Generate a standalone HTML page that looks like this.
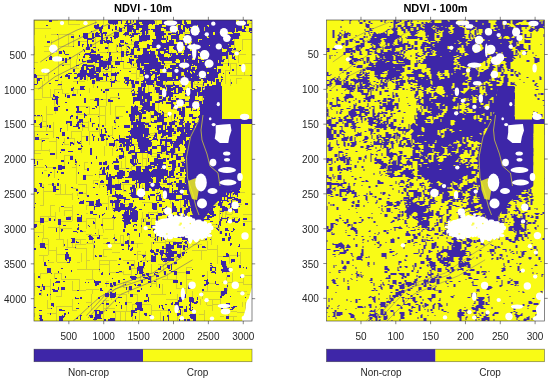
<!DOCTYPE html>
<html><head><meta charset="utf-8"><style>
html,body{margin:0;padding:0;background:#fff;width:550px;height:381px;overflow:hidden}
svg{display:block;font-family:"Liberation Sans",sans-serif}
text{will-change:transform}
</style></head><body>
<svg width="550" height="381" viewBox="0 0 550 381">
<defs><filter id="bl" x="0" y="0" width="1" height="1"><feGaussianBlur stdDeviation="0.45"/></filter><clipPath id="cl"><rect x="34" y="20" width="218" height="301"/></clipPath><clipPath id="cr"><rect x="326.5" y="20" width="218" height="301"/></clipPath></defs><g clip-path="url(#cl)"><g filter="url(#bl)"><rect x="34" y="20" width="218" height="301" fill="#f9fb15"/><path fill="#3e26a8" d="M108 20h14v1h-14zM136 20h18v1h-18zM127 20h1v1h-1zM250 20h2v1h-2zM244 20h3v2h-3zM184 20h2v2h-2zM133 20h1v2h-1zM49 20h3v2h-3zM239 20h4v2h-4zM136 21h19v1h-19zM173 20h9v3h-9zM130 20h1v3h-1zM108 21h10v2h-10zM126 21h2v2h-2zM136 22h3v1h-3zM162 20h5v4h-5zM191 20h45v4h-45zM121 21h1v3h-1zM239 22h8v2h-8zM142 22h13v2h-13zM184 22h3v2h-3zM109 23h9v1h-9zM172 23h10v1h-10zM125 23h6v1h-6zM134 23h5v1h-5zM115 24h1v1h-1zM159 24h7v1h-7zM169 24h1v1h-1zM127 24h2v1h-2zM152 24h1v1h-1zM143 24h6v1h-6zM113 24h1v1h-1zM185 24h64v1h-64zM132 24h8v1h-8zM180 24h3v1h-3zM173 24h4v1h-4zM97 24h2v1h-2zM102 25h1v1h-1zM198 25h9v1h-9zM244 25h5v1h-5zM124 25h9v1h-9zM46 25h2v1h-2zM166 25h10v2h-10zM94 25h5v2h-5zM155 25h7v2h-7zM209 25h33v2h-33zM183 25h14v2h-14zM127 26h7v1h-7zM198 26h10v1h-10zM244 26h1v1h-1zM125 26h1v1h-1zM101 26h2v1h-2zM136 25h12v3h-12zM186 27h4v1h-4zM127 27h6v1h-6zM94 27h9v1h-9zM155 27h17v1h-17zM192 27h12v1h-12zM119 27h1v1h-1zM205 27h37v1h-37zM178 25h3v4h-3zM108 25h2v4h-2zM124 27h1v2h-1zM244 27h2v2h-2zM155 28h6v1h-6zM164 28h8v1h-8zM127 28h7v1h-7zM187 28h1v1h-1zM236 28h6v1h-6zM189 28h15v1h-15zM95 28h8v1h-8zM142 28h6v1h-6zM136 28h3v1h-3zM115 26h2v4h-2zM183 27h2v3h-2zM142 29h8v1h-8zM178 29h4v1h-4zM151 29h10v1h-10zM127 29h12v1h-12zM249 28h3v3h-3zM205 28h30v3h-30zM166 29h6v2h-6zM236 29h9v2h-9zM99 29h3v2h-3zM195 29h9v2h-9zM189 29h5v2h-5zM112 29h1v2h-1zM153 30h8v1h-8zM141 30h7v1h-7zM175 30h1v1h-1zM119 28h3v4h-3zM127 30h5v2h-5zM179 30h6v2h-6zM133 30h3v2h-3zM153 31h11v1h-11zM195 31h4v1h-4zM236 31h2v1h-2zM91 31h1v1h-1zM242 31h4v1h-4zM249 31h1v1h-1zM190 31h4v1h-4zM175 31h3v1h-3zM140 31h5v1h-5zM200 31h35v1h-35zM100 31h2v2h-2zM125 32h4v1h-4zM232 32h2v1h-2zM215 32h6v1h-6zM172 32h3v1h-3zM176 32h2v1h-2zM96 32h2v1h-2zM250 32h2v1h-2zM134 32h2v1h-2zM103 32h4v1h-4zM155 32h9v1h-9zM146 31h2v3h-2zM179 32h4v2h-4zM190 32h23v2h-23zM223 32h5v2h-5zM124 33h5v1h-5zM168 33h10v1h-10zM233 33h7v1h-7zM101 33h6v1h-6zM132 33h8v1h-8zM95 33h5v1h-5zM142 32h3v3h-3zM155 33h11v2h-11zM215 33h7v2h-7zM95 34h4v1h-4zM146 34h1v1h-1zM130 34h1v1h-1zM132 34h6v1h-6zM168 34h3v1h-3zM185 34h28v1h-28zM176 34h4v1h-4zM123 34h6v1h-6zM57 34h1v1h-1zM114 32h5v4h-5zM105 34h1v2h-1zM223 34h17v2h-17zM101 34h2v2h-2zM125 35h1v1h-1zM139 35h1v1h-1zM129 35h5v1h-5zM141 35h9v1h-9zM185 35h37v1h-37zM95 35h5v1h-5zM155 35h9v1h-9zM92 33h2v4h-2zM79 35h1v2h-1zM113 36h6v1h-6zM131 36h3v1h-3zM185 36h22v1h-22zM208 36h31v1h-31zM95 36h8v1h-8zM83 33h5v5h-5zM163 36h1v2h-1zM71 36h3v2h-3zM156 36h6v2h-6zM231 37h8v1h-8zM114 37h4v1h-4zM110 37h2v1h-2zM92 37h3v1h-3zM209 37h20v1h-20zM183 37h24v1h-24zM130 37h2v1h-2zM171 35h8v4h-8zM106 37h2v2h-2zM187 38h52v1h-52zM84 38h10v1h-10zM156 38h10v1h-10zM114 38h2v1h-2zM139 36h11v4h-11zM167 36h1v4h-1zM101 37h2v3h-2zM176 39h3v1h-3zM106 39h1v1h-1zM171 39h1v1h-1zM87 39h5v1h-5zM152 39h14v1h-14zM202 39h31v1h-31zM111 38h1v3h-1zM191 39h7v2h-7zM189 39h1v2h-1zM131 39h1v2h-1zM106 40h4v1h-4zM100 40h5v1h-5zM139 40h8v1h-8zM199 40h33v1h-33zM166 40h1v2h-1zM153 40h8v2h-8zM176 40h9v2h-9zM169 40h5v2h-5zM92 40h2v2h-2zM192 41h6v1h-6zM199 41h35v1h-35zM135 41h7v1h-7zM104 41h8v1h-8zM120 40h4v3h-4zM47 41h3v2h-3zM152 42h10v1h-10zM192 42h42v1h-42zM104 42h9v1h-9zM166 42h8v1h-8zM125 42h1v1h-1zM87 40h1v4h-1zM100 41h3v3h-3zM134 42h5v2h-5zM107 43h2v1h-2zM152 43h22v1h-22zM125 43h3v1h-3zM191 43h43v1h-43zM187 43h1v1h-1zM119 43h1v1h-1zM183 42h2v3h-2zM82 44h2v1h-2zM134 44h4v1h-4zM147 44h2v1h-2zM191 44h37v1h-37zM229 44h5v1h-5zM119 44h2v1h-2zM152 44h26v1h-26zM187 44h2v1h-2zM78 41h2v5h-2zM196 45h13v1h-13zM119 45h5v1h-5zM183 45h7v1h-7zM210 45h21v1h-21zM147 45h35v1h-35zM90 44h2v3h-2zM87 44h2v3h-2zM117 45h1v2h-1zM192 45h3v2h-3zM82 45h1v2h-1zM134 45h5v2h-5zM196 46h35v1h-35zM119 46h3v1h-3zM127 46h2v1h-2zM73 46h1v1h-1zM174 46h8v1h-8zM147 46h3v2h-3zM152 46h17v2h-17zM173 47h9v1h-9zM128 47h2v1h-2zM133 47h6v1h-6zM220 47h9v1h-9zM93 47h3v1h-3zM192 47h26v1h-26zM105 47h3v2h-3zM173 48h10v1h-10zM143 48h7v1h-7zM133 48h1v1h-1zM138 48h2v1h-2zM166 48h3v1h-3zM223 48h10v1h-10zM129 48h1v1h-1zM54 48h1v1h-1zM234 48h2v1h-2zM192 48h30v1h-30zM159 48h5v1h-5zM185 46h5v4h-5zM86 47h4v3h-4zM91 49h2v1h-2zM174 49h9v1h-9zM127 49h1v1h-1zM233 49h3v1h-3zM156 49h13v1h-13zM83 49h1v1h-1zM193 49h29v1h-29zM54 49h2v1h-2zM143 49h4v2h-4zM98 49h1v2h-1zM227 49h5v2h-5zM137 49h3v2h-3zM184 50h6v1h-6zM168 50h1v1h-1zM240 50h1v1h-1zM156 50h10v1h-10zM91 50h3v1h-3zM195 50h27v1h-27zM176 50h7v1h-7zM150 50h1v1h-1zM63 50h1v1h-1zM54 50h3v2h-3zM84 50h1v2h-1zM239 51h1v1h-1zM117 51h1v1h-1zM91 51h5v1h-5zM143 51h12v1h-12zM226 51h5v1h-5zM63 51h2v1h-2zM199 51h23v1h-23zM131 49h3v4h-3zM158 51h2v2h-2zM164 51h5v2h-5zM184 51h14v2h-14zM126 51h3v2h-3zM177 51h1v2h-1zM90 52h6v1h-6zM203 52h25v1h-25zM200 52h2v1h-2zM107 52h1v1h-1zM229 52h3v1h-3zM59 51h3v3h-3zM143 52h6v2h-6zM150 52h5v2h-5zM64 52h1v2h-1zM158 53h3v1h-3zM183 53h45v1h-45zM85 53h6v1h-6zM126 53h1v1h-1zM164 53h1v1h-1zM178 53h4v1h-4zM130 53h4v1h-4zM168 53h8v1h-8zM109 52h2v3h-2zM229 53h5v2h-5zM84 54h12v1h-12zM79 54h1v1h-1zM126 54h8v1h-8zM158 54h6v1h-6zM172 54h4v1h-4zM191 54h37v1h-37zM97 54h3v1h-3zM142 54h13v1h-13zM65 54h4v1h-4zM184 54h4v1h-4zM178 54h3v1h-3zM170 54h1v2h-1zM157 55h7v1h-7zM189 55h39v1h-39zM89 55h11v1h-11zM84 55h1v1h-1zM109 55h1v1h-1zM172 55h16v1h-16zM126 55h2v1h-2zM121 51h3v6h-3zM134 55h3v2h-3zM138 55h18v2h-18zM232 55h1v2h-1zM234 56h1v1h-1zM158 56h6v1h-6zM171 56h27v1h-27zM50 56h2v1h-2zM199 56h23v1h-23zM130 56h2v1h-2zM90 56h13v1h-13zM83 56h2v2h-2zM109 56h3v2h-3zM194 57h4v1h-4zM89 57h14v1h-14zM134 57h22v1h-22zM159 57h9v1h-9zM169 57h24v1h-24zM226 56h2v3h-2zM117 57h1v2h-1zM232 57h3v2h-3zM69 57h2v2h-2zM159 58h33v1h-33zM195 58h3v1h-3zM129 58h1v1h-1zM138 58h20v1h-20zM204 57h18v3h-18zM49 57h3v3h-3zM91 58h10v2h-10zM57 58h1v2h-1zM106 59h1v1h-1zM188 59h4v1h-4zM137 59h21v1h-21zM223 59h2v1h-2zM159 59h17v1h-17zM234 59h2v1h-2zM179 59h5v1h-5zM195 59h6v1h-6zM185 59h2v1h-2zM108 58h4v3h-4zM62 58h2v3h-2zM79 59h1v2h-1zM82 59h1v2h-1zM129 59h5v2h-5zM199 60h19v1h-19zM99 60h4v1h-4zM46 60h1v1h-1zM160 60h16v1h-16zM87 60h10v2h-10zM180 60h4v2h-4zM185 60h13v2h-13zM219 60h5v2h-5zM136 60h22v2h-22zM204 61h14v1h-14zM199 61h3v1h-3zM82 61h4v1h-4zM172 61h3v1h-3zM99 61h12v1h-12zM115 61h9v1h-9zM129 61h3v1h-3zM65 58h2v5h-2zM162 61h2v2h-2zM199 62h19v1h-19zM127 62h5v1h-5zM87 62h6v1h-6zM172 62h4v1h-4zM95 62h16v1h-16zM180 62h18v1h-18zM219 62h2v1h-2zM136 62h25v1h-25zM176 63h45v1h-45zM141 63h3v1h-3zM162 63h3v1h-3zM149 63h12v1h-12zM130 63h2v1h-2zM115 62h5v3h-5zM99 63h12v2h-12zM176 64h16v1h-16zM164 64h1v1h-1zM193 64h30v1h-30zM83 64h4v1h-4zM141 64h20v1h-20zM131 64h1v1h-1zM228 63h1v3h-1zM133 64h1v2h-1zM82 65h12v1h-12zM141 65h23v1h-23zM76 65h3v1h-3zM187 65h7v1h-7zM239 65h2v1h-2zM170 65h15v1h-15zM195 65h28v1h-28zM62 65h2v1h-2zM137 63h3v4h-3zM111 65h2v2h-2zM99 65h8v2h-8zM82 66h2v1h-2zM187 66h4v1h-4zM170 66h13v1h-13zM86 66h9v1h-9zM184 66h1v1h-1zM208 66h9v2h-9zM197 66h9v2h-9zM103 67h3v1h-3zM178 67h5v1h-5zM93 67h2v1h-2zM138 67h2v1h-2zM111 67h4v1h-4zM116 67h1v1h-1zM170 67h6v1h-6zM86 67h2v1h-2zM108 65h1v4h-1zM144 66h20v3h-20zM192 67h3v2h-3zM185 67h6v2h-6zM165 67h1v2h-1zM34 68h1v1h-1zM172 68h11v1h-11zM197 68h17v1h-17zM216 68h1v1h-1zM91 68h4v1h-4zM86 68h3v1h-3zM103 68h2v1h-2zM168 68h2v1h-2zM81 67h3v3h-3zM137 68h5v2h-5zM105 69h3v1h-3zM178 69h17v1h-17zM86 69h9v1h-9zM143 69h9v1h-9zM196 69h21v1h-21zM243 66h2v5h-2zM96 67h5v4h-5zM232 69h2v2h-2zM155 69h5v2h-5zM140 70h4v1h-4zM188 70h29v1h-29zM145 70h5v1h-5zM120 70h1v1h-1zM89 70h6v1h-6zM164 69h12v3h-12zM218 69h3v3h-3zM73 69h2v3h-2zM178 70h9v2h-9zM157 71h3v1h-3zM129 71h2v1h-2zM188 71h2v1h-2zM195 71h22v1h-22zM89 71h12v1h-12zM140 71h15v1h-15zM191 71h2v1h-2zM80 70h7v3h-7zM115 72h1v1h-1zM99 72h1v1h-1zM152 72h8v1h-8zM209 72h12v1h-12zM145 72h5v1h-5zM192 72h2v1h-2zM89 72h7v1h-7zM195 72h12v1h-12zM43 72h2v1h-2zM117 72h2v1h-2zM184 72h6v1h-6zM140 72h4v2h-4zM229 72h1v2h-1zM74 73h3v1h-3zM78 73h21v1h-21zM111 73h8v1h-8zM223 73h1v1h-1zM192 73h15v1h-15zM184 73h7v1h-7zM68 73h4v1h-4zM209 73h10v1h-10zM106 73h2v1h-2zM103 73h1v1h-1zM145 73h6v1h-6zM152 73h15v1h-15zM54 73h1v1h-1zM77 74h17v1h-17zM96 74h3v1h-3zM66 74h2v1h-2zM184 74h34v1h-34zM143 74h10v1h-10zM155 74h4v1h-4zM34 74h2v1h-2zM172 72h9v4h-9zM160 74h7v2h-7zM103 74h5v2h-5zM111 74h6v2h-6zM87 75h12v1h-12zM198 75h20v1h-20zM143 75h9v1h-9zM250 75h2v1h-2zM185 75h12v1h-12zM155 75h2v2h-2zM65 75h5v2h-5zM77 75h9v2h-9zM88 76h11v1h-11zM158 76h9v1h-9zM172 76h4v1h-4zM185 76h33v1h-33zM106 76h3v1h-3zM178 76h6v1h-6zM221 76h1v1h-1zM61 76h1v1h-1zM34 75h3v3h-3zM155 77h21v1h-21zM206 77h12v1h-12zM178 77h13v1h-13zM221 77h2v1h-2zM74 77h4v1h-4zM60 77h2v1h-2zM192 77h13v1h-13zM90 77h13v1h-13zM80 77h3v2h-3zM68 77h2v2h-2zM124 77h5v2h-5zM74 78h3v1h-3zM37 78h5v1h-5zM178 78h21v1h-21zM201 78h14v1h-14zM158 78h18v1h-18zM90 78h4v1h-4zM115 76h1v4h-1zM144 76h7v4h-7zM84 77h2v3h-2zM154 78h3v2h-3zM96 78h7v2h-7zM125 79h4v1h-4zM158 79h15v1h-15zM203 79h12v1h-12zM130 79h1v1h-1zM174 79h27v1h-27zM80 79h2v1h-2zM110 79h1v1h-1zM90 79h1v1h-1zM221 79h2v1h-2zM106 77h1v4h-1zM37 79h3v2h-3zM180 80h21v1h-21zM208 80h7v1h-7zM160 80h19v1h-19zM125 80h9v1h-9zM203 80h4v1h-4zM55 80h3v1h-3zM114 80h3v1h-3zM96 80h4v1h-4zM143 80h14v1h-14zM216 79h3v3h-3zM221 80h1v2h-1zM166 81h1v1h-1zM127 81h2v1h-2zM213 81h2v1h-2zM110 81h5v1h-5zM204 81h3v1h-3zM191 81h3v1h-3zM141 81h4v1h-4zM124 81h1v2h-1zM146 81h8v2h-8zM198 82h1v1h-1zM111 82h4v1h-4zM126 82h3v1h-3zM143 82h2v1h-2zM203 82h4v1h-4zM92 80h3v4h-3zM37 81h1v3h-1zM131 81h3v3h-3zM135 81h4v3h-4zM77 81h1v3h-1zM211 81h1v3h-1zM173 82h1v2h-1zM231 82h1v2h-1zM125 83h4v1h-4zM49 83h2v1h-2zM141 83h12v1h-12zM156 81h7v4h-7zM216 82h5v3h-5zM34 84h3v1h-3zM173 84h2v1h-2zM58 84h4v1h-4zM147 84h7v1h-7zM203 83h1v3h-1zM127 84h1v2h-1zM166 85h13v1h-13zM212 85h9v1h-9zM157 85h8v1h-8zM111 83h1v4h-1zM141 84h5v3h-5zM182 84h3v3h-3zM153 85h1v2h-1zM166 86h7v1h-7zM220 86h2v1h-2zM223 86h1v1h-1zM226 86h1v1h-1zM175 86h4v1h-4zM196 86h2v1h-2zM80 86h5v1h-5zM212 86h7v1h-7zM160 86h5v1h-5zM191 82h2v6h-2zM207 84h2v4h-2zM132 84h3v4h-3zM97 86h1v2h-1zM188 87h1v1h-1zM202 87h4v1h-4zM144 87h1v1h-1zM73 87h1v1h-1zM173 87h9v1h-9zM162 87h4v1h-4zM167 87h4v1h-4zM211 87h11v1h-11zM197 87h4v2h-4zM80 87h4v2h-4zM192 88h3v1h-3zM71 88h3v1h-3zM211 88h12v1h-12zM204 88h5v1h-5zM155 87h5v3h-5zM202 88h1v2h-1zM178 88h5v2h-5zM167 88h9v2h-9zM133 89h1v1h-1zM189 89h3v1h-3zM194 89h7v1h-7zM80 89h5v1h-5zM204 89h19v1h-19zM138 87h4v4h-4zM165 88h1v3h-1zM143 88h2v3h-2zM71 89h2v2h-2zM101 89h1v2h-1zM105 89h4v2h-4zM167 90h6v1h-6zM132 90h2v1h-2zM189 90h12v1h-12zM178 90h6v1h-6zM185 90h1v2h-1zM156 90h6v2h-6zM202 90h21v2h-21zM165 91h6v1h-6zM137 91h8v1h-8zM189 91h11v1h-11zM131 91h1v1h-1zM174 90h2v3h-2zM178 91h4v2h-4zM103 91h2v2h-2zM134 91h1v2h-1zM185 92h3v1h-3zM58 92h1v1h-1zM156 92h17v1h-17zM138 92h7v1h-7zM148 92h4v1h-4zM159 93h20v1h-20zM138 93h12v1h-12zM132 93h3v1h-3zM186 93h2v1h-2zM198 92h25v3h-25zM53 94h1v1h-1zM159 94h3v1h-3zM132 94h18v1h-18zM189 92h8v4h-8zM118 93h1v3h-1zM72 94h4v2h-4zM163 94h10v2h-10zM185 94h3v2h-3zM80 94h1v2h-1zM132 95h3v1h-3zM198 95h9v1h-9zM208 95h19v1h-19zM137 95h13v1h-13zM53 95h2v1h-2zM65 94h1v3h-1zM53 96h5v1h-5zM203 96h1v1h-1zM208 96h17v1h-17zM169 96h4v1h-4zM198 96h1v1h-1zM175 96h1v1h-1zM163 96h5v1h-5zM205 96h1v1h-1zM137 96h5v1h-5zM67 95h3v3h-3zM203 97h3v1h-3zM55 97h4v1h-4zM222 97h1v1h-1zM208 97h12v1h-12zM169 97h2v1h-2zM159 96h3v3h-3zM190 96h5v3h-5zM143 96h9v3h-9zM163 97h3v2h-3zM133 97h9v2h-9zM176 98h3v1h-3zM172 98h1v1h-1zM52 98h1v1h-1zM204 98h15v1h-15zM55 98h3v1h-3zM118 98h2v1h-2zM95 98h4v2h-4zM168 98h3v2h-3zM176 99h9v1h-9zM162 99h4v1h-4zM189 99h6v1h-6zM204 99h12v1h-12zM108 99h2v1h-2zM52 99h6v1h-6zM101 99h2v1h-2zM147 99h5v2h-5zM133 99h12v2h-12zM177 100h8v1h-8zM159 100h7v1h-7zM189 100h10v1h-10zM203 100h12v1h-12zM94 100h5v1h-5zM168 100h8v1h-8zM108 100h5v2h-5zM147 101h3v1h-3zM155 101h8v1h-8zM171 101h5v1h-5zM203 101h15v1h-15zM133 101h2v1h-2zM140 101h5v1h-5zM177 101h17v1h-17zM84 98h2v5h-2zM155 102h5v1h-5zM65 102h2v1h-2zM203 102h18v1h-18zM140 102h3v1h-3zM144 102h6v1h-6zM56 100h2v4h-2zM199 101h3v3h-3zM166 102h7v2h-7zM162 102h1v2h-1zM133 102h1v2h-1zM189 102h5v2h-5zM177 102h8v2h-8zM203 103h13v1h-13zM217 103h5v1h-5zM140 103h10v2h-10zM181 104h1v1h-1zM176 104h1v1h-1zM189 104h8v1h-8zM171 104h3v1h-3zM57 104h1v1h-1zM97 101h2v5h-2zM152 103h3v3h-3zM142 105h8v1h-8zM171 105h5v1h-5zM189 105h5v1h-5zM135 105h1v1h-1zM199 104h23v3h-23zM134 106h4v1h-4zM58 106h2v1h-2zM171 106h4v1h-4zM95 106h2v1h-2zM143 106h12v1h-12zM131 106h2v1h-2zM76 106h3v2h-3zM186 106h8v2h-8zM86 107h2v1h-2zM96 107h1v1h-1zM171 107h2v2h-2zM142 107h13v2h-13zM92 108h3v1h-3zM200 107h22v3h-22zM196 108h1v2h-1zM141 109h14v1h-14zM54 107h4v4h-4zM131 107h7v4h-7zM182 107h3v4h-3zM191 108h1v3h-1zM77 108h2v3h-2zM177 108h4v3h-4zM66 109h2v2h-2zM139 110h5v1h-5zM160 110h1v1h-1zM146 110h10v1h-10zM193 110h4v1h-4zM240 110h2v1h-2zM199 110h23v1h-23zM162 111h1v1h-1zM239 111h3v1h-3zM141 111h5v1h-5zM148 111h2v1h-2zM131 111h8v1h-8zM154 111h3v1h-3zM200 111h24v2h-24zM76 111h6v2h-6zM126 111h2v2h-2zM162 112h2v1h-2zM131 112h10v1h-10zM142 112h4v1h-4zM154 112h4v1h-4zM244 112h1v2h-1zM163 113h1v1h-1zM84 113h1v1h-1zM131 113h15v1h-15zM200 113h23v1h-23zM179 111h6v4h-6zM154 113h7v2h-7zM162 114h2v1h-2zM84 114h2v1h-2zM129 114h13v1h-13zM200 114h22v1h-22zM244 114h2v2h-2zM71 115h2v1h-2zM199 115h22v1h-22zM136 115h1v1h-1zM34 115h2v1h-2zM37 115h3v1h-3zM151 115h7v1h-7zM224 115h5v1h-5zM84 115h3v1h-3zM41 115h1v1h-1zM168 114h1v3h-1zM174 114h2v3h-2zM189 114h4v3h-4zM129 115h6v2h-6zM181 115h4v2h-4zM159 115h5v2h-5zM244 116h3v1h-3zM98 116h1v1h-1zM70 116h3v1h-3zM198 116h23v1h-23zM157 116h1v1h-1zM224 116h8v1h-8zM151 116h3v2h-3zM84 116h1v2h-1zM224 117h3v1h-3zM242 117h6v1h-6zM157 117h10v1h-10zM229 117h2v1h-2zM201 117h20v1h-20zM192 117h5v1h-5zM198 117h2v1h-2zM139 115h3v4h-3zM76 116h2v3h-2zM70 117h1v2h-1zM177 117h1v2h-1zM143 117h3v2h-3zM116 117h3v2h-3zM174 117h1v2h-1zM183 117h1v2h-1zM242 118h7v1h-7zM192 118h4v1h-4zM201 118h21v1h-21zM157 118h7v2h-7zM199 118h1v2h-1zM223 119h4v1h-4zM243 119h6v1h-6zM179 119h5v1h-5zM241 119h1v1h-1zM201 119h12v1h-12zM130 117h5v4h-5zM233 117h1v4h-1zM79 119h4v2h-4zM139 119h2v2h-2zM136 119h2v2h-2zM180 120h4v1h-4zM174 120h1v1h-1zM243 120h2v1h-2zM90 118h1v4h-1zM214 119h8v3h-8zM225 120h2v2h-2zM114 120h1v2h-1zM154 120h10v2h-10zM198 120h12v2h-12zM184 121h1v1h-1zM131 121h2v1h-2zM172 121h5v1h-5zM136 121h5v1h-5zM240 121h3v1h-3zM180 121h3v1h-3zM78 121h5v1h-5zM151 121h1v1h-1zM34 120h2v3h-2zM192 121h3v2h-3zM245 121h1v2h-1zM187 121h2v2h-2zM66 121h6v2h-6zM114 122h2v1h-2zM131 122h14v1h-14zM225 122h18v1h-18zM151 122h6v1h-6zM82 122h1v1h-1zM179 122h5v1h-5zM216 122h6v1h-6zM197 122h18v1h-18zM41 122h1v1h-1zM77 122h4v1h-4zM240 123h7v1h-7zM40 123h2v1h-2zM66 123h1v1h-1zM92 123h3v1h-3zM77 123h2v1h-2zM131 123h18v1h-18zM249 120h3v5h-3zM162 122h5v3h-5zM169 122h6v3h-6zM179 123h4v2h-4zM194 123h45v2h-45zM185 123h6v2h-6zM39 124h3v1h-3zM82 124h1v1h-1zM131 124h13v1h-13zM241 124h6v1h-6zM145 124h4v1h-4zM70 123h2v3h-2zM76 124h3v2h-3zM193 125h46v1h-46zM170 125h2v1h-2zM242 125h10v1h-10zM92 124h1v3h-1zM98 124h1v3h-1zM185 125h5v2h-5zM133 125h4v2h-4zM82 125h3v2h-3zM138 125h7v2h-7zM182 125h2v2h-2zM47 125h1v2h-1zM148 125h3v2h-3zM175 125h2v2h-2zM102 125h2v2h-2zM241 126h11v1h-11zM73 126h6v1h-6zM226 126h13v1h-13zM118 126h1v1h-1zM49 125h2v3h-2zM40 125h2v3h-2zM124 125h6v3h-6zM157 125h6v3h-6zM167 126h5v2h-5zM193 126h2v2h-2zM196 126h25v2h-25zM155 127h1v1h-1zM177 127h13v1h-13zM133 127h12v1h-12zM226 127h25v1h-25zM165 125h1v4h-1zM78 127h2v2h-2zM199 128h25v1h-25zM196 128h1v1h-1zM177 128h18v1h-18zM226 128h19v1h-19zM246 128h3v1h-3zM60 128h2v1h-2zM104 128h2v1h-2zM167 128h7v1h-7zM114 128h2v1h-2zM161 128h2v2h-2zM96 128h2v2h-2zM157 128h2v2h-2zM131 128h18v2h-18zM185 129h5v1h-5zM192 129h29v1h-29zM225 129h11v1h-11zM239 129h6v1h-6zM165 129h9v1h-9zM177 129h7v2h-7zM105 129h1v2h-1zM168 130h6v1h-6zM201 130h48v1h-48zM130 130h19v1h-19zM185 130h12v1h-12zM60 129h1v3h-1zM158 130h8v2h-8zM200 131h8v1h-8zM180 131h4v1h-4zM128 131h21v1h-21zM177 131h2v1h-2zM210 131h39v1h-39zM185 131h9v1h-9zM195 131h2v1h-2zM168 131h8v1h-8zM105 131h2v2h-2zM200 132h43v1h-43zM174 132h2v1h-2zM158 132h14v1h-14zM244 132h5v1h-5zM181 132h16v1h-16zM101 129h1v5h-1zM130 132h19v2h-19zM158 133h3v1h-3zM242 133h1v1h-1zM181 133h5v1h-5zM173 133h3v1h-3zM187 133h10v1h-10zM200 133h41v1h-41zM155 133h2v2h-2zM162 133h10v2h-10zM245 133h1v2h-1zM37 134h1v1h-1zM242 134h2v1h-2zM180 134h23v1h-23zM144 134h6v1h-6zM205 134h36v1h-36zM46 134h2v1h-2zM62 132h3v4h-3zM92 134h1v2h-1zM131 134h12v2h-12zM100 134h6v2h-6zM108 135h1v1h-1zM195 135h1v1h-1zM162 135h4v1h-4zM129 135h1v1h-1zM197 135h3v1h-3zM180 135h13v1h-13zM144 135h4v2h-4zM168 135h4v2h-4zM154 135h3v2h-3zM93 136h2v1h-2zM177 136h23v1h-23zM126 136h17v1h-17zM100 136h4v1h-4zM250 136h2v1h-2zM108 136h2v1h-2zM161 136h3v1h-3zM204 135h41v3h-41zM119 135h1v3h-1zM153 137h2v1h-2zM161 137h2v1h-2zM126 137h20v1h-20zM156 137h1v1h-1zM149 137h2v1h-2zM190 137h7v1h-7zM56 137h3v1h-3zM112 137h1v1h-1zM166 137h1v2h-1zM67 137h2v2h-2zM177 137h9v2h-9zM101 137h3v2h-3zM229 138h6v1h-6zM119 138h6v1h-6zM204 138h23v1h-23zM153 138h4v1h-4zM129 138h3v1h-3zM249 138h3v1h-3zM58 138h1v1h-1zM113 138h1v1h-1zM134 138h15v1h-15zM236 138h9v1h-9zM35 137h4v3h-4zM189 138h4v2h-4zM106 138h2v2h-2zM196 138h1v2h-1zM116 139h2v1h-2zM176 139h10v1h-10zM236 139h12v1h-12zM101 139h4v1h-4zM208 139h19v1h-19zM137 139h12v1h-12zM152 139h6v1h-6zM119 139h13v1h-13zM229 139h3v1h-3zM86 136h2v5h-2zM93 137h1v4h-1zM98 138h1v3h-1zM160 139h12v2h-12zM184 140h2v1h-2zM203 140h1v1h-1zM245 140h2v1h-2zM176 140h7v1h-7zM207 140h26v1h-26zM101 140h3v1h-3zM114 140h16v1h-16zM235 140h6v1h-6zM196 140h4v1h-4zM157 140h1v1h-1zM187 140h6v1h-6zM137 140h15v1h-15zM42 140h3v1h-3zM131 140h1v2h-1zM137 141h14v1h-14zM207 141h33v1h-33zM165 141h18v1h-18zM119 141h11v1h-11zM42 141h1v1h-1zM185 141h19v1h-19zM80 141h1v1h-1zM77 141h1v1h-1zM114 141h1v2h-1zM119 142h6v1h-6zM77 142h3v1h-3zM174 142h9v1h-9zM70 142h3v1h-3zM170 142h3v1h-3zM185 142h55v1h-55zM63 142h1v1h-1zM160 141h2v3h-2zM126 142h6v2h-6zM70 143h4v1h-4zM170 143h13v1h-13zM185 143h7v1h-7zM78 143h3v1h-3zM122 143h3v1h-3zM195 143h46v1h-46zM173 144h7v1h-7zM160 144h1v1h-1zM73 144h1v1h-1zM62 144h1v1h-1zM131 144h3v1h-3zM184 144h8v1h-8zM123 144h7v1h-7zM182 144h1v1h-1zM225 144h15v1h-15zM195 144h19v1h-19zM216 144h7v1h-7zM165 142h2v4h-2zM138 142h14v4h-14zM109 143h6v3h-6zM171 144h1v2h-1zM120 144h2v2h-2zM70 144h1v2h-1zM157 145h7v1h-7zM123 145h11v1h-11zM196 145h44v1h-44zM81 145h1v1h-1zM184 145h9v1h-9zM173 145h6v2h-6zM119 146h3v1h-3zM81 146h2v1h-2zM161 146h9v1h-9zM195 146h29v1h-29zM130 146h1v1h-1zM113 146h1v1h-1zM185 146h9v1h-9zM138 146h13v1h-13zM123 146h2v1h-2zM225 146h18v2h-18zM185 147h39v1h-39zM139 147h9v1h-9zM173 147h7v1h-7zM152 146h5v3h-5zM225 148h15v1h-15zM171 148h4v1h-4zM78 148h4v1h-4zM186 148h38v1h-38zM138 148h10v1h-10zM134 146h1v4h-1zM119 148h4v2h-4zM117 149h1v1h-1zM186 149h54v1h-54zM78 149h3v1h-3zM126 146h3v5h-3zM161 147h6v4h-6zM178 148h2v3h-2zM140 149h8v2h-8zM61 149h4v2h-4zM150 149h2v2h-2zM170 149h5v2h-5zM116 150h2v1h-2zM130 150h5v1h-5zM121 150h2v1h-2zM185 150h55v1h-55zM243 150h1v2h-1zM121 151h3v1h-3zM68 151h5v1h-5zM147 151h5v1h-5zM161 151h4v1h-4zM140 151h5v1h-5zM129 151h6v1h-6zM185 151h17v2h-17zM205 151h35v2h-35zM166 151h9v2h-9zM60 152h1v1h-1zM128 152h24v1h-24zM157 152h5v1h-5zM232 153h8v1h-8zM128 153h3v1h-3zM161 153h1v1h-1zM166 153h2v1h-2zM171 153h3v1h-3zM148 153h4v1h-4zM205 153h26v1h-26zM90 148h2v7h-2zM123 152h1v3h-1zM183 153h19v2h-19zM135 153h2v2h-2zM50 153h5v2h-5zM166 154h3v1h-3zM205 154h35v1h-35zM171 154h7v1h-7zM150 154h2v1h-2zM238 155h2v1h-2zM183 155h54v1h-54zM176 155h2v1h-2zM157 154h3v3h-3zM239 156h1v1h-1zM176 156h47v1h-47zM224 156h11v1h-11zM171 155h2v3h-2zM119 155h5v3h-5zM239 157h4v1h-4zM224 157h10v1h-10zM184 157h39v1h-39zM157 157h4v1h-4zM132 155h5v4h-5zM96 156h1v3h-1zM184 158h2v1h-2zM119 158h3v1h-3zM191 158h43v1h-43zM116 158h1v1h-1zM163 158h3v1h-3zM154 158h4v1h-4zM236 158h7v1h-7zM70 156h3v4h-3zM176 157h5v3h-5zM167 158h2v2h-2zM237 159h6v1h-6zM116 159h2v2h-2zM75 159h1v2h-1zM203 159h31v2h-31zM185 159h16v2h-16zM240 160h1v1h-1zM172 160h4v1h-4zM148 158h1v4h-1zM154 159h12v3h-12zM61 160h3v2h-3zM184 161h17v1h-17zM105 161h2v1h-2zM215 161h18v1h-18zM137 159h1v4h-1zM130 159h4v4h-4zM135 159h1v4h-1zM113 161h6v2h-6zM75 161h2v2h-2zM185 162h16v1h-16zM215 162h21v1h-21zM181 162h3v1h-3zM34 159h1v5h-1zM169 161h7v3h-7zM203 161h11v3h-11zM150 162h13v2h-13zM91 162h1v2h-1zM68 162h1v2h-1zM138 163h3v1h-3zM215 163h17v1h-17zM131 163h6v1h-6zM234 163h2v1h-2zM112 163h1v1h-1zM37 161h1v4h-1zM99 162h3v3h-3zM103 162h4v3h-4zM150 164h7v1h-7zM75 164h1v1h-1zM158 164h8v1h-8zM208 164h6v1h-6zM132 164h5v1h-5zM182 163h19v3h-19zM203 164h2v2h-2zM215 164h16v2h-16zM108 165h1v1h-1zM79 165h1v1h-1zM148 165h3v1h-3zM154 165h12v1h-12zM209 165h5v1h-5zM45 165h1v1h-1zM34 165h2v1h-2zM58 165h4v1h-4zM133 165h2v1h-2zM178 163h2v4h-2zM233 164h3v3h-3zM107 166h2v1h-2zM184 166h24v1h-24zM168 166h3v1h-3zM218 166h14v1h-14zM145 166h10v1h-10zM212 166h1v1h-1zM172 164h4v4h-4zM240 166h4v2h-4zM46 166h1v2h-1zM157 166h9v2h-9zM153 167h2v1h-2zM212 167h3v1h-3zM101 167h1v1h-1zM114 165h5v4h-5zM58 166h7v3h-7zM218 167h18v2h-18zM106 167h3v2h-3zM53 167h3v2h-3zM145 167h7v2h-7zM180 167h28v2h-28zM100 168h2v1h-2zM162 168h4v1h-4zM212 168h2v1h-2zM126 168h3v1h-3zM157 168h4v1h-4zM103 167h2v3h-2zM172 168h3v2h-3zM241 168h3v2h-3zM106 169h1v1h-1zM108 169h1v1h-1zM115 169h4v1h-4zM185 169h14v1h-14zM142 169h7v1h-7zM100 169h1v1h-1zM153 169h13v1h-13zM229 169h7v1h-7zM58 169h4v1h-4zM218 169h10v1h-10zM204 169h11v1h-11zM136 166h5v5h-5zM87 168h2v3h-2zM208 170h20v1h-20zM132 170h3v1h-3zM143 170h6v1h-6zM171 170h4v1h-4zM198 170h1v1h-1zM202 170h5v1h-5zM231 170h2v1h-2zM119 170h4v1h-4zM152 170h16v1h-16zM180 169h4v3h-4zM185 170h12v2h-12zM119 171h6v1h-6zM143 171h7v1h-7zM127 171h2v1h-2zM198 171h30v1h-30zM130 171h11v1h-11zM151 171h17v1h-17zM102 170h3v3h-3zM57 171h1v2h-1zM186 172h20v1h-20zM227 172h1v1h-1zM50 172h2v1h-2zM178 172h2v1h-2zM61 172h3v2h-3zM78 172h1v2h-1zM42 172h1v2h-1zM208 172h18v2h-18zM202 173h4v1h-4zM234 173h3v1h-3zM186 173h14v1h-14zM102 173h4v1h-4zM107 172h1v3h-1zM117 172h8v3h-8zM176 173h2v2h-2zM95 174h1v1h-1zM99 174h7v1h-7zM206 174h22v1h-22zM185 174h16v1h-16zM231 174h6v1h-6zM169 171h5v5h-5zM129 172h39v4h-39zM180 173h2v3h-2zM109 174h2v2h-2zM48 174h2v2h-2zM115 175h10v1h-10zM231 175h10v1h-10zM185 175h17v1h-17zM206 175h21v2h-21zM106 175h2v2h-2zM109 176h14v1h-14zM48 176h1v1h-1zM231 176h3v1h-3zM173 176h2v1h-2zM186 176h15v1h-15zM167 176h4v1h-4zM128 176h36v1h-36zM237 176h4v2h-4zM125 177h26v1h-26zM202 177h10v1h-10zM215 177h13v1h-13zM117 177h7v1h-7zM152 177h1v1h-1zM106 177h9v1h-9zM167 177h8v1h-8zM185 177h16v1h-16zM230 177h2v1h-2zM156 177h8v2h-8zM117 178h5v1h-5zM176 178h3v1h-3zM202 178h8v1h-8zM165 178h2v1h-2zM113 178h2v1h-2zM132 178h20v1h-20zM83 175h3v5h-3zM106 178h6v2h-6zM215 178h18v2h-18zM185 178h15v2h-15zM163 179h1v1h-1zM202 179h7v1h-7zM58 179h1v1h-1zM132 179h21v1h-21zM165 179h1v1h-1zM185 180h24v1h-24zM132 180h3v1h-3zM101 180h2v1h-2zM156 179h5v3h-5zM125 180h4v2h-4zM138 180h15v2h-15zM136 180h1v2h-1zM215 180h19v2h-19zM185 181h23v1h-23zM163 180h4v3h-4zM179 180h3v3h-3zM174 181h2v2h-2zM100 181h4v2h-4zM171 182h2v1h-2zM226 182h11v1h-11zM185 182h20v1h-20zM151 182h2v1h-2zM206 182h1v1h-1zM215 182h6v1h-6zM136 182h13v1h-13zM122 182h7v1h-7zM156 182h3v1h-3zM108 180h4v4h-4zM139 183h2v1h-2zM39 183h3v1h-3zM135 183h2v1h-2zM95 183h3v1h-3zM176 183h9v1h-9zM120 183h1v1h-1zM228 183h5v1h-5zM234 183h2v1h-2zM191 183h19v1h-19zM186 183h1v1h-1zM167 183h5v2h-5zM97 184h1v1h-1zM106 184h6v1h-6zM115 184h6v1h-6zM200 184h10v1h-10zM52 183h2v3h-2zM145 183h15v3h-15zM57 183h2v3h-2zM238 183h3v3h-3zM191 184h7v2h-7zM176 184h11v2h-11zM228 184h8v2h-8zM106 185h15v1h-15zM40 184h2v3h-2zM172 185h1v2h-1zM132 185h3v2h-3zM203 185h5v2h-5zM194 186h4v1h-4zM176 186h15v1h-15zM103 186h1v1h-1zM145 186h16v1h-16zM218 183h9v5h-9zM139 184h1v4h-1zM136 184h1v4h-1zM209 185h1v3h-1zM228 186h13v2h-13zM107 186h14v2h-14zM130 187h5v1h-5zM178 187h5v1h-5zM71 187h2v1h-2zM93 187h2v1h-2zM204 187h4v1h-4zM42 187h2v1h-2zM184 187h7v1h-7zM194 187h6v1h-6zM145 187h17v1h-17zM163 187h2v1h-2zM53 186h3v3h-3zM209 188h2v1h-2zM218 188h8v1h-8zM115 188h6v1h-6zM34 188h2v1h-2zM151 188h8v1h-8zM130 188h6v1h-6zM194 188h2v1h-2zM142 188h2v1h-2zM107 188h5v2h-5zM178 188h14v2h-14zM228 188h12v2h-12zM203 188h5v2h-5zM160 188h9v2h-9zM115 189h7v1h-7zM221 189h5v1h-5zM53 189h6v1h-6zM209 189h4v1h-4zM215 189h5v1h-5zM130 189h2v1h-2zM172 188h1v3h-1zM145 188h4v3h-4zM142 189h1v2h-1zM152 189h3v2h-3zM76 189h2v2h-2zM215 190h3v1h-3zM203 190h4v1h-4zM174 190h9v1h-9zM107 190h1v1h-1zM228 190h11v1h-11zM124 190h2v1h-2zM208 190h5v1h-5zM34 189h3v3h-3zM133 189h3v3h-3zM220 190h6v2h-6zM131 190h1v2h-1zM187 190h5v2h-5zM53 190h3v2h-3zM137 191h5v1h-5zM172 191h11v1h-11zM215 191h4v1h-4zM228 191h12v1h-12zM208 191h6v1h-6zM163 190h6v3h-6zM200 191h3v2h-3zM211 192h4v1h-4zM227 192h5v1h-5zM131 192h5v1h-5zM208 192h1v1h-1zM234 192h6v1h-6zM107 192h1v1h-1zM172 192h1v1h-1zM174 192h2v1h-2zM219 192h1v1h-1zM37 192h2v1h-2zM159 192h1v1h-1zM177 192h6v1h-6zM223 192h3v1h-3zM110 190h2v4h-2zM115 191h1v3h-1zM79 192h4v2h-4zM187 192h2v2h-2zM37 193h1v1h-1zM203 193h6v1h-6zM129 193h7v1h-7zM211 193h5v1h-5zM233 193h5v1h-5zM156 193h3v1h-3zM137 192h4v3h-4zM227 193h2v2h-2zM163 193h20v2h-20zM219 193h7v2h-7zM160 194h1v1h-1zM233 194h1v1h-1zM199 194h2v1h-2zM119 194h2v1h-2zM115 194h3v1h-3zM107 194h1v1h-1zM96 194h2v1h-2zM235 194h3v1h-3zM203 194h14v1h-14zM131 194h5v1h-5zM194 193h1v3h-1zM150 194h5v2h-5zM204 195h13v1h-13zM143 195h2v1h-2zM130 195h9v1h-9zM148 195h1v1h-1zM218 195h10v1h-10zM157 195h4v1h-4zM230 193h1v4h-1zM182 195h7v2h-7zM87 195h2v2h-2zM112 195h11v2h-11zM237 195h1v2h-1zM141 196h2v1h-2zM131 196h8v1h-8zM204 196h24v1h-24zM148 196h2v2h-2zM159 196h2v2h-2zM203 197h19v1h-19zM227 197h8v1h-8zM198 197h1v1h-1zM116 197h10v1h-10zM132 197h11v1h-11zM165 195h11v4h-11zM182 197h9v2h-9zM215 198h7v1h-7zM78 198h1v1h-1zM227 198h5v1h-5zM139 198h4v1h-4zM203 198h5v1h-5zM209 198h4v1h-4zM117 198h9v1h-9zM234 198h4v1h-4zM156 196h1v4h-1zM224 197h1v3h-1zM195 197h2v3h-2zM149 198h1v2h-1zM159 198h3v2h-3zM98 199h2v1h-2zM208 199h1v1h-1zM227 199h1v1h-1zM124 199h6v1h-6zM169 199h16v1h-16zM232 199h9v1h-9zM186 199h5v1h-5zM210 199h12v1h-12zM139 199h6v1h-6zM117 199h2v1h-2zM217 200h11v1h-11zM236 200h5v1h-5zM156 200h6v1h-6zM114 200h7v1h-7zM175 200h4v1h-4zM83 200h1v1h-1zM110 200h3v1h-3zM133 200h1v2h-1zM199 200h16v2h-16zM194 201h2v1h-2zM227 201h2v1h-2zM219 201h2v1h-2zM162 201h3v1h-3zM222 201h1v1h-1zM86 201h8v1h-8zM80 201h4v1h-4zM124 200h1v3h-1zM231 200h1v3h-1zM96 200h4v3h-4zM238 201h3v2h-3zM110 201h10v2h-10zM190 202h6v1h-6zM172 202h1v1h-1zM157 202h2v1h-2zM199 202h10v1h-10zM219 202h4v1h-4zM210 202h5v1h-5zM184 200h4v4h-4zM79 202h5v2h-5zM35 203h1v1h-1zM120 203h3v1h-3zM229 203h4v1h-4zM96 203h5v1h-5zM190 203h7v1h-7zM245 203h3v2h-3zM184 204h2v1h-2zM95 204h7v1h-7zM228 204h10v1h-10zM89 202h5v4h-5zM199 203h13v3h-13zM218 203h4v3h-4zM129 203h4v3h-4zM172 203h2v3h-2zM112 203h1v3h-1zM144 204h1v2h-1zM187 204h1v2h-1zM193 204h4v2h-4zM96 205h6v1h-6zM230 205h8v1h-8zM183 205h3v1h-3zM115 203h4v4h-4zM120 204h5v3h-5zM159 204h3v3h-3zM191 204h1v3h-1zM166 206h1v1h-1zM184 206h2v1h-2zM94 206h6v1h-6zM61 206h3v1h-3zM220 206h5v1h-5zM235 206h5v1h-5zM128 206h5v1h-5zM193 206h14v1h-14zM209 206h7v1h-7zM135 206h1v1h-1zM188 206h2v1h-2zM230 206h4v1h-4zM172 206h4v2h-4zM34 207h1v1h-1zM115 207h17v1h-17zM212 207h3v1h-3zM165 207h2v1h-2zM134 207h3v1h-3zM188 207h19v1h-19zM220 207h7v1h-7zM208 207h2v1h-2zM230 207h1v1h-1zM152 203h5v6h-5zM162 208h5v1h-5zM222 208h6v1h-6zM232 208h1v1h-1zM194 208h13v1h-13zM229 208h1v1h-1zM113 208h23v1h-23zM208 208h5v1h-5zM106 207h1v3h-1zM94 207h1v3h-1zM186 208h4v2h-4zM191 208h1v2h-1zM114 209h21v1h-21zM232 209h6v1h-6zM153 209h4v1h-4zM207 209h1v1h-1zM139 209h3v1h-3zM194 209h9v1h-9zM162 209h1v2h-1zM210 209h3v2h-3zM222 209h7v2h-7zM127 210h2v1h-2zM232 210h1v1h-1zM113 210h8v1h-8zM130 210h7v1h-7zM191 210h17v1h-17zM234 210h4v1h-4zM125 210h1v1h-1zM180 208h2v4h-2zM172 208h5v4h-5zM184 210h6v2h-6zM125 211h4v1h-4zM194 211h14v1h-14zM132 211h6v1h-6zM130 211h1v1h-1zM114 211h1v1h-1zM209 211h5v1h-5zM220 211h4v1h-4zM118 211h2v1h-2zM235 211h3v2h-3zM172 212h1v1h-1zM163 212h1v1h-1zM195 212h6v1h-6zM203 212h11v1h-11zM184 212h4v1h-4zM177 212h5v1h-5zM90 211h3v3h-3zM124 212h5v2h-5zM104 213h1v1h-1zM209 213h5v1h-5zM194 213h7v1h-7zM220 213h1v1h-1zM163 213h2v1h-2zM203 213h4v1h-4zM158 213h4v1h-4zM184 213h3v1h-3zM130 212h8v3h-8zM177 213h2v2h-2zM93 214h4v1h-4zM158 214h8v1h-8zM102 214h2v1h-2zM194 214h10v1h-10zM77 214h2v1h-2zM210 214h6v1h-6zM122 214h7v1h-7zM150 214h4v1h-4zM185 214h2v2h-2zM182 214h2v2h-2zM102 215h1v1h-1zM169 215h1v1h-1zM177 215h3v1h-3zM195 215h3v1h-3zM206 215h4v1h-4zM190 215h4v1h-4zM156 215h6v1h-6zM172 215h2v1h-2zM212 215h4v1h-4zM122 215h16v1h-16zM146 214h3v3h-3zM113 215h1v2h-1zM81 215h1v2h-1zM199 215h4v2h-4zM190 216h8v1h-8zM207 216h7v1h-7zM177 216h11v1h-11zM167 216h7v1h-7zM99 215h1v3h-1zM123 216h15v2h-15zM207 217h5v1h-5zM227 217h2v1h-2zM221 217h1v1h-1zM112 217h4v1h-4zM190 217h13v1h-13zM170 217h4v1h-4zM167 217h2v2h-2zM148 217h2v2h-2zM177 217h5v2h-5zM186 217h1v2h-1zM234 218h1v1h-1zM239 218h1v1h-1zM221 218h7v1h-7zM122 218h16v1h-16zM190 218h9v1h-9zM207 218h2v1h-2zM114 218h1v1h-1zM172 218h3v1h-3zM200 218h3v1h-3zM66 217h5v3h-5zM243 218h4v2h-4zM197 219h1v1h-1zM124 219h7v1h-7zM132 219h6v1h-6zM186 219h2v1h-2zM201 219h9v1h-9zM191 219h5v1h-5zM162 219h4v1h-4zM167 219h3v1h-3zM232 219h3v1h-3zM156 216h2v5h-2zM49 218h2v3h-2zM227 219h1v2h-1zM220 219h2v2h-2zM238 219h2v2h-2zM54 219h1v2h-1zM182 219h3v2h-3zM199 220h2v1h-2zM190 220h8v1h-8zM122 220h8v1h-8zM186 220h1v1h-1zM159 220h7v1h-7zM230 220h5v1h-5zM77 217h5v5h-5zM143 219h1v3h-1zM132 220h5v2h-5zM202 220h2v2h-2zM190 221h6v1h-6zM197 221h4v1h-4zM182 221h4v1h-4zM123 221h7v1h-7zM93 221h1v1h-1zM232 221h7v1h-7zM210 221h3v1h-3zM40 218h4v5h-4zM226 221h1v2h-1zM162 221h4v2h-4zM184 222h20v1h-20zM235 222h3v1h-3zM93 222h2v2h-2zM124 222h7v2h-7zM158 222h1v2h-1zM193 223h9v1h-9zM184 223h8v1h-8zM58 219h3v6h-3zM219 221h2v4h-2zM146 222h4v3h-4zM199 224h3v1h-3zM124 224h4v1h-4zM134 224h3v1h-3zM184 224h14v1h-14zM216 224h1v1h-1zM156 224h1v1h-1zM243 223h2v3h-2zM78 224h1v2h-1zM166 224h3v2h-3zM158 224h4v2h-4zM101 224h2v2h-2zM88 225h1v1h-1zM194 225h4v1h-4zM136 225h1v1h-1zM151 225h5v1h-5zM220 225h1v1h-1zM63 225h3v1h-3zM184 225h4v1h-4zM173 225h1v1h-1zM34 224h3v3h-3zM133 225h1v2h-1zM141 225h1v2h-1zM166 226h8v1h-8zM89 226h1v1h-1zM182 226h9v1h-9zM218 225h1v3h-1zM124 225h2v3h-2zM151 226h2v2h-2zM194 226h3v2h-3zM78 227h1v1h-1zM188 227h3v1h-3zM34 227h2v1h-2zM166 227h1v2h-1zM161 227h4v2h-4zM216 228h2v1h-2zM233 228h1v1h-1zM188 228h6v1h-6zM182 227h2v3h-2zM199 228h1v2h-1zM77 228h2v2h-2zM225 228h3v2h-3zM148 229h3v1h-3zM162 229h5v1h-5zM189 229h5v1h-5zM233 229h2v1h-2zM217 229h2v1h-2zM169 227h5v4h-5zM153 229h2v2h-2zM134 229h3v2h-3zM61 229h2v2h-2zM164 230h2v1h-2zM233 230h1v1h-1zM225 230h4v1h-4zM80 230h2v1h-2zM218 230h1v1h-1zM56 228h1v4h-1zM123 229h2v3h-2zM80 231h3v1h-3zM73 231h4v1h-4zM231 231h2v1h-2zM61 231h1v1h-1zM184 230h2v3h-2zM191 230h3v3h-3zM159 231h3v2h-3zM167 231h2v2h-2zM77 232h1v1h-1zM180 230h2v4h-2zM220 231h2v3h-2zM175 233h2v1h-2zM95 233h1v1h-1zM127 233h2v1h-2zM194 233h4v1h-4zM175 234h7v1h-7zM127 234h3v1h-3zM225 233h2v3h-2zM160 233h7v3h-7zM229 233h1v3h-1zM148 234h3v2h-3zM89 235h2v1h-2zM175 235h5v1h-5zM127 235h1v1h-1zM186 235h2v1h-2zM139 233h1v4h-1zM155 234h1v3h-1zM191 234h7v3h-7zM99 235h1v2h-1zM157 236h3v1h-3zM162 236h5v1h-5zM88 236h4v1h-4zM38 236h1v1h-1zM150 236h1v1h-1zM230 236h1v1h-1zM177 236h8v2h-8zM89 237h4v1h-4zM114 237h1v1h-1zM194 237h2v1h-2zM228 237h3v2h-3zM97 237h3v2h-3zM155 238h1v1h-1zM113 238h2v1h-2zM71 238h4v1h-4zM89 238h5v1h-5zM205 236h2v4h-2zM163 237h2v3h-2zM182 238h8v2h-8zM154 239h2v1h-2zM210 239h1v1h-1zM89 239h4v1h-4zM192 239h2v1h-2zM161 237h1v4h-1zM157 237h1v4h-1zM222 238h3v3h-3zM228 239h2v2h-2zM115 239h2v2h-2zM127 240h2v1h-2zM155 240h1v1h-1zM187 240h4v1h-4zM72 239h3v3h-3zM188 241h1v1h-1zM182 241h1v1h-1zM76 241h1v1h-1zM185 241h2v1h-2zM94 241h1v2h-1zM76 242h3v1h-3zM71 242h4v1h-4zM87 242h1v1h-1zM107 242h3v1h-3zM184 242h3v1h-3zM125 241h4v3h-4zM131 241h3v3h-3zM169 242h1v2h-1zM153 242h1v2h-1zM173 242h9v2h-9zM106 243h4v1h-4zM185 243h2v1h-2zM230 243h2v2h-2zM173 244h3v1h-3zM128 244h1v1h-1zM177 244h2v1h-2zM166 244h5v1h-5zM239 244h1v2h-1zM121 244h3v2h-3zM187 244h1v2h-1zM64 244h1v2h-1zM183 245h2v1h-2zM230 245h1v1h-1zM40 243h5v4h-5zM128 245h2v2h-2zM238 246h2v1h-2zM202 246h3v1h-3zM183 246h5v1h-5zM166 245h8v3h-8zM198 245h1v3h-1zM94 245h1v3h-1zM177 245h5v3h-5zM162 246h2v2h-2zM40 247h6v1h-6zM202 247h4v1h-4zM75 247h1v1h-1zM187 247h1v1h-1zM132 247h1v1h-1zM45 248h1v1h-1zM131 248h2v1h-2zM162 248h12v1h-12zM183 247h2v3h-2zM128 247h1v3h-1zM34 248h2v2h-2zM65 249h3v1h-3zM122 249h2v1h-2zM130 249h3v1h-3zM151 249h1v1h-1zM166 249h5v1h-5zM166 250h6v1h-6zM130 250h2v1h-2zM156 249h3v3h-3zM160 250h4v2h-4zM150 250h4v2h-4zM166 251h11v1h-11zM166 252h1v1h-1zM168 252h9v1h-9zM159 252h5v1h-5zM151 252h4v1h-4zM186 252h1v1h-1zM66 252h2v2h-2zM182 252h3v2h-3zM226 253h2v1h-2zM160 253h17v1h-17zM154 253h4v2h-4zM160 254h3v1h-3zM134 254h2v1h-2zM165 254h9v1h-9zM182 254h2v2h-2zM226 254h3v2h-3zM95 255h1v1h-1zM161 255h2v1h-2zM151 255h2v1h-2zM155 255h1v1h-1zM142 255h4v1h-4zM237 252h1v5h-1zM65 254h4v3h-4zM177 254h4v3h-4zM99 255h3v2h-3zM166 255h8v2h-8zM95 256h2v1h-2zM143 256h2v1h-2zM223 256h6v1h-6zM161 256h1v2h-1zM178 257h2v1h-2zM167 257h4v1h-4zM143 257h1v1h-1zM65 257h6v2h-6zM161 258h13v2h-13zM119 258h2v2h-2zM65 259h2v1h-2zM69 259h2v2h-2zM162 260h1v1h-1zM66 260h1v1h-1zM164 260h10v1h-10zM221 260h1v1h-1zM48 260h1v1h-1zM151 256h5v6h-5zM231 259h4v3h-4zM163 261h4v1h-4zM69 261h1v1h-1zM147 261h1v1h-1zM140 261h2v1h-2zM67 262h3v1h-3zM231 262h1v1h-1zM127 262h2v2h-2zM174 262h3v2h-3zM210 263h2v1h-2zM221 261h5v4h-5zM44 262h2v3h-2zM118 264h2v1h-2zM143 262h2v4h-2zM138 262h1v4h-1zM131 264h3v2h-3zM44 265h3v1h-3zM222 265h4v1h-4zM210 265h2v1h-2zM222 266h5v1h-5zM212 266h1v1h-1zM138 266h6v1h-6zM167 265h3v3h-3zM239 265h2v3h-2zM160 266h1v2h-1zM243 267h1v1h-1zM137 267h7v1h-7zM223 267h4v1h-4zM210 267h6v1h-6zM246 267h1v2h-1zM223 268h6v1h-6zM168 268h2v1h-2zM61 268h2v1h-2zM171 264h1v6h-1zM129 266h2v4h-2zM158 268h3v2h-3zM99 269h1v1h-1zM192 269h1v1h-1zM137 268h6v3h-6zM210 268h2v3h-2zM215 268h1v3h-1zM221 269h9v2h-9zM169 270h2v1h-2zM71 270h1v2h-1zM212 271h3v1h-3zM119 271h3v1h-3zM139 271h4v1h-4zM222 271h8v1h-8zM171 271h6v1h-6zM47 268h4v5h-4zM58 271h1v2h-1zM102 272h1v1h-1zM139 272h5v1h-5zM155 272h3v1h-3zM222 272h1v1h-1zM116 272h3v1h-3zM211 272h5v1h-5zM186 271h4v3h-4zM137 271h1v3h-1zM139 273h4v1h-4zM154 273h1v1h-1zM51 273h1v1h-1zM215 273h1v1h-1zM164 271h2v4h-2zM174 272h3v3h-3zM109 273h1v2h-1zM146 273h3v2h-3zM101 273h2v2h-2zM154 274h2v1h-2zM135 274h2v1h-2zM142 274h3v2h-3zM147 275h2v1h-2zM202 275h3v1h-3zM227 275h3v2h-3zM156 275h3v2h-3zM148 276h3v1h-3zM202 276h2v1h-2zM130 276h6v1h-6zM240 276h1v2h-1zM38 276h2v2h-2zM65 276h1v2h-1zM130 277h7v1h-7zM149 277h2v1h-2zM143 277h5v1h-5zM112 278h1v1h-1zM131 278h5v1h-5zM55 278h2v1h-2zM145 278h6v1h-6zM207 279h1v1h-1zM148 279h3v1h-3zM123 279h2v1h-2zM132 279h4v1h-4zM204 280h4v1h-4zM94 280h1v1h-1zM150 280h1v1h-1zM154 281h2v1h-2zM206 281h2v1h-2zM56 281h4v1h-4zM63 281h2v1h-2zM173 280h5v3h-5zM141 280h2v3h-2zM118 280h2v3h-2zM148 281h3v2h-3zM94 281h7v2h-7zM55 282h5v1h-5zM88 282h1v1h-1zM85 282h1v1h-1zM215 281h1v3h-1zM206 282h3v2h-3zM105 283h4v1h-4zM180 282h2v3h-2zM113 282h3v3h-3zM95 283h4v2h-4zM110 283h2v2h-2zM138 284h3v1h-3zM204 284h4v1h-4zM134 284h2v1h-2zM216 284h3v1h-3zM125 284h1v1h-1zM53 283h1v3h-1zM42 284h1v2h-1zM137 285h4v1h-4zM95 285h2v1h-2zM204 285h2v1h-2zM135 285h1v1h-1zM114 285h2v1h-2zM110 285h3v2h-3zM227 285h1v2h-1zM37 286h3v1h-3zM42 286h3v1h-3zM150 286h1v1h-1zM159 284h1v4h-1zM38 287h2v1h-2zM188 285h3v4h-3zM129 286h3v4h-3zM61 287h4v3h-4zM126 287h1v3h-1zM58 287h1v3h-1zM43 287h2v3h-2zM100 288h2v2h-2zM141 288h1v2h-1zM110 289h2v1h-2zM52 289h3v1h-3zM224 288h3v3h-3zM202 289h2v2h-2zM40 290h2v1h-2zM77 290h2v1h-2zM100 290h3v1h-3zM53 290h5v2h-5zM137 290h3v2h-3zM115 292h1v1h-1zM110 292h2v1h-2zM221 291h6v3h-6zM170 292h1v2h-1zM39 293h2v2h-2zM221 294h4v1h-4zM50 294h1v1h-1zM47 294h1v2h-1zM221 295h3v1h-3zM110 293h6v4h-6zM105 293h4v4h-4zM146 294h2v3h-2zM182 294h4v3h-4zM130 294h3v3h-3zM230 296h1v1h-1zM220 296h2v2h-2zM179 297h7v1h-7zM118 297h4v1h-4zM75 297h1v1h-1zM110 297h5v1h-5zM245 297h1v1h-1zM189 297h4v1h-4zM98 297h2v2h-2zM80 297h2v2h-2zM75 298h4v1h-4zM197 297h1v3h-1zM148 297h1v3h-1zM179 298h3v2h-3zM144 300h5v1h-5zM189 298h5v4h-5zM115 300h1v2h-1zM178 300h4v2h-4zM196 301h2v1h-2zM144 301h3v1h-3zM148 301h1v1h-1zM192 302h6v1h-6zM172 302h1v1h-1zM119 302h1v1h-1zM136 302h6v1h-6zM175 302h4v2h-4zM190 302h1v2h-1zM78 303h1v1h-1zM102 303h2v1h-2zM194 303h3v1h-3zM135 303h7v1h-7zM125 302h2v3h-2zM171 303h2v2h-2zM106 303h3v2h-3zM165 304h2v1h-2zM174 304h5v1h-5zM136 304h6v1h-6zM51 303h3v3h-3zM189 304h2v2h-2zM161 305h2v1h-2zM175 305h4v1h-4zM116 305h1v1h-1zM88 306h1v1h-1zM233 306h4v1h-4zM53 306h1v1h-1zM226 303h4v5h-4zM159 305h1v3h-1zM137 305h5v3h-5zM178 306h5v2h-5zM162 306h1v2h-1zM190 306h1v2h-1zM231 307h4v1h-4zM34 307h2v1h-2zM192 307h1v1h-1zM121 305h1v4h-1zM186 306h1v3h-1zM221 307h2v2h-2zM162 308h2v1h-2zM179 308h1v1h-1zM232 308h2v1h-2zM76 308h3v1h-3zM51 308h1v1h-1zM189 308h2v2h-2zM135 308h8v2h-8zM192 309h1v1h-1zM163 309h1v1h-1zM59 309h3v1h-3zM230 309h3v1h-3zM179 309h2v1h-2zM168 309h2v2h-2zM106 310h1v1h-1zM94 310h6v1h-6zM39 310h3v1h-3zM59 310h6v1h-6zM131 310h6v1h-6zM140 310h3v1h-3zM177 310h2v1h-2zM190 310h3v1h-3zM184 309h3v3h-3zM131 311h4v1h-4zM180 310h1v3h-1zM170 311h1v2h-1zM113 311h2v2h-2zM131 312h6v1h-6zM99 311h4v3h-4zM95 311h2v3h-2zM68 312h1v2h-1zM64 313h2v2h-2zM144 313h3v2h-3zM177 313h4v2h-4zM50 313h1v2h-1zM190 314h6v1h-6zM131 313h2v3h-2zM145 315h2v1h-2zM39 315h3v1h-3zM62 315h1v1h-1zM89 315h4v1h-4zM80 315h2v1h-2zM177 315h2v1h-2zM149 315h2v1h-2zM64 315h1v1h-1zM189 315h7v1h-7zM95 314h6v3h-6zM167 315h2v2h-2zM59 316h6v1h-6zM131 316h1v1h-1zM190 316h6v2h-6zM40 316h2v2h-2zM90 316h3v2h-3zM77 317h1v1h-1zM94 317h7v1h-7zM59 317h5v1h-5zM226 316h3v3h-3zM135 316h1v3h-1zM191 318h5v1h-5zM39 318h3v1h-3zM180 318h1v1h-1zM94 318h8v1h-8zM110 318h5v1h-5zM76 318h2v1h-2zM80 316h1v4h-1zM93 319h4v1h-4zM163 316h1v5h-1zM168 317h1v4h-1zM59 318h4v3h-4zM179 319h1v2h-1zM184 319h2v2h-2zM108 319h7v2h-7zM187 319h3v2h-3zM193 319h3v2h-3zM104 319h2v2h-2zM40 319h3v2h-3z"/><path fill="#3e26a8" opacity="0.2" d="M243 20h1v1h-1zM167 20h6v1h-6zM154 20h3v1h-3zM128 20h2v1h-2zM122 20h5v1h-5zM247 20h1v1h-1zM34 20h15v1h-15zM186 20h5v1h-5zM76 20h20v1h-20zM182 20h2v1h-2zM52 20h6v1h-6zM68 20h1v4h-1zM139 23h3v1h-3zM248 23h4v1h-4zM131 20h1v5h-1zM95 21h1v4h-1zM171 21h1v4h-1zM156 21h1v4h-1zM116 24h2v1h-2zM68 24h12v1h-12zM114 24h1v1h-1zM108 24h5v1h-5zM103 20h1v7h-1zM34 21h1v7h-1zM148 26h1v3h-1zM34 28h17v1h-17zM204 27h1v4h-1zM122 30h3v1h-3zM118 30h1v1h-1zM246 31h3v1h-3zM164 31h8v1h-8zM250 31h2v1h-2zM241 31h1v1h-1zM138 30h1v3h-1zM184 32h6v1h-6zM131 32h1v2h-1zM145 33h1v1h-1zM140 33h2v1h-2zM34 29h1v6h-1zM148 30h1v5h-1zM100 33h1v2h-1zM51 34h6v1h-6zM58 34h16v1h-16zM104 35h1v1h-1zM240 35h1v1h-1zM73 35h1v1h-1zM126 35h3v1h-3zM106 35h8v1h-8zM184 33h1v4h-1zM125 36h1v1h-1zM45 35h1v3h-1zM95 37h1v2h-1zM166 35h1v5h-1zM179 38h1v2h-1zM92 39h4v1h-4zM242 39h10v1h-10zM200 39h1v1h-1zM148 40h1v1h-1zM80 41h7v1h-7zM131 41h4v1h-4zM142 41h4v1h-4zM191 41h1v2h-1zM131 42h1v2h-1zM179 42h1v3h-1zM121 44h13v1h-13zM228 44h1v1h-1zM68 35h1v11h-1zM58 35h1v11h-1zM73 38h1v8h-1zM51 40h1v6h-1zM95 40h1v7h-1zM58 46h15v1h-15zM44 46h6v1h-6zM234 39h1v9h-1zM136 48h2v1h-2zM140 48h3v1h-3zM131 48h1v1h-1zM242 40h1v10h-1zM126 45h1v6h-1zM191 45h1v6h-1zM121 47h1v4h-1zM95 48h1v3h-1zM50 49h1v2h-1zM232 50h7v1h-7zM116 44h1v8h-1zM44 51h7v1h-7zM108 44h1v9h-1zM171 51h1v2h-1zM129 52h2v1h-2zM111 52h10v1h-10zM124 52h2v1h-2zM99 52h8v1h-8zM238 51h1v3h-1zM34 46h1v9h-1zM238 54h8v1h-8zM155 54h3v1h-3zM124 54h2v1h-2zM50 52h1v4h-1zM171 54h1v2h-1zM137 55h1v1h-1zM131 55h1v1h-1zM58 47h1v10h-1zM52 57h7v1h-7zM77 54h1v5h-1zM131 57h1v2h-1zM222 56h1v4h-1zM136 58h1v2h-1zM187 59h1v1h-1zM67 59h4v1h-4zM64 59h1v1h-1zM121 57h1v4h-1zM103 60h5v1h-5zM97 60h2v1h-2zM111 61h4v1h-4zM228 52h1v11h-1zM238 55h1v8h-1zM34 62h4v1h-4zM222 62h1v1h-1zM58 58h1v6h-1zM70 60h1v4h-1zM161 61h1v3h-1zM221 63h7v1h-7zM95 63h1v1h-1zM140 63h1v1h-1zM229 63h8v1h-8zM244 63h8v1h-8zM132 63h5v1h-5zM165 63h11v1h-11zM76 59h1v6h-1zM111 62h1v3h-1zM87 64h9v1h-9zM58 64h13v1h-13zM164 65h3v1h-3zM131 65h1v2h-1zM123 62h1v6h-1zM70 65h1v3h-1zM76 66h1v2h-1zM195 67h2v1h-2zM109 67h2v1h-2zM140 67h4v1h-4zM131 67h7v1h-7zM106 67h2v1h-2zM106 68h1v1h-1zM123 68h8v1h-8zM70 68h9v1h-9zM230 64h1v6h-1zM95 65h1v6h-1zM111 68h1v3h-1zM106 70h1v1h-1zM225 70h6v1h-6zM102 71h10v1h-10zM136 70h1v3h-1zM79 71h1v2h-1zM165 72h6v1h-6zM111 72h1v1h-1zM131 73h6v1h-6zM236 64h1v11h-1zM48 70h1v5h-1zM244 71h1v4h-1zM181 72h1v3h-1zM139 70h1v6h-1zM197 75h1v1h-1zM171 75h1v1h-1zM230 75h20v1h-20zM181 75h4v1h-4zM37 75h12v1h-12zM139 76h5v1h-5zM136 74h1v4h-1zM136 78h3v1h-3zM236 78h6v1h-6zM58 65h1v16h-1zM44 76h1v5h-1zM111 76h1v5h-1zM87 76h1v5h-1zM48 76h1v5h-1zM79 77h1v4h-1zM36 78h1v3h-1zM136 79h1v2h-1zM78 81h7v1h-7zM73 81h4v1h-4zM95 81h15v1h-15zM115 81h5v1h-5zM225 71h1v13h-1zM236 79h1v5h-1zM34 81h1v3h-1zM197 81h1v3h-1zM194 81h1v3h-1zM182 81h1v3h-1zM190 81h1v3h-1zM154 81h1v3h-1zM165 81h1v3h-1zM61 81h1v3h-1zM154 84h2v1h-2zM163 84h10v1h-10zM179 84h3v1h-3zM138 84h1v1h-1zM194 84h9v1h-9zM230 79h1v7h-1zM57 85h5v1h-5zM202 85h1v2h-1zM230 86h5v1h-5zM219 86h1v1h-1zM42 81h1v7h-1zM93 84h1v4h-1zM131 84h1v4h-1zM34 85h1v3h-1zM61 86h1v3h-1zM106 88h26v1h-26zM34 88h9v1h-9zM73 89h7v1h-7zM54 89h9v1h-9zM131 89h1v2h-1zM148 85h1v7h-1zM164 88h1v4h-1zM230 91h5v1h-5zM154 85h1v8h-1zM89 88h1v5h-1zM62 90h1v3h-1zM197 92h1v1h-1zM235 92h6v1h-6zM73 90h1v4h-1zM77 90h1v4h-1zM131 92h1v2h-1zM135 93h3v1h-3zM62 93h7v1h-7zM150 93h2v1h-2zM54 90h1v5h-1zM230 92h1v4h-1zM42 89h1v8h-1zM50 89h1v8h-1zM185 96h5v1h-5zM230 96h22v1h-22zM110 97h10v1h-10zM42 97h13v1h-13zM106 91h1v8h-1zM243 98h9v1h-9zM54 98h1v1h-1zM110 98h1v2h-1zM90 99h5v1h-5zM99 99h2v1h-2zM103 99h4v1h-4zM34 99h8v1h-8zM158 93h1v8h-1zM146 99h1v2h-1zM185 100h4v1h-4zM202 96h1v6h-1zM194 101h5v1h-5zM145 101h2v1h-2zM218 101h2v1h-2zM143 102h1v1h-1zM106 100h1v6h-1zM54 100h1v6h-1zM230 97h1v10h-1zM243 99h1v8h-1zM182 104h1v3h-1zM99 106h7v1h-7zM115 106h10v1h-10zM55 106h1v1h-1zM79 106h11v1h-11zM230 107h22v1h-22zM138 107h4v1h-4zM181 109h1v1h-1zM171 109h6v1h-6zM146 111h1v1h-1zM158 103h1v10h-1zM46 106h1v8h-1zM99 107h1v7h-1zM89 107h1v7h-1zM55 111h1v3h-1zM161 113h2v1h-2zM164 113h7v1h-7zM77 113h1v1h-1zM34 100h1v15h-1zM110 102h1v13h-1zM105 107h1v8h-1zM77 114h7v1h-7zM46 114h7v1h-7zM86 114h14v1h-14zM115 107h1v9h-1zM99 115h7v1h-7zM77 115h1v1h-1zM138 115h1v2h-1zM34 116h9v1h-9zM115 116h8v1h-8zM197 117h1v1h-1zM200 117h1v1h-1zM135 117h4v1h-4zM182 117h1v2h-1zM46 115h1v6h-1zM42 117h1v4h-1zM138 118h1v3h-1zM194 119h1v2h-1zM237 108h1v14h-1zM150 112h1v10h-1zM171 114h1v8h-1zM115 117h1v5h-1zM77 119h1v3h-1zM88 121h1v1h-1zM42 121h5v1h-5zM157 122h3v1h-3zM83 122h6v1h-6zM175 122h4v1h-4zM184 122h1v1h-1zM243 122h2v1h-2zM81 122h1v1h-1zM246 122h3v1h-3zM145 122h6v1h-6zM82 123h1v1h-1zM79 124h3v1h-3zM105 116h1v10h-1zM46 122h1v4h-1zM115 123h1v3h-1zM88 123h1v4h-1zM34 126h6v1h-6zM42 126h5v1h-5zM146 125h1v3h-1zM131 125h1v3h-1zM82 127h7v1h-7zM184 129h1v1h-1zM174 129h3v1h-3zM99 116h1v15h-1zM53 122h1v9h-1zM67 123h1v8h-1zM46 127h1v4h-1zM88 128h1v3h-1zM82 128h1v3h-1zM34 131h20v1h-20zM89 131h11v1h-11zM71 131h11v1h-11zM154 132h4v1h-4zM197 130h1v4h-1zM149 133h6v1h-6zM112 126h1v9h-1zM203 134h2v1h-2zM154 134h1v1h-1zM99 132h1v4h-1zM89 132h1v4h-1zM81 132h1v4h-1zM148 135h6v1h-6zM172 135h3v1h-3zM106 135h2v1h-2zM109 135h4v1h-4zM81 136h5v1h-5zM88 136h2v1h-2zM124 136h2v1h-2zM71 132h1v6h-1zM53 132h1v6h-1zM106 136h1v2h-1zM163 137h3v1h-3zM167 137h2v1h-2zM161 138h1v1h-1zM69 138h6v1h-6zM41 138h8v1h-8zM34 132h1v8h-1zM39 139h3v1h-3zM56 138h1v3h-1zM233 139h1v2h-1zM49 141h8v1h-8zM64 138h1v6h-1zM245 143h7v1h-7zM89 137h1v8h-1zM81 137h1v8h-1zM74 139h1v6h-1zM134 144h4v1h-4zM64 144h5v1h-5zM167 144h2v1h-2zM162 144h3v1h-3zM106 140h1v6h-1zM245 144h1v3h-1zM116 143h1v5h-1zM124 147h1v1h-1zM81 147h1v1h-1zM41 140h1v10h-1zM49 149h1v1h-1zM240 149h5v1h-5zM34 150h16v1h-16zM49 151h1v1h-1zM175 148h1v5h-1zM81 149h1v4h-1zM34 151h1v2h-1zM162 152h1v1h-1zM34 153h7v1h-7zM174 153h9v1h-9zM162 153h4v1h-4zM168 153h2v1h-2zM152 153h9v1h-9zM104 146h1v10h-1zM112 148h1v8h-1zM64 155h9v1h-9zM151 155h1v1h-1zM237 155h1v1h-1zM240 155h5v1h-5zM151 156h6v1h-6zM124 156h2v1h-2zM117 156h2v1h-2zM142 153h1v5h-1zM147 153h1v5h-1zM131 153h1v5h-1zM56 142h1v17h-1zM169 154h1v5h-1zM142 158h5v1h-5zM35 159h8v1h-8zM243 156h1v6h-1zM180 161h4v1h-4zM243 162h9v1h-9zM84 162h4v1h-4zM64 156h1v10h-1zM142 159h1v7h-1zM146 159h1v7h-1zM243 163h1v3h-1zM76 163h1v4h-1zM180 166h4v1h-4zM176 166h2v1h-2zM131 166h5v1h-5zM141 166h4v1h-4zM125 157h1v11h-1zM121 161h1v7h-1zM34 167h10v1h-10zM244 167h8v1h-8zM47 167h6v1h-6zM72 167h5v1h-5zM131 167h1v1h-1zM84 163h1v6h-1zM169 168h3v1h-3zM129 168h3v1h-3zM119 168h7v1h-7zM99 169h1v1h-1zM105 169h1v1h-1zM84 169h3v1h-3zM101 169h2v1h-2zM199 169h1v2h-1zM131 169h1v2h-1zM44 170h3v1h-3zM118 170h1v2h-1zM243 170h1v3h-1zM99 171h1v3h-1zM206 172h1v2h-1zM237 173h6v1h-6zM231 173h3v1h-3zM237 174h1v1h-1zM86 175h7v1h-7zM242 174h1v3h-1zM54 169h1v9h-1zM99 175h1v3h-1zM176 177h8v1h-8zM241 177h2v1h-2zM93 180h6v1h-6zM169 178h1v5h-1zM184 178h1v5h-1zM221 182h1v1h-1zM76 168h1v16h-1zM242 178h1v6h-1zM118 179h1v5h-1zM93 181h1v3h-1zM210 184h8v1h-8zM99 184h7v1h-7zM160 184h7v1h-7zM172 184h4v1h-4zM112 184h2v1h-2zM241 184h11v1h-11zM121 184h14v1h-14zM54 184h2v1h-2zM48 184h4v1h-4zM78 184h9v1h-9zM198 184h2v1h-2zM55 185h1v1h-1zM43 184h1v3h-1zM142 184h1v4h-1zM99 185h1v3h-1zM72 188h6v1h-6zM123 185h1v6h-1zM202 185h1v6h-1zM43 188h1v3h-1zM113 188h1v3h-1zM43 191h10v1h-10zM123 191h4v1h-4zM86 185h1v8h-1zM169 185h1v8h-1zM157 189h1v4h-1zM209 192h2v1h-2zM240 192h5v1h-5zM232 192h1v1h-1zM203 192h5v1h-5zM60 184h1v10h-1zM65 184h1v10h-1zM142 191h1v3h-1zM72 193h1v1h-1zM226 193h1v1h-1zM229 193h1v1h-1zM77 193h2v1h-2zM231 193h2v1h-2zM216 193h3v1h-3zM83 193h4v1h-4zM55 194h18v1h-18zM157 194h1v1h-1zM86 194h1v2h-1zM77 194h1v2h-1zM232 194h1v3h-1zM139 196h2v1h-2zM108 196h4v1h-4zM161 196h4v1h-4zM157 196h2v1h-2zM208 198h1v1h-1zM232 198h1v1h-1zM180 198h1v1h-1zM72 195h1v5h-1zM202 196h1v4h-1zM192 195h1v6h-1zM228 200h3v1h-3zM232 200h4v1h-4zM241 200h1v1h-1zM188 201h5v1h-5zM108 197h1v6h-1zM232 201h1v2h-1zM142 202h11v1h-11zM170 200h1v4h-1zM95 203h1v1h-1zM212 203h1v1h-1zM101 203h8v1h-8zM43 192h1v13h-1zM125 204h4v1h-4zM212 204h6v1h-6zM119 204h1v1h-1zM238 204h4v1h-4zM222 203h1v3h-1zM86 205h3v1h-3zM50 205h5v1h-5zM40 205h4v1h-4zM94 205h1v1h-1zM34 193h1v14h-1zM180 200h1v7h-1zM72 205h1v2h-1zM234 206h1v1h-1zM232 207h1v1h-1zM64 207h9v1h-9zM180 207h6v1h-6zM108 204h1v6h-1zM86 206h1v4h-1zM112 206h1v4h-1zM185 208h1v2h-1zM72 208h1v2h-1zM219 210h3v1h-3zM64 210h9v1h-9zM59 207h1v5h-1zM157 211h1v1h-1zM148 212h10v1h-10zM225 211h2v3h-2zM232 211h1v3h-1zM86 213h2v1h-2zM148 213h1v1h-1zM157 213h1v2h-1zM243 214h9v1h-9zM225 214h7v1h-7zM50 206h1v10h-1zM170 210h1v6h-1zM72 211h1v5h-1zM64 211h1v5h-1zM55 212h1v4h-1zM68 216h5v1h-5zM40 216h16v1h-16zM142 212h1v6h-1zM222 212h1v6h-1zM225 215h1v3h-1zM40 217h1v1h-1zM232 217h6v1h-6zM175 218h2v1h-2zM185 218h1v1h-1zM165 218h2v1h-2zM86 218h10v1h-10zM158 218h2v1h-2zM232 218h1v1h-1zM151 218h5v1h-5zM102 218h12v1h-12zM141 218h5v1h-5zM169 218h3v1h-3zM187 218h3v1h-3zM159 219h1v1h-1zM225 219h1v1h-1zM222 219h1v1h-1zM34 208h1v13h-1zM219 211h1v10h-1zM72 217h1v4h-1zM55 217h1v4h-1zM48 217h1v4h-1zM86 219h1v2h-1zM145 219h1v2h-1zM151 219h1v2h-1zM141 219h1v2h-1zM178 219h1v3h-1zM144 221h8v1h-8zM44 221h4v1h-4zM243 221h9v1h-9zM34 221h6v1h-6zM141 221h2v1h-2zM61 221h11v1h-11zM82 221h5v1h-5zM232 222h1v1h-1zM174 222h10v1h-10zM102 219h1v5h-1zM159 221h1v3h-1zM192 223h1v1h-1zM151 222h1v3h-1zM141 222h1v3h-1zM40 223h1v2h-1zM217 224h2v1h-2zM210 224h6v1h-6zM203 223h1v3h-1zM59 225h1v2h-1zM192 225h1v3h-1zM210 227h8v1h-8zM48 227h12v1h-12zM95 219h1v10h-1zM113 219h1v10h-1zM86 222h1v7h-1zM102 226h1v3h-1zM59 228h13v1h-13zM179 223h1v7h-1zM174 223h1v7h-1zM105 229h9v1h-9zM159 226h1v5h-1zM43 225h1v7h-1zM83 231h3v1h-3zM141 227h1v6h-1zM103 229h1v4h-1zM34 232h10v1h-10zM219 225h1v9h-1zM210 228h1v6h-1zM192 233h1v1h-1zM98 229h1v6h-1zM198 234h14v1h-14zM86 234h6v1h-6zM92 235h7v1h-7zM181 235h1v1h-1zM120 235h4v1h-4zM100 235h3v1h-3zM170 231h1v6h-1zM114 234h1v3h-1zM92 236h1v1h-1zM229 236h1v1h-1zM43 233h1v5h-1zM151 237h6v1h-6zM185 237h7v1h-7zM158 237h1v1h-1zM172 237h5v1h-5zM59 229h1v10h-1zM42 238h6v1h-6zM103 238h5v1h-5zM56 239h8v1h-8zM75 239h11v1h-11zM165 237h1v4h-1zM200 240h7v1h-7zM165 241h11v1h-11zM129 235h1v8h-1zM123 236h1v7h-1zM120 236h1v7h-1zM114 239h1v4h-1zM42 239h1v4h-1zM92 240h1v3h-1zM154 242h12v1h-12zM151 242h2v1h-2zM34 233h1v11h-1zM48 239h1v5h-1zM80 240h1v4h-1zM103 243h3v1h-3zM86 243h8v1h-8zM110 243h15v1h-15zM129 243h2v1h-2zM187 243h1v1h-1zM134 243h9v1h-9zM211 235h1v10h-1zM75 244h11v1h-11zM180 244h1v1h-1zM45 244h4v1h-4zM39 244h1v1h-1zM192 244h10v1h-10zM185 244h1v2h-1zM67 239h1v8h-1zM63 240h1v7h-1zM72 243h1v4h-1zM75 245h1v2h-1zM165 243h1v5h-1zM137 244h1v4h-1zM185 247h1v1h-1zM66 247h9v1h-9zM207 241h1v8h-1zM151 243h1v6h-1zM217 245h1v4h-1zM75 248h12v1h-12zM240 248h12v1h-12zM48 245h1v5h-1zM56 247h1v3h-1zM103 249h9v1h-9zM207 249h11v1h-11zM48 250h9v1h-9zM192 250h15v1h-15zM137 251h4v1h-4zM165 249h1v4h-1zM112 252h8v1h-8zM180 248h1v6h-1zM145 251h1v3h-1zM56 251h1v3h-1zM137 252h1v2h-1zM48 251h1v4h-1zM240 252h1v3h-1zM56 254h9v1h-9zM137 254h9v1h-9zM217 250h1v6h-1zM103 250h1v6h-1zM39 255h9v1h-9zM229 255h8v1h-8zM238 255h3v1h-3zM217 256h6v1h-6zM103 256h4v1h-4zM165 255h1v3h-1zM93 244h1v16h-1zM86 249h1v11h-1zM201 251h1v9h-1zM137 255h1v5h-1zM145 256h1v4h-1zM141 260h10v1h-10zM99 260h18v1h-18zM123 260h12v1h-12zM86 260h4v1h-4zM81 253h1v9h-1zM56 255h1v7h-1zM43 256h1v6h-1zM176 257h1v5h-1zM57 262h10v1h-10zM77 262h3v1h-3zM48 262h6v1h-6zM240 256h1v8h-1zM229 256h1v8h-1zM217 257h1v7h-1zM99 261h1v3h-1zM109 261h1v3h-1zM165 262h1v2h-1zM99 264h11v1h-11zM172 264h4v1h-4zM211 264h1v1h-1zM158 264h13v1h-13zM226 264h1v2h-1zM211 266h1v1h-1zM134 261h1v7h-1zM227 267h5v1h-5zM186 267h6v1h-6zM86 261h1v8h-1zM99 265h1v4h-1zM131 268h6v1h-6zM143 268h2v1h-2zM77 269h22v1h-22zM186 268h1v3h-1zM109 265h1v7h-1zM99 270h1v2h-1zM123 271h1v1h-1zM151 264h1v9h-1zM163 265h1v8h-1zM177 272h9v1h-9zM119 272h5v1h-5zM109 272h7v1h-7zM131 269h1v5h-1zM226 272h1v2h-1zM144 273h2v1h-2zM40 273h8v1h-8zM123 273h1v1h-1zM149 273h2v1h-2zM54 273h8v1h-8zM123 274h9v1h-9zM243 275h9v1h-9zM131 275h1v1h-1zM144 276h1v1h-1zM92 270h1v9h-1zM207 271h1v8h-1zM167 273h1v6h-1zM40 274h1v5h-1zM186 274h1v5h-1zM61 274h1v5h-1zM54 274h1v5h-1zM176 275h1v4h-1zM61 279h19v1h-19zM186 279h6v1h-6zM162 279h15v1h-15zM86 279h8v1h-8zM140 274h1v7h-1zM144 278h1v3h-1zM131 279h1v2h-1zM232 273h1v9h-1zM243 276h1v6h-1zM226 277h1v5h-1zM106 281h3v1h-3zM151 276h1v7h-1zM156 277h1v6h-1zM106 282h1v1h-1zM222 282h22v1h-22zM123 282h8v1h-8zM243 283h1v1h-1zM151 283h6v1h-6zM209 283h6v1h-6zM227 283h1v2h-1zM243 284h9v1h-9zM34 273h1v13h-1zM50 279h1v7h-1zM123 283h1v4h-1zM106 284h1v3h-1zM156 284h1v3h-1zM151 284h1v3h-1zM40 286h2v1h-2zM34 286h3v1h-3zM45 286h6v1h-6zM186 280h1v8h-1zM176 283h1v5h-1zM127 287h2v1h-2zM123 287h3v1h-3zM176 288h11v1h-11zM79 280h1v10h-1zM72 281h1v9h-1zM41 287h1v3h-1zM86 289h13v1h-13zM207 285h1v6h-1zM227 287h1v4h-1zM79 290h7v1h-7zM72 290h5v1h-5zM237 291h10v1h-10zM202 291h19v1h-19zM162 284h1v10h-1zM50 287h1v7h-1zM128 288h1v6h-1zM186 289h1v5h-1zM92 290h1v4h-1zM247 294h5v1h-5zM151 294h15v1h-15zM116 294h11v1h-11zM103 294h2v1h-2zM109 294h1v1h-1zM133 294h5v1h-5zM34 287h1v9h-1zM61 290h1v6h-1zM41 291h1v5h-1zM220 292h1v4h-1zM192 291h1v6h-1zM56 296h6v1h-6zM202 292h1v7h-1zM177 294h1v5h-1zM220 298h1v1h-1zM50 295h1v5h-1zM111 298h1v2h-1zM206 299h15v1h-15zM166 299h12v1h-12zM103 300h6v1h-6zM91 294h1v8h-1zM126 295h1v7h-1zM137 295h1v7h-1zM177 300h1v2h-1zM106 301h1v2h-1zM103 301h1v2h-1zM127 302h5v1h-5zM86 302h6v1h-6zM220 300h1v4h-1zM212 300h1v4h-1zM200 299h1v6h-1zM206 300h1v5h-1zM212 304h12v1h-12zM142 304h9v1h-9zM132 304h4v1h-4zM72 299h1v7h-1zM207 305h6v1h-6zM242 302h1v5h-1zM56 306h17v1h-17zM47 300h1v8h-1zM103 304h1v4h-1zM106 305h1v3h-1zM47 308h4v1h-4zM103 308h12v1h-12zM91 303h1v7h-1zM151 305h1v5h-1zM132 305h1v5h-1zM177 306h1v4h-1zM72 307h1v3h-1zM126 305h1v6h-1zM212 306h1v5h-1zM151 310h17v1h-17zM72 310h5v1h-5zM245 302h1v10h-1zM228 311h9v1h-9zM115 311h16v1h-16zM56 307h1v6h-1zM177 311h1v2h-1zM237 312h15v1h-15zM204 310h1v4h-1zM51 313h6v1h-6zM47 313h3v1h-3zM168 311h1v4h-1zM39 313h1v2h-1zM199 314h6v1h-6zM228 312h1v4h-1zM34 313h1v4h-1zM229 316h8v1h-8zM220 316h4v1h-4zM39 316h1v2h-1zM103 309h1v12h-1zM139 310h1v11h-1zM182 310h1v11h-1zM151 311h1v10h-1zM115 312h1v9h-1zM160 312h1v9h-1zM120 312h1v9h-1zM125 312h1v9h-1zM56 314h1v7h-1zM204 315h1v6h-1zM132 316h1v5h-1zM177 316h1v5h-1zM233 317h1v4h-1zM39 319h1v2h-1z"/><g fill="#fff"><ellipse cx="62.0" cy="23.1" rx="2.2" ry="2.1"/><ellipse cx="85.5" cy="23.2" rx="2.2" ry="2.1"/><ellipse cx="170.5" cy="23.0" rx="6.9" ry="2.7"/><ellipse cx="173.7" cy="29.1" rx="4.0" ry="3.5"/><ellipse cx="213.3" cy="23.7" rx="2.2" ry="2.1"/><ellipse cx="240.9" cy="23.1" rx="5.1" ry="2.7"/><ellipse cx="195.1" cy="30.6" rx="4.5" ry="5.1"/><ellipse cx="187.4" cy="39.2" rx="4.3" ry="4.3"/><ellipse cx="180.2" cy="46.6" rx="3.6" ry="5.2"/><ellipse cx="194.0" cy="47.0" rx="6.9" ry="2.7"/><ellipse cx="204.6" cy="54.8" rx="4.8" ry="4.8"/><ellipse cx="209.1" cy="63.7" rx="4.5" ry="4.1"/><ellipse cx="194.2" cy="51.7" rx="2.2" ry="8.3"/><ellipse cx="223.9" cy="32.5" rx="4.1" ry="4.5"/><ellipse cx="226.8" cy="38.3" rx="3.7" ry="3.7"/><ellipse cx="206.8" cy="34.3" rx="2.2" ry="2.1"/><ellipse cx="53.3" cy="48.7" rx="4.3" ry="4.3"/><ellipse cx="57.2" cy="58.9" rx="5.1" ry="2.7"/><ellipse cx="158.5" cy="46.6" rx="2.2" ry="2.1"/><ellipse cx="218.8" cy="46.6" rx="3.1" ry="3.0"/><ellipse cx="236.8" cy="53.5" rx="2.2" ry="2.1"/><ellipse cx="184.2" cy="65.3" rx="5.1" ry="2.7"/><ellipse cx="243.4" cy="68.1" rx="2.2" ry="4.2"/><ellipse cx="45.4" cy="70.8" rx="4.3" ry="2.2"/><ellipse cx="164.4" cy="70.7" rx="2.2" ry="2.1"/><ellipse cx="176.5" cy="70.8" rx="2.2" ry="2.1"/><ellipse cx="202.4" cy="74.4" rx="3.7" ry="3.7"/><ellipse cx="146.8" cy="76.5" rx="2.2" ry="2.1"/><ellipse cx="184.5" cy="81.3" rx="4.3" ry="4.3"/><ellipse cx="188.2" cy="91.8" rx="2.2" ry="4.2"/><ellipse cx="164.2" cy="93.0" rx="2.2" ry="4.2"/><ellipse cx="206.4" cy="88.5" rx="2.2" ry="2.1"/><ellipse cx="180.1" cy="102.9" rx="3.7" ry="3.7"/><ellipse cx="176.1" cy="106.9" rx="2.2" ry="2.1"/><ellipse cx="195.8" cy="105.2" rx="3.7" ry="3.7"/><ellipse cx="219.1" cy="101.2" rx="2.2" ry="2.1"/><ellipse cx="212.0" cy="108.0" rx="2.2" ry="2.1"/><ellipse cx="169.6" cy="113.8" rx="2.2" ry="2.1"/><ellipse cx="243.5" cy="116.5" rx="2.2" ry="4.2"/><ellipse cx="215.0" cy="124.4" rx="4.5" ry="4.1"/><ellipse cx="225.9" cy="128.6" rx="4.5" ry="5.1"/><ellipse cx="220.9" cy="137.9" rx="5.2" ry="4.5"/><ellipse cx="221.1" cy="135.8" rx="2.8" ry="5.0"/><ellipse cx="225.3" cy="155.7" rx="2.2" ry="2.1"/><ellipse cx="210.0" cy="163.6" rx="3.7" ry="3.7"/><ellipse cx="225.7" cy="167.6" rx="7.9" ry="2.9"/><ellipse cx="237.1" cy="168.2" rx="2.9" ry="7.9"/><ellipse cx="241.0" cy="176.0" rx="4.1" ry="4.5"/><ellipse cx="225.8" cy="179.3" rx="7.9" ry="2.9"/><ellipse cx="229.5" cy="186.9" rx="3.7" ry="3.7"/><ellipse cx="227.5" cy="173.3" rx="4.3" ry="2.2"/><ellipse cx="164.1" cy="167.1" rx="2.2" ry="2.1"/><ellipse cx="205.2" cy="175.9" rx="4.5" ry="5.1"/><ellipse cx="202.8" cy="186.4" rx="4.3" ry="4.3"/><ellipse cx="200.1" cy="179.2" rx="3.1" ry="3.0"/><ellipse cx="152.5" cy="184.8" rx="2.2" ry="2.1"/><ellipse cx="141.0" cy="192.9" rx="4.3" ry="4.3"/><ellipse cx="164.9" cy="194.8" rx="2.2" ry="4.2"/><ellipse cx="181.8" cy="191.6" rx="2.2" ry="2.1"/><ellipse cx="218.6" cy="190.9" rx="2.2" ry="2.1"/><ellipse cx="201.5" cy="205.2" rx="4.3" ry="4.3"/><ellipse cx="235.1" cy="205.3" rx="3.7" ry="3.7"/><ellipse cx="230.1" cy="210.3" rx="2.2" ry="2.1"/><ellipse cx="167.9" cy="211.0" rx="3.7" ry="3.7"/><ellipse cx="165.7" cy="221.5" rx="7.9" ry="2.9"/><ellipse cx="161.1" cy="231.4" rx="4.8" ry="4.8"/><ellipse cx="175.5" cy="234.5" rx="7.4" ry="2.5"/><ellipse cx="194.8" cy="233.6" rx="9.0" ry="3.1"/><ellipse cx="202.5" cy="226.3" rx="4.3" ry="4.3"/><ellipse cx="189.2" cy="222.4" rx="7.4" ry="2.5"/><ellipse cx="196.3" cy="235.7" rx="3.4" ry="6.9"/><ellipse cx="190.2" cy="236.7" rx="2.5" ry="7.3"/><ellipse cx="181.6" cy="230.0" rx="4.0" ry="4.7"/><ellipse cx="168.9" cy="227.7" rx="4.6" ry="5.1"/><ellipse cx="167.5" cy="223.5" rx="2.8" ry="5.0"/><ellipse cx="230.0" cy="221.4" rx="2.2" ry="2.1"/><ellipse cx="145.6" cy="228.1" rx="2.2" ry="2.1"/><ellipse cx="245.0" cy="236.0" rx="3.7" ry="3.7"/><ellipse cx="109.8" cy="245.8" rx="2.2" ry="2.1"/><ellipse cx="230.7" cy="269.8" rx="2.2" ry="2.1"/><ellipse cx="242.4" cy="276.1" rx="2.2" ry="2.1"/><ellipse cx="192.1" cy="285.2" rx="3.7" ry="3.7"/><ellipse cx="182.9" cy="293.9" rx="2.2" ry="6.3"/><ellipse cx="225.3" cy="282.4" rx="2.2" ry="2.1"/><ellipse cx="235.3" cy="285.2" rx="3.7" ry="3.7"/><ellipse cx="201.3" cy="294.5" rx="2.2" ry="2.1"/><ellipse cx="242.4" cy="293.4" rx="2.2" ry="2.1"/><ellipse cx="206.6" cy="300.2" rx="2.2" ry="2.1"/><ellipse cx="248.7" cy="307.0" rx="2.9" ry="7.9"/><ellipse cx="246.7" cy="317.9" rx="5.1" ry="2.7"/><ellipse cx="176.6" cy="308.9" rx="2.2" ry="4.2"/><ellipse cx="224.0" cy="305.9" rx="6.4" ry="2.2"/><ellipse cx="225.5" cy="311.5" rx="4.8" ry="2.9"/><ellipse cx="212.0" cy="318.6" rx="2.2" ry="2.1"/><ellipse cx="194.0" cy="311.7" rx="2.2" ry="2.1"/><ellipse cx="152.0" cy="317.4" rx="2.2" ry="2.1"/><ellipse cx="181.9" cy="318.2" rx="2.2" ry="2.1"/></g><g fill="none" stroke="#3e26a8" stroke-width="0.8" opacity="0.55"><polyline points="40.3,62.0 61.3,47.3 86.5,34.7 103.3,26.3 118.0,20.0"/><polyline points="46.6,74.6 67.6,59.9 88.6,47.3 113.8,32.6 134.0,22.0"/><polyline points="38.2,89.3 55.0,76.7 76.0,66.2 95.0,57.0"/><polyline points="50.8,43.1 76.0,30.5 97.0,22.1"/><polyline points="86.5,315.5 113.0,286.3 152.8,273.0 179.4,254.5 200.0,241.2"/><polyline points="94.5,321.0 121.0,294.3 166.0,275.7 192.6,259.8"/><polyline points="73.3,321.0 99.8,297.0 126.3,283.7"/><polyline points="88.0,318.0 115.0,289.0 155.0,275.5 182.0,257.0"/></g><polygon points="205.0,86.0 222.0,86.0 222.0,119.0 252.0,119.0 252.0,124.0 241.0,124.0 241.0,186.0 226.0,193.0 213.0,206.0 206.0,216.0 201.0,222.0 196.0,221.0 192.0,213.0 189.0,200.0 187.0,185.0 186.0,165.0 187.0,150.0 191.0,137.0 197.0,124.0 203.0,110.0 204.0,98.0" fill="#3e26a8"/><rect x="222" y="86" width="30" height="33" fill="#f9fb15"/><rect x="241" y="124" width="11" height="62" fill="#f9fb15"/><polygon points="188.0,181.0 196.0,178.0 199.0,189.0 197.0,200.0 192.0,199.0 189.0,190.0" fill="#f9fb15" opacity="0.8"/><polyline points="203.0,115.0 201.0,130.0 202.0,140.0 207.0,154.0 210.0,166.0 218.0,173.0 220.0,186.0" fill="none" stroke="#f9fb15" stroke-width="1" opacity="0.6"/><polyline points="199.0,120.0 190.5,137.0 186.5,157.0 187.5,178.0 193.0,195.0 196.0,207.0 199.0,215.0" fill="none" stroke="#f9fb15" stroke-width="1" opacity="0.6"/><polygon points="155.0,228.0 158.0,222.0 166.0,219.0 172.0,216.5 182.0,216.0 190.0,219.0 198.0,221.5 206.0,222.5 210.5,228.0 209.0,234.0 203.0,239.0 195.0,238.0 188.0,235.5 180.0,236.5 172.0,235.0 166.0,238.0 158.0,236.0" fill="#fff"/><polygon points="215.7,125.2 223.0,124.5 230.4,124.1 231.5,130.4 229.4,136.7 228.3,143.0 219.9,143.0 214.7,138.8 215.7,132.5" fill="#fff"/><ellipse cx="154.5" cy="227.0" rx="2.5" ry="1.3" fill="#fff"/><ellipse cx="156.6" cy="224.6" rx="1.6" ry="1.8" fill="#fff"/><ellipse cx="156.6" cy="221.8" rx="1.6" ry="1.3" fill="#fff"/><ellipse cx="161.8" cy="221.5" rx="1.7" ry="1.5" fill="#fff"/><ellipse cx="166.4" cy="220.3" rx="2.4" ry="1.7" fill="#fff"/><ellipse cx="170.4" cy="216.4" rx="2.8" ry="1.5" fill="#fff"/><ellipse cx="170.9" cy="215.4" rx="2.0" ry="2.2" fill="#fff"/><ellipse cx="176.0" cy="216.5" rx="2.5" ry="1.6" fill="#fff"/><ellipse cx="182.1" cy="214.7" rx="1.6" ry="1.4" fill="#fff"/><ellipse cx="186.5" cy="217.3" rx="2.0" ry="1.9" fill="#fff"/><ellipse cx="189.9" cy="218.4" rx="2.7" ry="2.0" fill="#fff"/><ellipse cx="193.2" cy="220.5" rx="2.3" ry="2.3" fill="#fff"/><ellipse cx="198.7" cy="220.9" rx="3.0" ry="1.3" fill="#fff"/><ellipse cx="201.8" cy="222.8" rx="1.7" ry="1.8" fill="#fff"/><ellipse cx="204.6" cy="223.0" rx="2.6" ry="1.9" fill="#fff"/><ellipse cx="209.4" cy="224.7" rx="2.5" ry="1.9" fill="#fff"/><ellipse cx="210.7" cy="227.9" rx="2.8" ry="2.3" fill="#fff"/><ellipse cx="209.7" cy="231.5" rx="1.6" ry="2.0" fill="#fff"/><ellipse cx="209.4" cy="235.5" rx="2.7" ry="1.5" fill="#fff"/><ellipse cx="205.7" cy="237.0" rx="1.5" ry="1.8" fill="#fff"/><ellipse cx="202.0" cy="237.9" rx="1.6" ry="2.1" fill="#fff"/><ellipse cx="197.9" cy="237.7" rx="2.1" ry="2.2" fill="#fff"/><ellipse cx="193.7" cy="237.8" rx="2.3" ry="2.3" fill="#fff"/><ellipse cx="192.5" cy="237.8" rx="1.9" ry="1.7" fill="#fff"/><ellipse cx="187.6" cy="236.7" rx="2.9" ry="1.4" fill="#fff"/><ellipse cx="183.0" cy="235.2" rx="1.9" ry="1.8" fill="#fff"/><ellipse cx="180.3" cy="235.8" rx="1.5" ry="1.7" fill="#fff"/><ellipse cx="175.6" cy="235.9" rx="2.9" ry="2.0" fill="#fff"/><ellipse cx="172.0" cy="235.4" rx="2.5" ry="1.3" fill="#fff"/><ellipse cx="170.2" cy="237.3" rx="2.8" ry="2.2" fill="#fff"/><ellipse cx="165.7" cy="237.7" rx="1.7" ry="2.0" fill="#fff"/><ellipse cx="160.7" cy="235.7" rx="1.8" ry="1.4" fill="#fff"/><ellipse cx="157.5" cy="234.7" rx="1.5" ry="1.4" fill="#fff"/><ellipse cx="155.3" cy="231.6" rx="1.5" ry="2.2" fill="#fff"/><rect x="189.6" y="222.9" width="1.4" height="1.3" fill="#f9fb15" opacity="0.8"/><rect x="179.6" y="222.6" width="2.3" height="2.0" fill="#f9fb15" opacity="0.8"/><rect x="183.6" y="227.3" width="1.1" height="1.1" fill="#f9fb15" opacity="0.8"/><rect x="178.7" y="224.4" width="2.2" height="1.2" fill="#f9fb15" opacity="0.8"/><rect x="165.9" y="233.4" width="1.8" height="1.1" fill="#f9fb15" opacity="0.8"/><ellipse cx="201.0" cy="182.5" rx="5.8" ry="9" fill="#fff"/><ellipse cx="213.0" cy="162.6" rx="3.4" ry="3.8" fill="#fff"/><ellipse cx="227.0" cy="170" rx="9" ry="3" fill="#fff"/><ellipse cx="228.0" cy="182.5" rx="8.5" ry="3" fill="#fff"/><ellipse cx="240.0" cy="177" rx="2.8" ry="4" fill="#fff"/><ellipse cx="202.0" cy="203.5" rx="5" ry="5" fill="#fff"/><ellipse cx="212.5" cy="191" rx="5" ry="3" fill="#fff"/><ellipse cx="227.0" cy="159.8" rx="3" ry="1.8" fill="#fff"/><ellipse cx="213.6" cy="124.6" rx="2" ry="1.6" fill="#fff"/><ellipse cx="218.3" cy="104.2" rx="1.6" ry="2.1" fill="#fff"/><ellipse cx="210.2" cy="118.8" rx="1.3" ry="1.5" fill="#fff"/><ellipse cx="244.6" cy="116.8" rx="4.7" ry="3.1" fill="#fff"/><ellipse cx="226.7" cy="153.5" rx="3.7" ry="2.1" fill="#fff"/><polygon points="252.5,285.5 252.5,321.5 242.0,321.5" fill="#fff"/></g></g><g clip-path="url(#cr)"><g filter="url(#bl)"><rect x="326.5" y="20" width="218" height="301" fill="#f9fb15"/><path fill="#3e26a8" d="M463.5 20h2v1h-2zM349.5 20h2v1h-2zM496.5 20h14v1h-14zM341.5 20h2v1h-2zM512.5 20h11v1h-11zM431.5 20h3v1h-3zM407.5 20h2v1h-2zM384.5 20h2v1h-2zM543.5 20h1v1h-1zM467.5 20h8v1h-8zM449.5 20h8v1h-8zM441.5 20h6v1h-6zM399.5 20h2v2h-2zM477.5 20h11v2h-11zM526.5 20h13v2h-13zM363.5 20h2v2h-2zM358.5 20h1v2h-1zM393.5 20h3v2h-3zM410.5 20h2v2h-2zM380.5 20h2v2h-2zM397.5 20h1v2h-1zM404.5 21h5v1h-5zM430.5 21h4v1h-4zM417.5 21h1v1h-1zM449.5 21h7v1h-7zM468.5 21h7v1h-7zM464.5 21h1v1h-1zM441.5 21h7v1h-7zM504.5 21h6v1h-6zM496.5 21h6v1h-6zM540.5 21h1v1h-1zM512.5 21h10v1h-10zM384.5 21h1v2h-1zM368.5 21h2v2h-2zM390.5 22h2v1h-2zM512.5 22h6v1h-6zM505.5 22h5v1h-5zM531.5 22h1v1h-1zM393.5 22h6v1h-6zM467.5 22h21v1h-21zM431.5 22h3v1h-3zM425.5 22h2v1h-2zM410.5 22h1v1h-1zM429.5 22h1v1h-1zM441.5 22h15v1h-15zM542.5 21h2v3h-2zM349.5 21h1v3h-1zM359.5 22h3v2h-3zM533.5 22h8v2h-8zM495.5 22h7v2h-7zM421.5 22h2v2h-2zM370.5 23h2v1h-2zM466.5 23h16v1h-16zM365.5 23h1v1h-1zM393.5 23h4v1h-4zM410.5 23h3v1h-3zM509.5 23h1v1h-1zM512.5 23h4v1h-4zM425.5 23h31v1h-31zM505.5 23h1v2h-1zM483.5 23h7v2h-7zM463.5 24h2v1h-2zM467.5 24h15v1h-15zM519.5 24h1v1h-1zM411.5 24h2v1h-2zM423.5 24h35v1h-35zM496.5 24h6v1h-6zM535.5 24h9v1h-9zM513.5 24h2v1h-2zM404.5 22h3v4h-3zM459.5 23h3v3h-3zM468.5 25h22v1h-22zM424.5 25h9v1h-9zM531.5 25h13v1h-13zM410.5 25h3v1h-3zM422.5 25h1v1h-1zM463.5 25h4v1h-4zM493.5 25h10v1h-10zM504.5 25h5v1h-5zM514.5 25h14v1h-14zM452.5 25h6v1h-6zM434.5 25h16v1h-16zM416.5 24h4v3h-4zM365.5 24h4v3h-4zM397.5 25h4v2h-4zM434.5 26h1v1h-1zM403.5 26h7v1h-7zM493.5 26h3v1h-3zM534.5 26h9v1h-9zM504.5 26h4v1h-4zM389.5 26h1v1h-1zM509.5 26h1v1h-1zM463.5 26h7v1h-7zM422.5 26h10v1h-10zM442.5 26h8v1h-8zM515.5 26h13v1h-13zM474.5 26h16v1h-16zM471.5 26h2v1h-2zM452.5 26h7v1h-7zM531.5 26h2v1h-2zM411.5 26h1v1h-1zM436.5 26h5v1h-5zM393.5 24h2v4h-2zM497.5 26h6v2h-6zM340.5 26h1v2h-1zM454.5 27h8v1h-8zM495.5 27h1v1h-1zM446.5 27h2v1h-2zM436.5 27h1v1h-1zM405.5 27h11v1h-11zM366.5 27h3v1h-3zM424.5 27h7v1h-7zM396.5 27h1v1h-1zM438.5 27h7v1h-7zM476.5 27h14v1h-14zM534.5 27h10v1h-10zM432.5 27h3v1h-3zM530.5 27h1v1h-1zM418.5 27h3v1h-3zM515.5 27h6v1h-6zM471.5 27h4v2h-4zM504.5 27h9v2h-9zM525.5 27h1v2h-1zM400.5 27h3v2h-3zM466.5 27h4v2h-4zM489.5 28h1v1h-1zM530.5 28h3v1h-3zM418.5 28h5v1h-5zM435.5 28h13v1h-13zM405.5 28h5v1h-5zM494.5 28h9v1h-9zM424.5 28h8v1h-8zM372.5 28h1v1h-1zM476.5 28h12v1h-12zM534.5 28h5v1h-5zM392.5 28h5v1h-5zM543.5 28h1v1h-1zM453.5 28h11v1h-11zM369.5 28h2v2h-2zM516.5 28h5v2h-5zM413.5 28h3v2h-3zM494.5 29h4v1h-4zM529.5 29h6v1h-6zM434.5 29h1v1h-1zM482.5 29h5v1h-5zM452.5 29h12v1h-12zM436.5 29h13v1h-13zM387.5 29h2v1h-2zM476.5 29h2v1h-2zM499.5 29h14v1h-14zM536.5 29h2v1h-2zM391.5 29h6v1h-6zM466.5 29h7v1h-7zM418.5 29h15v1h-15zM407.5 29h3v2h-3zM488.5 29h5v2h-5zM364.5 29h1v2h-1zM401.5 29h4v2h-4zM369.5 30h3v1h-3zM528.5 30h5v1h-5zM469.5 30h2v1h-2zM422.5 30h1v1h-1zM535.5 30h3v1h-3zM386.5 30h1v1h-1zM439.5 30h3v1h-3zM341.5 30h1v1h-1zM482.5 30h3v1h-3zM413.5 30h6v1h-6zM392.5 30h4v1h-4zM496.5 30h18v1h-18zM443.5 30h7v1h-7zM424.5 30h11v2h-11zM517.5 30h5v2h-5zM436.5 30h2v2h-2zM482.5 31h32v1h-32zM385.5 31h2v1h-2zM529.5 31h3v1h-3zM365.5 31h4v1h-4zM443.5 31h5v1h-5zM536.5 31h1v1h-1zM409.5 31h8v1h-8zM477.5 30h1v3h-1zM453.5 30h11v3h-11zM403.5 31h2v2h-2zM393.5 31h4v2h-4zM344.5 31h1v2h-1zM469.5 31h1v2h-1zM442.5 32h6v1h-6zM347.5 32h1v1h-1zM439.5 32h1v1h-1zM417.5 32h1v1h-1zM339.5 32h1v1h-1zM373.5 32h2v1h-2zM517.5 32h3v1h-3zM409.5 32h7v1h-7zM425.5 32h11v1h-11zM370.5 32h2v1h-2zM383.5 32h1v1h-1zM449.5 32h2v1h-2zM482.5 32h33v1h-33zM386.5 32h1v2h-1zM368.5 32h1v2h-1zM469.5 33h2v1h-2zM452.5 33h12v1h-12zM392.5 33h5v1h-5zM339.5 33h2v1h-2zM344.5 33h6v1h-6zM410.5 33h7v1h-7zM378.5 33h1v1h-1zM442.5 33h7v1h-7zM436.5 33h2v1h-2zM380.5 33h5v1h-5zM373.5 33h3v1h-3zM474.5 30h2v5h-2zM481.5 33h35v2h-35zM425.5 33h9v2h-9zM364.5 33h1v2h-1zM517.5 33h5v2h-5zM471.5 34h1v1h-1zM338.5 34h1v1h-1zM442.5 34h24v1h-24zM410.5 34h5v1h-5zM349.5 34h1v1h-1zM478.5 34h1v1h-1zM343.5 34h5v1h-5zM389.5 34h8v1h-8zM341.5 34h1v2h-1zM369.5 34h1v2h-1zM372.5 34h15v2h-15zM411.5 35h3v1h-3zM389.5 35h10v1h-10zM517.5 35h3v1h-3zM337.5 35h2v1h-2zM425.5 35h2v1h-2zM355.5 35h1v1h-1zM475.5 35h41v1h-41zM348.5 35h2v1h-2zM442.5 35h22v1h-22zM530.5 33h1v4h-1zM524.5 34h2v3h-2zM543.5 34h1v3h-1zM471.5 35h2v2h-2zM428.5 35h6v2h-6zM407.5 36h10v1h-10zM508.5 36h4v1h-4zM426.5 36h1v1h-1zM474.5 36h26v1h-26zM442.5 36h23v1h-23zM371.5 36h30v1h-30zM514.5 36h6v1h-6zM501.5 36h3v1h-3zM332.5 30h2v8h-2zM468.5 34h2v4h-2zM343.5 35h4v3h-4zM436.5 35h3v3h-3zM366.5 36h1v2h-1zM363.5 36h2v2h-2zM338.5 36h3v2h-3zM376.5 37h23v1h-23zM440.5 37h22v1h-22zM472.5 37h1v1h-1zM425.5 37h9v1h-9zM407.5 37h15v1h-15zM514.5 37h7v1h-7zM400.5 37h1v1h-1zM464.5 37h1v1h-1zM371.5 37h3v1h-3zM479.5 37h20v1h-20zM405.5 37h1v1h-1zM524.5 37h7v1h-7zM509.5 37h2v1h-2zM501.5 37h2v2h-2zM398.5 38h1v1h-1zM509.5 38h12v1h-12zM406.5 38h11v1h-11zM370.5 38h11v1h-11zM440.5 38h25v1h-25zM473.5 38h1v1h-1zM386.5 38h11v1h-11zM337.5 38h4v1h-4zM479.5 38h19v1h-19zM504.5 38h1v1h-1zM469.5 38h1v1h-1zM359.5 38h4v2h-4zM419.5 38h3v2h-3zM427.5 38h7v2h-7zM349.5 39h4v1h-4zM383.5 39h12v1h-12zM484.5 39h35v1h-35zM524.5 39h1v1h-1zM472.5 39h4v1h-4zM370.5 39h10v1h-10zM469.5 39h2v1h-2zM520.5 39h2v1h-2zM479.5 39h3v1h-3zM439.5 39h29v1h-29zM397.5 39h1v1h-1zM401.5 38h1v3h-1zM337.5 39h3v2h-3zM424.5 40h3v1h-3zM369.5 40h12v1h-12zM489.5 40h22v1h-22zM354.5 40h1v1h-1zM458.5 40h9v1h-9zM428.5 40h7v1h-7zM471.5 40h5v1h-5zM480.5 40h2v1h-2zM512.5 40h7v1h-7zM484.5 40h4v1h-4zM440.5 40h17v1h-17zM384.5 40h10v2h-10zM397.5 40h2v2h-2zM349.5 40h3v2h-3zM362.5 40h2v2h-2zM367.5 41h14v1h-14zM512.5 41h6v1h-6zM400.5 41h2v1h-2zM428.5 41h2v1h-2zM467.5 41h9v1h-9zM459.5 41h7v1h-7zM438.5 41h20v1h-20zM479.5 41h29v1h-29zM435.5 41h2v1h-2zM524.5 40h6v3h-6zM407.5 41h1v2h-1zM335.5 41h2v2h-2zM355.5 41h4v2h-4zM438.5 42h21v1h-21zM461.5 42h4v1h-4zM363.5 42h1v1h-1zM385.5 42h8v1h-8zM422.5 42h4v1h-4zM512.5 42h4v1h-4zM467.5 42h42v1h-42zM367.5 42h13v1h-13zM430.5 42h7v1h-7zM517.5 42h1v2h-1zM397.5 42h5v2h-5zM460.5 43h6v1h-6zM371.5 43h7v1h-7zM501.5 43h8v1h-8zM389.5 43h4v1h-4zM476.5 43h3v1h-3zM336.5 43h1v1h-1zM430.5 43h24v1h-24zM422.5 43h6v1h-6zM480.5 43h20v1h-20zM403.5 43h5v1h-5zM455.5 43h3v1h-3zM469.5 43h6v1h-6zM379.5 43h1v1h-1zM345.5 40h3v5h-3zM414.5 41h3v4h-3zM385.5 43h2v2h-2zM511.5 43h5v2h-5zM341.5 43h3v2h-3zM360.5 43h4v2h-4zM370.5 44h2v1h-2zM373.5 44h6v1h-6zM393.5 44h1v1h-1zM481.5 44h29v1h-29zM421.5 44h11v1h-11zM389.5 44h3v1h-3zM398.5 44h12v1h-12zM434.5 44h32v1h-32zM540.5 44h1v1h-1zM467.5 44h12v1h-12zM519.5 44h4v2h-4zM482.5 45h8v1h-8zM421.5 45h4v1h-4zM375.5 45h4v1h-4zM345.5 45h2v1h-2zM371.5 45h1v1h-1zM389.5 45h4v1h-4zM386.5 45h1v1h-1zM467.5 45h6v1h-6zM476.5 45h3v1h-3zM491.5 45h25v1h-25zM426.5 45h6v1h-6zM341.5 45h1v1h-1zM356.5 45h8v1h-8zM463.5 45h3v1h-3zM433.5 45h28v1h-28zM394.5 45h11v1h-11zM407.5 45h3v2h-3zM420.5 46h13v1h-13zM482.5 46h9v1h-9zM516.5 46h7v1h-7zM375.5 46h5v1h-5zM449.5 46h12v1h-12zM434.5 46h13v1h-13zM355.5 46h9v1h-9zM385.5 46h20v1h-20zM493.5 46h22v1h-22zM372.5 46h1v1h-1zM411.5 45h2v3h-2zM463.5 46h9v2h-9zM493.5 47h18v1h-18zM515.5 47h8v1h-8zM483.5 47h8v1h-8zM384.5 47h15v1h-15zM375.5 47h6v1h-6zM360.5 47h2v1h-2zM450.5 47h9v1h-9zM460.5 47h1v1h-1zM430.5 47h17v1h-17zM371.5 47h2v1h-2zM473.5 47h2v2h-2zM355.5 47h4v2h-4zM420.5 47h4v2h-4zM464.5 48h8v1h-8zM515.5 48h9v1h-9zM407.5 48h6v1h-6zM384.5 48h6v1h-6zM369.5 48h8v1h-8zM450.5 48h7v1h-7zM332.5 48h3v1h-3zM493.5 48h17v1h-17zM426.5 48h21v1h-21zM360.5 48h1v1h-1zM483.5 48h9v1h-9zM528.5 45h2v5h-2zM402.5 47h3v3h-3zM382.5 47h1v3h-1zM414.5 47h3v3h-3zM345.5 48h7v2h-7zM326.5 48h3v2h-3zM407.5 49h4v1h-4zM431.5 49h26v1h-26zM426.5 49h4v1h-4zM380.5 49h1v1h-1zM482.5 49h10v1h-10zM355.5 49h5v1h-5zM372.5 49h4v1h-4zM517.5 49h9v1h-9zM332.5 49h4v1h-4zM493.5 49h19v1h-19zM476.5 47h3v4h-3zM391.5 48h4v3h-4zM464.5 49h11v2h-11zM365.5 49h4v2h-4zM422.5 49h2v2h-2zM518.5 50h2v1h-2zM387.5 50h3v1h-3zM375.5 50h1v1h-1zM434.5 50h22v1h-22zM327.5 50h2v1h-2zM405.5 50h2v1h-2zM350.5 50h5v1h-5zM345.5 50h4v1h-4zM426.5 50h6v1h-6zM481.5 50h30v1h-30zM400.5 50h3v1h-3zM356.5 50h4v1h-4zM457.5 50h2v2h-2zM380.5 50h3v2h-3zM398.5 51h1v1h-1zM479.5 51h34v1h-34zM367.5 51h5v1h-5zM400.5 51h2v1h-2zM519.5 51h1v1h-1zM436.5 51h13v1h-13zM374.5 51h2v1h-2zM345.5 51h10v1h-10zM422.5 51h9v1h-9zM396.5 51h1v1h-1zM387.5 51h7v1h-7zM450.5 51h6v1h-6zM465.5 51h10v1h-10zM326.5 51h3v1h-3zM524.5 51h3v1h-3zM515.5 50h2v3h-2zM432.5 51h1v2h-1zM403.5 51h2v2h-2zM374.5 52h3v1h-3zM343.5 52h7v1h-7zM417.5 52h1v1h-1zM524.5 52h2v1h-2zM380.5 52h19v1h-19zM429.5 52h2v1h-2zM336.5 52h1v1h-1zM464.5 52h10v1h-10zM435.5 52h24v1h-24zM490.5 52h5v1h-5zM423.5 52h3v1h-3zM476.5 52h11v1h-11zM353.5 52h2v1h-2zM351.5 52h1v1h-1zM359.5 51h2v3h-2zM367.5 52h2v2h-2zM532.5 52h1v2h-1zM400.5 52h1v2h-1zM497.5 52h4v2h-4zM435.5 53h26v1h-26zM403.5 53h1v1h-1zM490.5 53h6v1h-6zM374.5 53h8v1h-8zM422.5 53h3v1h-3zM467.5 53h20v1h-20zM383.5 53h16v1h-16zM502.5 52h11v3h-11zM517.5 53h1v2h-1zM427.5 53h5v2h-5zM522.5 53h4v2h-4zM350.5 53h2v2h-2zM415.5 53h2v2h-2zM515.5 53h1v2h-1zM462.5 53h2v2h-2zM343.5 53h2v2h-2zM490.5 54h11v1h-11zM359.5 54h3v1h-3zM396.5 54h7v1h-7zM377.5 54h18v1h-18zM367.5 54h4v1h-4zM468.5 54h18v1h-18zM423.5 54h2v1h-2zM436.5 54h25v1h-25zM535.5 55h1v1h-1zM466.5 55h51v1h-51zM352.5 55h1v1h-1zM421.5 55h2v1h-2zM427.5 55h2v1h-2zM394.5 55h3v1h-3zM458.5 55h6v1h-6zM399.5 55h1v1h-1zM415.5 55h4v1h-4zM334.5 55h1v1h-1zM331.5 55h1v1h-1zM435.5 55h21v1h-21zM378.5 55h14v1h-14zM402.5 55h2v2h-2zM375.5 55h1v2h-1zM410.5 55h1v2h-1zM417.5 56h4v1h-4zM456.5 56h3v1h-3zM395.5 56h6v1h-6zM491.5 56h22v1h-22zM461.5 56h28v1h-28zM441.5 56h12v1h-12zM425.5 56h15v1h-15zM519.5 55h1v3h-1zM349.5 56h4v2h-4zM384.5 56h9v2h-9zM379.5 56h4v2h-4zM425.5 57h31v1h-31zM492.5 57h11v1h-11zM375.5 57h2v1h-2zM405.5 57h1v1h-1zM533.5 57h2v1h-2zM506.5 57h8v1h-8zM459.5 57h30v1h-30zM329.5 55h1v4h-1zM395.5 57h8v2h-8zM415.5 57h2v2h-2zM381.5 58h2v1h-2zM459.5 58h28v1h-28zM375.5 58h5v1h-5zM351.5 58h6v1h-6zM385.5 58h8v1h-8zM404.5 58h2v1h-2zM421.5 58h1v1h-1zM425.5 58h29v1h-29zM492.5 58h20v1h-20zM513.5 58h2v1h-2zM360.5 58h3v1h-3zM375.5 59h3v1h-3zM456.5 59h31v1h-31zM423.5 59h31v1h-31zM490.5 59h1v1h-1zM493.5 59h20v1h-20zM351.5 59h9v1h-9zM379.5 59h14v1h-14zM395.5 59h13v1h-13zM366.5 57h3v4h-3zM362.5 59h1v2h-1zM373.5 60h9v1h-9zM423.5 60h30v1h-30zM399.5 60h11v1h-11zM383.5 60h15v1h-15zM494.5 60h19v1h-19zM359.5 60h2v1h-2zM353.5 60h5v1h-5zM457.5 60h29v1h-29zM418.5 60h2v1h-2zM534.5 58h5v4h-5zM526.5 60h3v2h-3zM348.5 60h4v2h-4zM490.5 61h1v1h-1zM403.5 61h7v1h-7zM494.5 61h3v1h-3zM396.5 61h2v1h-2zM505.5 61h7v1h-7zM353.5 61h3v1h-3zM418.5 61h1v1h-1zM389.5 61h3v1h-3zM457.5 61h26v1h-26zM369.5 61h1v1h-1zM377.5 61h9v1h-9zM416.5 60h1v3h-1zM485.5 61h1v2h-1zM422.5 61h32v2h-32zM366.5 61h2v2h-2zM386.5 62h6v1h-6zM396.5 62h14v1h-14zM455.5 62h1v1h-1zM459.5 62h23v1h-23zM495.5 62h2v1h-2zM534.5 62h3v1h-3zM369.5 62h2v1h-2zM418.5 62h2v1h-2zM490.5 62h2v1h-2zM376.5 62h9v1h-9zM506.5 62h4v1h-4zM363.5 61h2v3h-2zM349.5 62h4v2h-4zM398.5 63h1v1h-1zM400.5 63h1v1h-1zM404.5 63h6v1h-6zM490.5 63h4v1h-4zM375.5 63h18v1h-18zM402.5 63h1v1h-1zM414.5 63h4v1h-4zM420.5 63h33v1h-33zM458.5 63h17v1h-17zM477.5 63h2v1h-2zM369.5 63h4v1h-4zM505.5 63h5v2h-5zM351.5 64h4v1h-4zM375.5 64h35v1h-35zM456.5 64h1v1h-1zM368.5 64h5v1h-5zM489.5 64h6v1h-6zM500.5 64h3v1h-3zM426.5 64h27v1h-27zM485.5 63h2v3h-2zM460.5 64h14v2h-14zM357.5 65h5v1h-5zM499.5 65h4v1h-4zM368.5 65h37v1h-37zM489.5 65h3v1h-3zM414.5 64h3v3h-3zM497.5 65h1v2h-1zM426.5 65h30v2h-30zM464.5 66h11v1h-11zM489.5 66h5v1h-5zM403.5 66h1v1h-1zM371.5 66h3v1h-3zM375.5 66h27v1h-27zM353.5 66h2v1h-2zM499.5 66h3v1h-3zM457.5 65h2v3h-2zM506.5 65h4v3h-4zM356.5 66h6v2h-6zM497.5 67h6v1h-6zM366.5 67h27v1h-27zM426.5 67h28v1h-28zM460.5 67h2v1h-2zM466.5 67h1v1h-1zM470.5 67h6v1h-6zM394.5 67h8v1h-8zM488.5 67h7v1h-7zM470.5 68h5v1h-5zM425.5 68h1v1h-1zM502.5 68h1v1h-1zM365.5 68h39v1h-39zM507.5 68h3v1h-3zM488.5 68h5v1h-5zM430.5 68h23v1h-23zM477.5 67h1v3h-1zM407.5 67h3v3h-3zM460.5 68h6v2h-6zM455.5 69h4v1h-4zM417.5 69h4v1h-4zM366.5 69h38v1h-38zM412.5 69h2v1h-2zM486.5 69h7v1h-7zM430.5 69h24v1h-24zM481.5 69h2v1h-2zM502.5 69h2v1h-2zM467.5 69h9v1h-9zM507.5 69h1v1h-1zM339.5 68h3v3h-3zM362.5 69h3v2h-3zM455.5 70h11v1h-11zM399.5 70h5v1h-5zM343.5 70h3v1h-3zM370.5 70h17v1h-17zM468.5 70h9v1h-9zM388.5 70h8v1h-8zM484.5 70h8v1h-8zM413.5 70h8v1h-8zM507.5 70h2v1h-2zM448.5 70h6v1h-6zM429.5 70h15v1h-15zM397.5 70h1v1h-1zM497.5 68h4v4h-4zM510.5 69h3v3h-3zM360.5 70h1v2h-1zM503.5 70h1v2h-1zM387.5 71h17v1h-17zM412.5 71h9v1h-9zM448.5 71h18v1h-18zM467.5 71h11v1h-11zM514.5 71h2v1h-2zM374.5 71h10v1h-10zM430.5 71h8v1h-8zM350.5 71h1v1h-1zM483.5 71h9v1h-9zM362.5 71h1v1h-1zM439.5 71h5v2h-5zM387.5 72h15v1h-15zM448.5 72h6v1h-6zM455.5 72h11v1h-11zM518.5 72h1v1h-1zM359.5 72h2v1h-2zM424.5 72h2v1h-2zM374.5 72h8v1h-8zM411.5 72h11v1h-11zM368.5 72h1v1h-1zM365.5 72h1v1h-1zM342.5 72h1v1h-1zM346.5 72h3v2h-3zM430.5 72h7v2h-7zM501.5 72h2v2h-2zM514.5 72h1v2h-1zM479.5 72h14v2h-14zM362.5 72h2v2h-2zM518.5 73h2v1h-2zM385.5 73h1v1h-1zM413.5 73h13v1h-13zM441.5 73h1v1h-1zM465.5 73h1v1h-1zM359.5 73h1v1h-1zM387.5 73h13v1h-13zM365.5 73h4v1h-4zM374.5 73h10v1h-10zM326.5 72h2v3h-2zM469.5 72h9v3h-9zM452.5 73h10v2h-10zM449.5 73h2v2h-2zM431.5 74h5v1h-5zM364.5 74h3v1h-3zM374.5 74h6v1h-6zM440.5 74h1v1h-1zM464.5 74h2v1h-2zM500.5 74h7v1h-7zM356.5 74h6v1h-6zM519.5 74h1v1h-1zM422.5 74h4v1h-4zM330.5 74h1v1h-1zM387.5 74h14v1h-14zM346.5 74h1v1h-1zM406.5 74h12v2h-12zM442.5 74h2v2h-2zM479.5 74h11v2h-11zM515.5 74h3v2h-3zM510.5 74h3v2h-3zM375.5 75h1v1h-1zM364.5 75h5v1h-5zM326.5 75h4v1h-4zM356.5 75h5v1h-5zM500.5 75h3v1h-3zM431.5 75h6v1h-6zM347.5 75h2v1h-2zM377.5 75h3v1h-3zM386.5 75h15v1h-15zM495.5 75h1v2h-1zM469.5 75h8v2h-8zM449.5 75h16v2h-16zM504.5 75h3v2h-3zM424.5 75h4v2h-4zM374.5 76h6v1h-6zM440.5 76h7v1h-7zM356.5 76h3v1h-3zM492.5 76h2v1h-2zM516.5 76h2v1h-2zM365.5 76h2v1h-2zM386.5 76h13v1h-13zM478.5 76h13v1h-13zM407.5 76h11v1h-11zM466.5 76h1v1h-1zM539.5 76h1v1h-1zM362.5 76h2v1h-2zM338.5 76h1v2h-1zM431.5 76h7v2h-7zM346.5 76h2v2h-2zM402.5 76h1v2h-1zM503.5 77h4v1h-4zM414.5 77h15v1h-15zM384.5 77h10v1h-10zM499.5 77h1v1h-1zM334.5 77h1v1h-1zM449.5 77h19v1h-19zM376.5 77h7v1h-7zM395.5 77h4v1h-4zM444.5 77h3v1h-3zM357.5 77h12v1h-12zM526.5 77h2v1h-2zM493.5 77h4v1h-4zM408.5 77h1v2h-1zM471.5 77h20v2h-20zM393.5 78h1v1h-1zM431.5 78h8v1h-8zM353.5 78h1v1h-1zM362.5 78h7v1h-7zM332.5 78h2v1h-2zM358.5 78h1v1h-1zM422.5 78h7v1h-7zM395.5 78h7v1h-7zM444.5 78h24v1h-24zM414.5 78h7v1h-7zM377.5 78h15v1h-15zM539.5 77h2v3h-2zM336.5 78h2v2h-2zM345.5 78h2v2h-2zM339.5 78h1v2h-1zM494.5 78h6v2h-6zM350.5 79h6v1h-6zM407.5 79h1v1h-1zM330.5 79h5v1h-5zM414.5 79h12v1h-12zM395.5 79h2v1h-2zM357.5 79h10v1h-10zM381.5 79h1v1h-1zM519.5 79h1v1h-1zM471.5 79h18v1h-18zM440.5 79h27v1h-27zM385.5 79h3v1h-3zM378.5 79h1v1h-1zM427.5 79h12v1h-12zM401.5 79h1v1h-1zM411.5 79h1v1h-1zM389.5 79h5v1h-5zM490.5 79h1v2h-1zM330.5 80h2v1h-2zM495.5 80h1v1h-1zM467.5 80h22v1h-22zM498.5 80h3v1h-3zM431.5 80h34v1h-34zM407.5 80h8v1h-8zM399.5 80h6v1h-6zM350.5 80h19v1h-19zM326.5 80h3v1h-3zM343.5 80h2v1h-2zM334.5 80h5v1h-5zM389.5 80h2v1h-2zM503.5 78h5v4h-5zM417.5 80h13v2h-13zM384.5 80h2v2h-2zM387.5 80h1v2h-1zM532.5 80h2v2h-2zM380.5 80h2v2h-2zM373.5 81h2v1h-2zM353.5 81h16v1h-16zM432.5 81h35v1h-35zM395.5 81h10v1h-10zM487.5 81h9v1h-9zM407.5 81h9v1h-9zM391.5 81h2v1h-2zM470.5 81h15v1h-15zM334.5 81h7v1h-7zM345.5 81h3v2h-3zM343.5 81h1v2h-1zM329.5 81h2v2h-2zM503.5 82h4v1h-4zM376.5 82h2v1h-2zM513.5 82h1v1h-1zM523.5 82h1v1h-1zM510.5 82h2v1h-2zM380.5 82h4v1h-4zM386.5 82h1v1h-1zM490.5 82h9v1h-9zM392.5 82h2v1h-2zM412.5 82h18v1h-18zM362.5 82h6v1h-6zM354.5 82h4v1h-4zM432.5 82h31v1h-31zM369.5 82h1v1h-1zM399.5 82h6v1h-6zM468.5 82h15v1h-15zM464.5 82h3v1h-3zM408.5 82h2v2h-2zM359.5 82h2v2h-2zM395.5 82h3v2h-3zM489.5 83h10v1h-10zM354.5 83h2v1h-2zM380.5 83h1v1h-1zM417.5 83h13v1h-13zM329.5 83h3v1h-3zM468.5 83h13v1h-13zM510.5 83h4v1h-4zM535.5 83h2v1h-2zM485.5 83h2v1h-2zM362.5 83h8v1h-8zM335.5 82h6v3h-6zM454.5 83h8v2h-8zM432.5 83h20v2h-20zM382.5 83h5v2h-5zM399.5 83h4v2h-4zM482.5 83h1v2h-1zM502.5 83h5v2h-5zM350.5 83h1v2h-1zM343.5 83h5v2h-5zM326.5 84h5v1h-5zM375.5 84h1v1h-1zM365.5 84h6v1h-6zM510.5 84h5v1h-5zM410.5 84h2v1h-2zM485.5 84h3v1h-3zM396.5 84h2v1h-2zM354.5 84h1v1h-1zM468.5 84h12v1h-12zM379.5 84h1v1h-1zM417.5 84h14v1h-14zM359.5 84h3v2h-3zM534.5 84h2v2h-2zM492.5 84h4v2h-4zM416.5 85h4v1h-4zM395.5 85h8v1h-8zM371.5 85h1v1h-1zM421.5 85h31v1h-31zM330.5 85h1v1h-1zM341.5 85h14v1h-14zM364.5 85h5v1h-5zM468.5 85h10v1h-10zM379.5 85h8v1h-8zM414.5 85h1v1h-1zM480.5 85h8v1h-8zM326.5 85h3v1h-3zM501.5 85h6v1h-6zM357.5 85h1v2h-1zM515.5 85h1v2h-1zM373.5 85h1v2h-1zM351.5 86h4v1h-4zM341.5 86h9v1h-9zM329.5 86h1v1h-1zM385.5 86h2v1h-2zM442.5 86h9v1h-9zM477.5 86h1v1h-1zM485.5 86h28v1h-28zM395.5 86h4v1h-4zM421.5 86h9v1h-9zM418.5 86h1v1h-1zM379.5 86h5v1h-5zM431.5 86h6v1h-6zM359.5 86h10v1h-10zM479.5 86h1v1h-1zM469.5 86h6v1h-6zM536.5 86h2v1h-2zM376.5 85h2v3h-2zM454.5 85h13v3h-13zM482.5 86h1v2h-1zM416.5 87h4v1h-4zM341.5 87h12v1h-12zM364.5 87h3v1h-3zM423.5 87h5v1h-5zM435.5 87h1v1h-1zM485.5 87h31v1h-31zM410.5 87h2v1h-2zM357.5 87h6v1h-6zM430.5 87h3v1h-3zM354.5 87h1v1h-1zM369.5 87h4v1h-4zM395.5 87h6v1h-6zM326.5 86h1v3h-1zM469.5 87h1v2h-1zM443.5 87h8v2h-8zM381.5 87h3v2h-3zM475.5 87h4v2h-4zM431.5 88h5v1h-5zM482.5 88h2v1h-2zM507.5 88h9v1h-9zM346.5 88h9v1h-9zM417.5 88h1v1h-1zM376.5 88h1v1h-1zM492.5 88h14v1h-14zM410.5 88h5v1h-5zM452.5 88h11v1h-11zM395.5 88h3v1h-3zM387.5 88h1v1h-1zM357.5 88h17v1h-17zM402.5 88h2v2h-2zM485.5 88h5v2h-5zM423.5 88h3v2h-3zM492.5 89h21v1h-21zM347.5 89h7v1h-7zM417.5 89h4v1h-4zM535.5 89h3v1h-3zM367.5 89h4v1h-4zM482.5 89h1v1h-1zM433.5 89h2v1h-2zM468.5 89h4v1h-4zM412.5 89h3v1h-3zM345.5 89h1v1h-1zM443.5 89h20v1h-20zM393.5 89h5v1h-5zM357.5 89h2v1h-2zM406.5 89h1v1h-1zM360.5 89h1v1h-1zM475.5 89h1v1h-1zM477.5 89h2v1h-2zM514.5 89h1v2h-1zM372.5 89h1v2h-1zM336.5 89h1v2h-1zM375.5 89h2v2h-2zM467.5 90h4v1h-4zM417.5 90h1v1h-1zM353.5 90h1v1h-1zM485.5 90h28v1h-28zM344.5 90h1v1h-1zM472.5 90h7v1h-7zM410.5 90h2v1h-2zM421.5 90h3v1h-3zM413.5 90h1v1h-1zM444.5 90h9v1h-9zM454.5 90h9v1h-9zM329.5 90h2v1h-2zM349.5 90h3v1h-3zM430.5 90h5v1h-5zM367.5 90h2v2h-2zM384.5 90h4v2h-4zM357.5 90h6v2h-6zM349.5 91h4v1h-4zM423.5 91h3v1h-3zM485.5 91h21v1h-21zM507.5 91h6v1h-6zM526.5 91h2v1h-2zM444.5 91h16v1h-16zM466.5 91h13v1h-13zM528.5 92h2v1h-2zM367.5 92h1v1h-1zM486.5 92h28v1h-28zM428.5 92h1v1h-1zM422.5 92h4v1h-4zM445.5 92h16v1h-16zM360.5 92h3v1h-3zM465.5 92h14v1h-14zM434.5 92h2v1h-2zM415.5 91h3v3h-3zM349.5 92h1v2h-1zM499.5 93h16v1h-16zM444.5 93h19v1h-19zM341.5 93h1v1h-1zM464.5 93h16v1h-16zM486.5 93h12v1h-12zM433.5 93h4v1h-4zM423.5 93h3v1h-3zM428.5 93h3v1h-3zM370.5 90h1v5h-1zM379.5 91h2v4h-2zM392.5 92h1v3h-1zM361.5 93h7v2h-7zM395.5 93h2v2h-2zM483.5 93h2v2h-2zM540.5 93h3v2h-3zM538.5 93h1v2h-1zM433.5 94h6v1h-6zM442.5 94h9v1h-9zM345.5 94h6v1h-6zM487.5 94h9v1h-9zM452.5 94h28v1h-28zM414.5 94h4v1h-4zM498.5 94h17v1h-17zM534.5 94h2v2h-2zM472.5 95h3v1h-3zM447.5 95h24v1h-24zM345.5 95h7v1h-7zM370.5 95h4v1h-4zM486.5 95h10v1h-10zM387.5 95h2v1h-2zM433.5 95h8v1h-8zM499.5 95h16v1h-16zM414.5 95h3v1h-3zM477.5 95h8v1h-8zM423.5 94h8v3h-8zM395.5 95h3v2h-3zM444.5 95h2v2h-2zM365.5 95h2v2h-2zM344.5 96h9v1h-9zM535.5 96h1v1h-1zM368.5 96h6v1h-6zM414.5 96h2v1h-2zM433.5 96h1v1h-1zM437.5 96h5v1h-5zM447.5 96h25v1h-25zM473.5 96h4v1h-4zM478.5 96h37v1h-37zM326.5 93h1v5h-1zM392.5 95h2v3h-2zM418.5 96h1v2h-1zM476.5 97h15v1h-15zM421.5 97h12v1h-12zM457.5 97h15v1h-15zM406.5 97h1v1h-1zM501.5 97h14v1h-14zM414.5 97h1v1h-1zM365.5 97h9v1h-9zM343.5 97h10v1h-10zM436.5 97h17v2h-17zM336.5 97h2v2h-2zM460.5 98h3v1h-3zM372.5 98h2v1h-2zM363.5 98h8v1h-8zM344.5 98h4v1h-4zM503.5 98h12v1h-12zM468.5 98h4v1h-4zM455.5 98h4v1h-4zM501.5 98h1v1h-1zM332.5 98h1v1h-1zM387.5 98h4v1h-4zM421.5 98h8v1h-8zM476.5 98h14v1h-14zM415.5 98h4v1h-4zM537.5 98h2v2h-2zM383.5 98h3v2h-3zM355.5 98h1v2h-1zM471.5 99h1v1h-1zM387.5 99h7v1h-7zM365.5 99h5v1h-5zM336.5 99h3v1h-3zM468.5 99h2v1h-2zM455.5 99h6v1h-6zM418.5 99h3v1h-3zM477.5 99h12v1h-12zM499.5 99h15v1h-15zM493.5 97h5v4h-5zM466.5 98h1v3h-1zM430.5 99h22v2h-22zM344.5 99h2v2h-2zM423.5 99h6v2h-6zM542.5 100h2v1h-2zM476.5 100h16v1h-16zM353.5 100h1v1h-1zM390.5 100h4v1h-4zM499.5 100h3v1h-3zM336.5 100h4v1h-4zM417.5 100h3v1h-3zM377.5 100h3v1h-3zM469.5 100h3v1h-3zM455.5 100h9v1h-9zM398.5 98h1v4h-1zM363.5 100h2v2h-2zM367.5 100h3v2h-3zM382.5 100h4v2h-4zM503.5 100h11v2h-11zM423.5 101h30v1h-30zM377.5 101h2v1h-2zM389.5 101h4v1h-4zM341.5 101h2v1h-2zM454.5 101h10v1h-10zM374.5 101h2v1h-2zM345.5 101h1v1h-1zM465.5 101h7v1h-7zM387.5 101h1v1h-1zM358.5 100h2v3h-2zM416.5 101h4v2h-4zM489.5 101h3v2h-3zM476.5 101h12v2h-12zM348.5 101h2v2h-2zM493.5 101h7v2h-7zM423.5 102h8v1h-8zM432.5 102h40v1h-40zM326.5 100h1v4h-1zM336.5 101h1v3h-1zM379.5 102h2v2h-2zM407.5 103h1v1h-1zM464.5 103h2v1h-2zM483.5 103h5v1h-5zM418.5 103h4v1h-4zM489.5 103h11v1h-11zM458.5 103h2v1h-2zM423.5 103h12v1h-12zM440.5 103h17v1h-17zM502.5 102h12v3h-12zM329.5 102h3v3h-3zM387.5 102h5v3h-5zM416.5 103h1v2h-1zM469.5 103h11v2h-11zM394.5 103h4v2h-4zM382.5 103h4v2h-4zM355.5 103h1v2h-1zM336.5 104h4v1h-4zM489.5 104h7v1h-7zM498.5 104h2v1h-2zM458.5 104h3v1h-3zM483.5 104h2v1h-2zM439.5 104h4v1h-4zM418.5 104h18v1h-18zM353.5 104h1v1h-1zM367.5 103h1v3h-1zM444.5 104h13v2h-13zM408.5 105h2v1h-2zM382.5 105h16v1h-16zM439.5 105h3v1h-3zM421.5 105h15v1h-15zM465.5 105h1v1h-1zM468.5 105h16v1h-16zM501.5 105h12v1h-12zM331.5 105h9v1h-9zM353.5 105h3v1h-3zM543.5 105h1v1h-1zM379.5 105h1v1h-1zM489.5 105h8v1h-8zM455.5 106h1v1h-1zM366.5 106h2v1h-2zM379.5 106h15v1h-15zM371.5 106h3v1h-3zM331.5 106h5v1h-5zM466.5 106h17v1h-17zM358.5 106h3v1h-3zM337.5 106h3v1h-3zM349.5 106h1v1h-1zM427.5 106h11v2h-11zM489.5 106h25v2h-25zM447.5 106h6v2h-6zM480.5 107h4v1h-4zM468.5 107h11v1h-11zM357.5 107h7v1h-7zM465.5 107h2v1h-2zM385.5 107h9v1h-9zM486.5 107h2v1h-2zM458.5 105h1v4h-1zM396.5 106h2v3h-2zM439.5 106h6v3h-6zM423.5 106h3v3h-3zM353.5 106h2v3h-2zM420.5 106h1v3h-1zM379.5 107h3v2h-3zM330.5 107h1v2h-1zM326.5 107h1v2h-1zM373.5 107h1v2h-1zM369.5 107h1v2h-1zM431.5 108h7v1h-7zM447.5 108h5v1h-5zM485.5 108h21v1h-21zM358.5 108h6v1h-6zM346.5 108h4v1h-4zM427.5 108h3v1h-3zM507.5 108h7v1h-7zM469.5 108h15v1h-15zM385.5 108h8v2h-8zM427.5 109h13v1h-13zM472.5 109h31v1h-31zM441.5 109h1v1h-1zM340.5 109h3v1h-3zM464.5 109h3v1h-3zM505.5 109h9v1h-9zM331.5 109h1v1h-1zM457.5 109h4v1h-4zM447.5 109h9v1h-9zM351.5 109h17v1h-17zM416.5 108h1v3h-1zM364.5 110h4v1h-4zM385.5 110h2v1h-2zM418.5 110h1v1h-1zM447.5 110h14v1h-14zM427.5 110h15v1h-15zM472.5 110h42v1h-42zM398.5 110h2v1h-2zM466.5 110h1v1h-1zM390.5 110h3v1h-3zM350.5 110h13v1h-13zM340.5 110h1v1h-1zM421.5 109h1v3h-1zM326.5 109h2v3h-2zM472.5 111h2v1h-2zM359.5 111h6v1h-6zM340.5 111h2v1h-2zM348.5 111h7v1h-7zM381.5 111h1v1h-1zM390.5 111h1v1h-1zM397.5 111h3v1h-3zM463.5 111h1v1h-1zM416.5 111h3v1h-3zM533.5 111h1v1h-1zM475.5 111h39v1h-39zM457.5 111h2v1h-2zM466.5 111h2v1h-2zM368.5 111h1v1h-1zM446.5 111h10v1h-10zM431.5 111h12v1h-12zM372.5 109h2v4h-2zM403.5 112h2v1h-2zM378.5 112h1v1h-1zM327.5 112h1v1h-1zM424.5 112h3v1h-3zM430.5 112h12v1h-12zM475.5 112h15v1h-15zM535.5 112h2v1h-2zM381.5 112h6v1h-6zM446.5 112h13v1h-13zM463.5 112h3v1h-3zM359.5 112h10v1h-10zM416.5 112h5v1h-5zM336.5 111h1v3h-1zM494.5 112h20v2h-20zM348.5 112h8v2h-8zM491.5 112h2v2h-2zM339.5 112h2v2h-2zM424.5 113h6v1h-6zM463.5 113h20v1h-20zM359.5 113h2v1h-2zM384.5 113h3v1h-3zM431.5 113h7v1h-7zM364.5 113h5v1h-5zM444.5 113h18v1h-18zM393.5 113h2v1h-2zM377.5 113h6v1h-6zM390.5 113h2v2h-2zM417.5 113h4v2h-4zM372.5 113h3v2h-3zM439.5 113h2v2h-2zM531.5 114h1v1h-1zM465.5 114h16v1h-16zM377.5 114h2v1h-2zM383.5 114h1v1h-1zM444.5 114h20v1h-20zM364.5 114h3v1h-3zM424.5 114h14v1h-14zM348.5 114h13v1h-13zM491.5 114h23v1h-23zM326.5 113h2v3h-2zM484.5 113h6v3h-6zM538.5 114h4v2h-4zM391.5 115h1v1h-1zM416.5 115h20v1h-20zM491.5 115h22v1h-22zM479.5 115h4v1h-4zM443.5 115h31v1h-31zM437.5 115h1v1h-1zM372.5 115h2v1h-2zM358.5 115h3v1h-3zM349.5 115h8v1h-8zM346.5 115h2v1h-2zM365.5 115h2v1h-2zM376.5 115h3v1h-3zM383.5 115h2v2h-2zM326.5 116h1v1h-1zM372.5 116h7v1h-7zM432.5 116h4v1h-4zM536.5 116h6v1h-6zM358.5 116h7v1h-7zM350.5 116h5v1h-5zM389.5 116h3v1h-3zM328.5 116h1v1h-1zM344.5 116h4v1h-4zM529.5 116h2v1h-2zM533.5 116h2v1h-2zM416.5 116h12v1h-12zM443.5 116h30v1h-30zM488.5 116h26v1h-26zM479.5 116h7v2h-7zM350.5 117h3v1h-3zM367.5 117h5v1h-5zM520.5 117h18v1h-18zM334.5 117h1v1h-1zM331.5 117h1v1h-1zM377.5 117h1v1h-1zM438.5 117h35v1h-35zM338.5 117h2v1h-2zM488.5 117h28v1h-28zM380.5 117h2v1h-2zM373.5 117h3v1h-3zM476.5 115h1v4h-1zM414.5 115h1v4h-1zM386.5 117h4v2h-4zM343.5 117h3v2h-3zM417.5 117h9v2h-9zM402.5 117h1v2h-1zM377.5 118h2v1h-2zM339.5 118h1v1h-1zM438.5 118h24v1h-24zM488.5 118h45v1h-45zM331.5 118h4v1h-4zM351.5 118h2v1h-2zM367.5 118h9v1h-9zM464.5 118h9v1h-9zM535.5 118h4v1h-4zM360.5 117h2v3h-2zM432.5 117h1v3h-1zM380.5 118h1v2h-1zM482.5 118h4v2h-4zM364.5 118h2v2h-2zM328.5 119h3v1h-3zM535.5 119h3v1h-3zM368.5 119h11v1h-11zM434.5 119h6v1h-6zM464.5 119h10v1h-10zM488.5 119h1v1h-1zM414.5 119h16v1h-16zM344.5 119h9v1h-9zM475.5 119h4v1h-4zM491.5 119h36v1h-36zM441.5 119h21v1h-21zM356.5 118h1v3h-1zM386.5 119h2v2h-2zM530.5 119h2v2h-2zM515.5 120h12v1h-12zM415.5 120h9v1h-9zM368.5 120h5v1h-5zM427.5 120h1v1h-1zM343.5 120h9v1h-9zM376.5 120h6v1h-6zM454.5 120h24v1h-24zM364.5 120h1v1h-1zM429.5 120h1v1h-1zM534.5 120h4v1h-4zM338.5 119h4v3h-4zM393.5 119h3v3h-3zM481.5 120h32v2h-32zM433.5 120h7v2h-7zM441.5 120h9v2h-9zM517.5 121h10v1h-10zM375.5 121h1v1h-1zM514.5 121h1v1h-1zM383.5 121h5v1h-5zM530.5 121h8v1h-8zM367.5 121h6v1h-6zM427.5 121h3v1h-3zM455.5 121h24v1h-24zM361.5 120h1v3h-1zM401.5 120h2v3h-2zM346.5 121h8v2h-8zM377.5 121h3v2h-3zM415.5 121h10v2h-10zM356.5 122h2v1h-2zM368.5 122h7v1h-7zM511.5 122h27v1h-27zM485.5 122h23v1h-23zM433.5 122h17v1h-17zM382.5 122h3v1h-3zM326.5 120h5v4h-5zM454.5 122h30v2h-30zM335.5 122h3v2h-3zM390.5 122h3v2h-3zM386.5 122h2v2h-2zM342.5 122h1v2h-1zM383.5 123h2v1h-2zM412.5 123h2v1h-2zM432.5 123h18v1h-18zM485.5 123h46v1h-46zM415.5 123h16v1h-16zM532.5 123h6v1h-6zM368.5 123h11v1h-11zM380.5 123h2v1h-2zM351.5 123h5v1h-5zM351.5 124h4v1h-4zM543.5 124h1v1h-1zM376.5 124h11v1h-11zM454.5 124h84v1h-84zM399.5 124h1v1h-1zM411.5 124h4v1h-4zM417.5 124h33v1h-33zM368.5 124h4v1h-4zM328.5 124h8v2h-8zM388.5 124h5v2h-5zM370.5 125h2v1h-2zM410.5 125h6v1h-6zM352.5 125h3v1h-3zM417.5 125h34v1h-34zM376.5 125h10v1h-10zM452.5 125h85v1h-85zM344.5 123h4v4h-4zM539.5 125h1v2h-1zM350.5 126h6v1h-6zM330.5 126h6v1h-6zM374.5 126h12v1h-12zM339.5 126h3v1h-3zM388.5 126h8v1h-8zM410.5 126h127v1h-127zM357.5 127h3v1h-3zM352.5 127h4v1h-4zM375.5 127h12v1h-12zM538.5 127h1v1h-1zM326.5 127h2v1h-2zM350.5 127h1v1h-1zM390.5 127h6v1h-6zM397.5 127h4v1h-4zM423.5 127h114v1h-114zM408.5 124h1v5h-1zM403.5 127h2v2h-2zM330.5 127h2v2h-2zM410.5 127h11v2h-11zM351.5 128h4v1h-4zM390.5 128h5v1h-5zM448.5 128h37v1h-37zM370.5 128h1v1h-1zM424.5 128h21v1h-21zM487.5 128h2v1h-2zM380.5 128h1v1h-1zM397.5 128h3v1h-3zM446.5 128h1v1h-1zM490.5 128h48v1h-48zM368.5 128h1v1h-1zM374.5 128h1v1h-1zM326.5 128h3v1h-3zM341.5 127h1v3h-1zM383.5 128h3v2h-3zM397.5 129h13v1h-13zM326.5 129h7v1h-7zM412.5 129h9v1h-9zM487.5 129h1v1h-1zM452.5 129h32v1h-32zM424.5 129h18v1h-18zM539.5 128h5v3h-5zM393.5 129h1v2h-1zM489.5 129h49v2h-49zM368.5 129h5v2h-5zM446.5 129h3v2h-3zM339.5 130h4v1h-4zM452.5 130h7v1h-7zM461.5 130h23v1h-23zM413.5 130h8v1h-8zM398.5 130h11v1h-11zM354.5 129h1v3h-1zM376.5 129h3v3h-3zM424.5 130h13v2h-13zM535.5 131h5v1h-5zM413.5 131h9v1h-9zM454.5 131h29v1h-29zM489.5 131h45v1h-45zM370.5 131h3v1h-3zM339.5 131h5v1h-5zM364.5 131h2v1h-2zM405.5 131h3v1h-3zM439.5 130h1v3h-1zM541.5 131h3v2h-3zM444.5 131h7v2h-7zM396.5 132h1v1h-1zM412.5 132h25v1h-25zM343.5 132h2v1h-2zM360.5 132h1v1h-1zM357.5 132h1v1h-1zM405.5 132h1v1h-1zM489.5 132h48v1h-48zM452.5 132h31v1h-31zM333.5 130h3v4h-3zM326.5 130h5v4h-5zM402.5 131h1v3h-1zM370.5 132h2v2h-2zM339.5 132h2v2h-2zM385.5 132h3v2h-3zM357.5 133h4v1h-4zM536.5 133h1v1h-1zM373.5 133h2v1h-2zM490.5 133h43v1h-43zM539.5 133h5v1h-5zM488.5 133h1v1h-1zM411.5 133h26v1h-26zM393.5 133h5v1h-5zM444.5 133h35v1h-35zM404.5 133h1v2h-1zM440.5 133h3v2h-3zM534.5 133h1v2h-1zM481.5 133h2v2h-2zM394.5 134h1v1h-1zM378.5 134h1v1h-1zM370.5 134h1v1h-1zM355.5 134h6v1h-6zM410.5 134h27v1h-27zM484.5 134h5v1h-5zM444.5 134h36v1h-36zM536.5 134h8v1h-8zM341.5 134h3v1h-3zM396.5 134h4v2h-4zM491.5 134h40v2h-40zM440.5 135h1v1h-1zM533.5 135h1v1h-1zM354.5 135h7v1h-7zM423.5 135h16v1h-16zM539.5 135h2v1h-2zM444.5 135h45v1h-45zM393.5 135h2v1h-2zM536.5 135h2v1h-2zM420.5 135h1v1h-1zM385.5 134h6v3h-6zM336.5 134h3v3h-3zM376.5 135h2v2h-2zM343.5 135h1v2h-1zM411.5 135h6v2h-6zM379.5 135h2v2h-2zM347.5 136h1v1h-1zM364.5 136h3v1h-3zM392.5 136h3v1h-3zM472.5 136h59v1h-59zM350.5 136h2v1h-2zM418.5 136h23v1h-23zM537.5 136h1v1h-1zM398.5 136h2v1h-2zM444.5 136h26v1h-26zM356.5 136h1v1h-1zM326.5 134h7v4h-7zM443.5 137h19v1h-19zM468.5 137h63v1h-63zM343.5 137h5v1h-5zM411.5 137h30v1h-30zM380.5 137h15v1h-15zM376.5 137h3v1h-3zM402.5 137h3v1h-3zM371.5 135h1v4h-1zM364.5 137h4v2h-4zM398.5 137h1v2h-1zM464.5 137h2v2h-2zM376.5 138h2v1h-2zM411.5 138h51v1h-51zM328.5 138h8v1h-8zM468.5 138h2v1h-2zM388.5 138h2v1h-2zM471.5 138h60v1h-60zM341.5 138h7v1h-7zM402.5 138h7v1h-7zM393.5 138h2v1h-2zM382.5 138h3v1h-3zM396.5 136h1v4h-1zM533.5 137h6v3h-6zM328.5 139h5v1h-5zM468.5 139h20v1h-20zM489.5 139h42v1h-42zM363.5 139h4v1h-4zM402.5 139h5v1h-5zM377.5 139h4v1h-4zM373.5 139h1v1h-1zM413.5 139h49v1h-49zM349.5 137h3v4h-3zM354.5 137h1v4h-1zM341.5 139h6v2h-6zM383.5 139h6v2h-6zM377.5 140h2v1h-2zM414.5 140h21v1h-21zM395.5 140h2v1h-2zM470.5 140h15v1h-15zM488.5 140h42v1h-42zM534.5 140h5v1h-5zM457.5 140h5v1h-5zM400.5 140h3v1h-3zM362.5 140h2v1h-2zM463.5 139h3v3h-3zM436.5 140h20v2h-20zM381.5 140h1v2h-1zM473.5 141h2v1h-2zM364.5 141h3v1h-3zM343.5 141h1v1h-1zM354.5 141h2v1h-2zM477.5 141h53v1h-53zM373.5 141h2v1h-2zM384.5 141h3v1h-3zM426.5 141h9v1h-9zM414.5 141h10v1h-10zM359.5 141h1v1h-1zM376.5 141h3v1h-3zM388.5 141h1v1h-1zM411.5 139h1v4h-1zM406.5 140h4v3h-4zM390.5 141h3v2h-3zM459.5 141h3v2h-3zM396.5 141h1v2h-1zM350.5 142h6v1h-6zM381.5 142h8v1h-8zM373.5 142h6v1h-6zM436.5 142h17v1h-17zM370.5 142h1v1h-1zM479.5 142h52v1h-52zM418.5 142h16v1h-16zM363.5 142h3v1h-3zM414.5 142h3v1h-3zM336.5 140h1v4h-1zM399.5 141h2v3h-2zM329.5 142h1v2h-1zM465.5 142h3v2h-3zM373.5 143h9v1h-9zM454.5 143h1v1h-1zM390.5 143h4v1h-4zM459.5 143h4v1h-4zM456.5 143h2v1h-2zM383.5 143h5v1h-5zM412.5 143h2v1h-2zM481.5 143h51v1h-51zM421.5 143h32v1h-32zM407.5 143h4v2h-4zM351.5 143h5v2h-5zM403.5 143h2v2h-2zM370.5 144h1v1h-1zM373.5 144h15v1h-15zM412.5 144h16v1h-16zM477.5 144h1v1h-1zM398.5 144h3v1h-3zM450.5 144h7v1h-7zM434.5 144h15v1h-15zM328.5 144h2v1h-2zM479.5 144h53v1h-53zM336.5 144h3v1h-3zM343.5 142h2v4h-2zM347.5 143h2v3h-2zM429.5 144h3v2h-3zM461.5 144h6v2h-6zM451.5 145h6v1h-6zM449.5 145h1v1h-1zM350.5 145h5v1h-5zM398.5 145h6v1h-6zM366.5 145h3v1h-3zM477.5 145h55v1h-55zM405.5 145h7v1h-7zM434.5 145h14v1h-14zM337.5 145h1v1h-1zM371.5 145h2v1h-2zM534.5 143h5v4h-5zM471.5 144h2v3h-2zM383.5 145h3v2h-3zM423.5 145h5v2h-5zM414.5 145h4v2h-4zM327.5 145h3v2h-3zM405.5 146h6v1h-6zM434.5 146h7v1h-7zM442.5 146h15v1h-15zM366.5 146h7v1h-7zM344.5 146h1v1h-1zM484.5 146h48v1h-48zM350.5 146h4v1h-4zM398.5 146h5v1h-5zM460.5 146h7v1h-7zM479.5 146h4v1h-4zM391.5 144h2v4h-2zM380.5 145h1v3h-1zM360.5 146h3v2h-3zM338.5 147h1v1h-1zM453.5 147h4v1h-4zM412.5 147h7v1h-7zM476.5 147h1v1h-1zM478.5 147h5v1h-5zM458.5 147h7v1h-7zM366.5 147h3v1h-3zM328.5 147h5v1h-5zM383.5 147h5v1h-5zM423.5 147h7v1h-7zM447.5 147h5v1h-5zM466.5 147h5v1h-5zM410.5 147h1v1h-1zM434.5 147h8v1h-8zM484.5 147h47v1h-47zM402.5 147h1v1h-1zM375.5 147h1v2h-1zM458.5 148h13v1h-13zM412.5 148h8v1h-8zM446.5 148h11v1h-11zM386.5 148h2v1h-2zM392.5 148h1v1h-1zM382.5 148h1v1h-1zM365.5 148h3v1h-3zM423.5 148h21v1h-21zM389.5 148h2v1h-2zM478.5 148h3v2h-3zM475.5 148h2v2h-2zM328.5 148h4v2h-4zM463.5 149h8v1h-8zM421.5 149h11v1h-11zM367.5 149h4v1h-4zM345.5 149h3v1h-3zM379.5 149h1v1h-1zM386.5 149h4v1h-4zM458.5 149h4v1h-4zM413.5 149h7v1h-7zM484.5 148h50v3h-50zM433.5 149h11v2h-11zM447.5 149h9v2h-9zM377.5 150h3v1h-3zM477.5 150h3v1h-3zM366.5 150h1v1h-1zM328.5 150h3v1h-3zM471.5 150h4v2h-4zM458.5 150h6v2h-6zM418.5 150h1v2h-1zM423.5 150h9v2h-9zM398.5 151h4v1h-4zM338.5 151h4v1h-4zM376.5 151h1v1h-1zM447.5 151h4v1h-4zM420.5 151h1v1h-1zM435.5 151h9v1h-9zM478.5 151h2v1h-2zM481.5 151h53v1h-53zM355.5 151h2v1h-2zM433.5 151h1v1h-1zM386.5 150h3v3h-3zM467.5 150h2v3h-2zM412.5 150h3v3h-3zM390.5 152h2v1h-2zM338.5 152h5v1h-5zM420.5 152h13v1h-13zM447.5 152h8v1h-8zM439.5 152h5v1h-5zM458.5 152h5v1h-5zM478.5 152h55v2h-55zM399.5 152h3v2h-3zM370.5 153h1v1h-1zM447.5 153h1v1h-1zM450.5 153h5v1h-5zM456.5 153h7v1h-7zM434.5 153h3v1h-3zM420.5 153h8v1h-8zM468.5 153h1v1h-1zM386.5 153h10v1h-10zM345.5 153h2v1h-2zM438.5 153h5v1h-5zM471.5 152h3v3h-3zM421.5 154h6v1h-6zM438.5 154h4v1h-4zM375.5 154h2v1h-2zM450.5 154h10v1h-10zM370.5 154h3v1h-3zM386.5 154h11v1h-11zM434.5 154h2v1h-2zM381.5 153h1v3h-1zM412.5 153h7v3h-7zM489.5 154h45v2h-45zM342.5 154h1v2h-1zM422.5 155h5v1h-5zM438.5 155h3v1h-3zM345.5 155h2v1h-2zM376.5 155h1v1h-1zM386.5 155h7v1h-7zM442.5 155h5v1h-5zM451.5 155h8v1h-8zM448.5 155h2v1h-2zM399.5 155h3v1h-3zM433.5 155h4v1h-4zM396.5 155h1v1h-1zM365.5 155h1v1h-1zM470.5 155h4v1h-4zM420.5 155h1v1h-1zM338.5 153h1v4h-1zM477.5 154h9v3h-9zM334.5 154h3v3h-3zM403.5 155h3v2h-3zM428.5 155h3v2h-3zM489.5 156h43v1h-43zM470.5 156h1v1h-1zM342.5 156h3v1h-3zM425.5 156h2v1h-2zM433.5 156h5v1h-5zM410.5 156h9v1h-9zM388.5 156h5v1h-5zM420.5 156h4v1h-4zM446.5 156h13v1h-13zM364.5 156h2v2h-2zM496.5 157h30v1h-30zM338.5 157h7v1h-7zM410.5 157h15v1h-15zM375.5 157h1v1h-1zM383.5 157h3v1h-3zM446.5 157h14v1h-14zM389.5 157h3v1h-3zM528.5 157h3v1h-3zM346.5 157h1v1h-1zM476.5 157h11v1h-11zM540.5 156h3v3h-3zM489.5 157h1v2h-1zM433.5 157h3v2h-3zM427.5 157h4v2h-4zM348.5 157h2v2h-2zM390.5 158h2v1h-2zM405.5 158h9v1h-9zM330.5 158h2v1h-2zM475.5 158h13v1h-13zM437.5 158h2v1h-2zM443.5 158h15v1h-15zM459.5 158h1v1h-1zM339.5 158h8v1h-8zM496.5 158h1v1h-1zM374.5 158h2v1h-2zM464.5 158h7v1h-7zM498.5 158h29v1h-29zM534.5 158h1v1h-1zM365.5 158h1v1h-1zM326.5 158h3v1h-3zM530.5 158h1v1h-1zM419.5 158h6v1h-6zM397.5 156h4v4h-4zM358.5 157h3v3h-3zM476.5 159h13v1h-13zM458.5 159h4v1h-4zM408.5 159h1v1h-1zM433.5 159h5v1h-5zM467.5 159h3v1h-3zM429.5 159h2v1h-2zM389.5 159h3v1h-3zM339.5 159h6v1h-6zM443.5 159h14v1h-14zM422.5 159h6v1h-6zM346.5 159h4v1h-4zM490.5 159h38v1h-38zM336.5 158h2v3h-2zM412.5 159h8v2h-8zM326.5 159h6v2h-6zM374.5 159h7v2h-7zM443.5 160h13v1h-13zM393.5 160h1v1h-1zM477.5 160h23v1h-23zM340.5 160h5v1h-5zM395.5 160h1v1h-1zM503.5 160h24v1h-24zM388.5 160h2v1h-2zM350.5 160h1v1h-1zM407.5 160h2v1h-2zM433.5 160h4v1h-4zM370.5 155h1v7h-1zM363.5 159h1v3h-1zM423.5 160h5v2h-5zM463.5 160h1v2h-1zM397.5 160h3v2h-3zM467.5 160h2v2h-2zM458.5 160h2v2h-2zM495.5 161h7v1h-7zM389.5 161h1v1h-1zM433.5 161h5v1h-5zM376.5 161h7v1h-7zM417.5 161h3v1h-3zM477.5 161h15v1h-15zM442.5 161h13v1h-13zM503.5 161h23v1h-23zM406.5 161h4v1h-4zM392.5 161h4v1h-4zM357.5 161h1v2h-1zM326.5 161h2v2h-2zM334.5 161h1v2h-1zM343.5 161h2v2h-2zM465.5 162h3v1h-3zM469.5 162h2v1h-2zM374.5 162h9v1h-9zM473.5 162h28v1h-28zM417.5 162h12v1h-12zM504.5 162h21v1h-21zM460.5 162h1v1h-1zM397.5 162h4v1h-4zM430.5 162h29v1h-29zM346.5 160h3v4h-3zM331.5 161h1v3h-1zM406.5 162h6v2h-6zM391.5 162h5v2h-5zM388.5 162h2v2h-2zM473.5 163h6v1h-6zM427.5 163h35v1h-35zM463.5 163h5v1h-5zM483.5 163h18v1h-18zM504.5 163h22v1h-22zM469.5 163h3v1h-3zM417.5 163h6v1h-6zM530.5 163h1v1h-1zM374.5 163h3v1h-3zM397.5 163h5v1h-5zM378.5 163h8v1h-8zM528.5 161h1v4h-1zM532.5 162h1v3h-1zM477.5 164h1v1h-1zM485.5 164h15v1h-15zM380.5 164h7v1h-7zM345.5 164h4v1h-4zM392.5 164h4v1h-4zM421.5 164h17v1h-17zM460.5 164h5v1h-5zM397.5 164h2v1h-2zM350.5 164h1v1h-1zM468.5 164h2v1h-2zM505.5 164h21v1h-21zM402.5 164h10v1h-10zM439.5 164h20v1h-20zM328.5 164h3v1h-3zM417.5 164h1v1h-1zM404.5 165h2v1h-2zM408.5 165h1v1h-1zM402.5 165h1v1h-1zM388.5 165h11v1h-11zM381.5 165h6v1h-6zM455.5 165h15v1h-15zM421.5 165h32v1h-32zM338.5 165h2v1h-2zM478.5 165h1v1h-1zM417.5 165h3v2h-3zM477.5 166h3v1h-3zM468.5 166h1v1h-1zM471.5 166h2v1h-2zM421.5 166h45v1h-45zM411.5 165h1v3h-1zM484.5 165h43v3h-43zM354.5 165h2v3h-2zM387.5 166h16v2h-16zM380.5 166h6v2h-6zM361.5 166h2v2h-2zM428.5 167h38v1h-38zM417.5 167h10v1h-10zM480.5 167h3v1h-3zM468.5 167h5v1h-5zM337.5 166h3v3h-3zM477.5 167h1v2h-1zM346.5 167h5v2h-5zM417.5 168h56v1h-56zM391.5 168h10v1h-10zM342.5 168h3v1h-3zM379.5 168h5v1h-5zM387.5 168h3v1h-3zM385.5 168h1v1h-1zM480.5 168h47v1h-47zM405.5 168h3v2h-3zM532.5 169h1v1h-1zM337.5 169h5v1h-5zM412.5 169h2v1h-2zM441.5 169h36v1h-36zM417.5 169h22v1h-22zM480.5 169h48v1h-48zM343.5 169h5v1h-5zM349.5 169h2v1h-2zM387.5 169h14v1h-14zM410.5 169h1v1h-1zM329.5 167h3v4h-3zM363.5 169h1v2h-1zM418.5 170h83v1h-83zM337.5 170h2v1h-2zM403.5 170h11v1h-11zM340.5 170h2v1h-2zM502.5 170h26v1h-26zM386.5 170h11v1h-11zM346.5 170h2v1h-2zM537.5 170h1v2h-1zM383.5 171h2v1h-2zM497.5 171h3v1h-3zM503.5 171h25v1h-25zM350.5 171h1v1h-1zM475.5 171h20v1h-20zM402.5 171h10v1h-10zM387.5 171h1v2h-1zM389.5 171h1v2h-1zM391.5 171h3v2h-3zM480.5 172h5v1h-5zM399.5 172h13v1h-13zM486.5 172h9v1h-9zM511.5 172h17v1h-17zM497.5 172h11v1h-11zM339.5 172h2v1h-2zM417.5 171h54v3h-54zM379.5 171h1v3h-1zM475.5 172h2v2h-2zM339.5 173h1v1h-1zM400.5 173h11v1h-11zM385.5 173h8v1h-8zM412.5 173h1v1h-1zM508.5 173h7v1h-7zM517.5 173h10v1h-10zM481.5 173h4v1h-4zM486.5 173h21v1h-21zM373.5 173h1v2h-1zM387.5 174h7v1h-7zM480.5 174h4v1h-4zM381.5 174h1v1h-1zM404.5 174h9v1h-9zM489.5 174h17v1h-17zM400.5 174h3v1h-3zM417.5 174h59v1h-59zM508.5 174h19v1h-19zM486.5 174h2v1h-2zM526.5 175h1v1h-1zM380.5 175h1v1h-1zM405.5 175h9v1h-9zM508.5 175h17v1h-17zM480.5 175h26v1h-26zM385.5 175h1v1h-1zM397.5 175h5v1h-5zM530.5 175h1v1h-1zM389.5 175h5v1h-5zM467.5 175h9v1h-9zM421.5 175h45v1h-45zM332.5 174h1v3h-1zM326.5 175h2v2h-2zM416.5 176h4v1h-4zM509.5 176h17v1h-17zM334.5 176h1v1h-1zM485.5 176h4v1h-4zM405.5 176h10v1h-10zM351.5 176h2v1h-2zM490.5 176h16v1h-16zM388.5 176h14v1h-14zM421.5 176h42v1h-42zM507.5 176h1v1h-1zM467.5 176h7v2h-7zM390.5 177h2v1h-2zM508.5 177h18v1h-18zM408.5 177h5v1h-5zM423.5 177h39v1h-39zM531.5 177h1v1h-1zM359.5 177h2v1h-2zM476.5 177h1v1h-1zM326.5 177h5v1h-5zM498.5 177h7v1h-7zM533.5 177h1v1h-1zM493.5 177h2v1h-2zM417.5 177h4v2h-4zM484.5 177h6v2h-6zM333.5 177h1v2h-1zM467.5 178h5v1h-5zM543.5 178h1v1h-1zM424.5 178h38v1h-38zM410.5 178h3v1h-3zM507.5 178h25v1h-25zM495.5 178h10v1h-10zM328.5 178h3v1h-3zM337.5 175h4v5h-4zM476.5 178h5v2h-5zM354.5 178h2v2h-2zM424.5 179h3v1h-3zM460.5 179h3v1h-3zM467.5 179h1v1h-1zM495.5 179h7v1h-7zM492.5 179h2v1h-2zM407.5 179h3v1h-3zM485.5 179h6v1h-6zM508.5 179h15v1h-15zM524.5 179h1v1h-1zM528.5 179h3v1h-3zM428.5 179h31v1h-31zM416.5 179h1v2h-1zM330.5 179h1v2h-1zM505.5 179h1v2h-1zM465.5 179h1v2h-1zM486.5 180h5v1h-5zM407.5 180h2v1h-2zM428.5 180h34v1h-34zM507.5 180h17v1h-17zM377.5 180h2v1h-2zM400.5 180h3v1h-3zM492.5 180h4v1h-4zM476.5 180h4v1h-4zM497.5 180h5v1h-5zM365.5 180h2v1h-2zM343.5 179h1v3h-1zM527.5 180h6v2h-6zM365.5 181h3v1h-3zM439.5 181h13v1h-13zM486.5 181h10v1h-10zM473.5 181h1v1h-1zM361.5 181h3v1h-3zM476.5 181h9v1h-9zM427.5 181h10v1h-10zM453.5 181h9v1h-9zM406.5 181h2v1h-2zM336.5 181h1v1h-1zM400.5 181h4v1h-4zM497.5 181h4v1h-4zM377.5 181h3v1h-3zM507.5 181h19v1h-19zM467.5 181h1v2h-1zM535.5 181h2v2h-2zM399.5 182h5v1h-5zM343.5 182h3v1h-3zM455.5 182h7v1h-7zM440.5 182h12v1h-12zM476.5 182h8v1h-8zM422.5 182h1v1h-1zM519.5 182h14v1h-14zM326.5 182h5v1h-5zM427.5 182h1v1h-1zM472.5 182h3v1h-3zM486.5 182h18v1h-18zM409.5 182h2v1h-2zM430.5 182h6v1h-6zM395.5 181h1v3h-1zM377.5 182h6v2h-6zM507.5 182h11v2h-11zM489.5 183h10v1h-10zM403.5 183h1v1h-1zM430.5 183h1v1h-1zM457.5 183h3v1h-3zM419.5 183h5v1h-5zM523.5 183h10v1h-10zM442.5 183h8v1h-8zM326.5 183h13v1h-13zM520.5 183h1v1h-1zM340.5 183h6v1h-6zM432.5 183h6v1h-6zM467.5 183h17v1h-17zM353.5 183h2v1h-2zM486.5 183h2v1h-2zM500.5 183h5v1h-5zM398.5 183h1v2h-1zM452.5 183h1v2h-1zM326.5 184h16v1h-16zM419.5 184h2v1h-2zM457.5 184h2v1h-2zM489.5 184h7v1h-7zM497.5 184h5v1h-5zM441.5 184h9v1h-9zM474.5 184h10v1h-10zM505.5 184h28v1h-28zM467.5 184h6v1h-6zM536.5 184h1v1h-1zM406.5 184h2v1h-2zM348.5 183h1v3h-1zM409.5 183h4v3h-4zM429.5 184h9v2h-9zM353.5 184h1v2h-1zM361.5 185h1v1h-1zM482.5 185h2v1h-2zM419.5 185h5v1h-5zM405.5 185h2v1h-2zM488.5 185h8v1h-8zM337.5 185h5v1h-5zM389.5 185h3v1h-3zM440.5 185h11v1h-11zM505.5 185h27v2h-27zM458.5 185h1v2h-1zM477.5 185h1v2h-1zM463.5 185h10v2h-10zM452.5 185h5v2h-5zM375.5 185h2v2h-2zM498.5 185h4v2h-4zM474.5 186h2v1h-2zM399.5 186h4v1h-4zM428.5 186h23v1h-23zM341.5 186h1v1h-1zM492.5 186h4v1h-4zM405.5 186h4v1h-4zM482.5 186h9v1h-9zM337.5 186h1v1h-1zM329.5 185h2v3h-2zM421.5 186h1v2h-1zM368.5 186h2v2h-2zM347.5 186h3v2h-3zM410.5 186h1v2h-1zM342.5 187h2v1h-2zM461.5 187h11v1h-11zM431.5 187h16v1h-16zM478.5 187h3v1h-3zM505.5 187h26v1h-26zM497.5 187h5v1h-5zM334.5 187h1v1h-1zM452.5 187h6v1h-6zM482.5 187h14v1h-14zM406.5 187h3v1h-3zM424.5 186h1v3h-1zM448.5 187h1v2h-1zM429.5 188h18v1h-18zM346.5 188h4v1h-4zM327.5 188h4v1h-4zM453.5 188h5v1h-5zM472.5 188h4v1h-4zM478.5 188h6v1h-6zM495.5 188h30v1h-30zM332.5 188h3v1h-3zM526.5 188h4v1h-4zM461.5 188h8v1h-8zM488.5 188h1v2h-1zM392.5 188h1v2h-1zM417.5 188h1v2h-1zM326.5 189h4v1h-4zM495.5 189h28v1h-28zM427.5 189h25v1h-25zM424.5 189h2v1h-2zM332.5 189h1v1h-1zM525.5 189h3v1h-3zM461.5 189h6v1h-6zM454.5 189h6v1h-6zM478.5 189h5v1h-5zM339.5 189h11v1h-11zM491.5 188h3v3h-3zM403.5 188h3v3h-3zM334.5 189h1v2h-1zM470.5 189h6v2h-6zM459.5 190h8v1h-8zM347.5 190h4v1h-4zM326.5 190h5v1h-5zM339.5 190h7v1h-7zM427.5 190h7v1h-7zM438.5 190h14v1h-14zM526.5 190h2v1h-2zM495.5 190h27v1h-27zM352.5 190h2v1h-2zM457.5 190h1v1h-1zM529.5 189h2v3h-2zM477.5 190h7v2h-7zM408.5 190h9v2h-9zM422.5 190h2v2h-2zM404.5 191h2v1h-2zM525.5 191h3v1h-3zM438.5 191h9v1h-9zM495.5 191h13v1h-13zM510.5 191h14v1h-14zM427.5 191h10v1h-10zM339.5 191h15v1h-15zM460.5 191h1v1h-1zM467.5 191h8v1h-8zM398.5 190h1v3h-1zM489.5 191h1v2h-1zM491.5 191h2v2h-2zM462.5 191h3v2h-3zM369.5 191h1v2h-1zM326.5 191h6v2h-6zM346.5 192h3v1h-3zM458.5 192h3v1h-3zM443.5 192h5v1h-5zM528.5 192h3v1h-3zM467.5 192h17v1h-17zM495.5 192h26v1h-26zM380.5 192h1v2h-1zM423.5 192h1v2h-1zM401.5 192h2v2h-2zM351.5 192h5v2h-5zM429.5 192h13v2h-13zM382.5 192h3v2h-3zM454.5 193h2v1h-2zM326.5 193h5v1h-5zM443.5 193h6v1h-6zM486.5 193h7v1h-7zM528.5 193h4v1h-4zM346.5 193h2v1h-2zM525.5 193h2v1h-2zM464.5 193h1v1h-1zM457.5 193h5v1h-5zM496.5 193h25v1h-25zM469.5 193h15v1h-15zM406.5 192h2v3h-2zM369.5 193h3v2h-3zM366.5 193h1v2h-1zM330.5 194h2v1h-2zM382.5 194h2v1h-2zM423.5 194h4v1h-4zM493.5 194h35v1h-35zM476.5 194h11v1h-11zM429.5 194h10v1h-10zM469.5 194h6v1h-6zM388.5 194h1v1h-1zM413.5 192h8v4h-8zM339.5 192h2v4h-2zM454.5 194h8v2h-8zM354.5 194h2v2h-2zM531.5 194h1v2h-1zM345.5 194h1v2h-1zM442.5 194h7v2h-7zM335.5 194h3v2h-3zM517.5 195h1v1h-1zM406.5 195h3v1h-3zM358.5 195h1v1h-1zM470.5 195h5v1h-5zM432.5 195h7v1h-7zM493.5 195h23v1h-23zM521.5 195h8v1h-8zM388.5 195h2v1h-2zM476.5 195h8v1h-8zM328.5 195h1v1h-1zM363.5 195h3v1h-3zM424.5 195h6v2h-6zM454.5 196h11v1h-11zM442.5 196h6v1h-6zM476.5 196h7v1h-7zM468.5 196h5v1h-5zM487.5 196h2v1h-2zM521.5 196h6v1h-6zM449.5 196h4v1h-4zM353.5 196h4v1h-4zM408.5 196h1v1h-1zM492.5 196h26v1h-26zM413.5 196h4v1h-4zM372.5 196h1v1h-1zM432.5 196h4v1h-4zM339.5 196h3v1h-3zM529.5 196h4v1h-4zM330.5 196h3v1h-3zM418.5 196h3v1h-3zM374.5 196h2v2h-2zM410.5 197h7v1h-7zM427.5 197h3v1h-3zM477.5 197h1v1h-1zM526.5 197h1v1h-1zM529.5 197h3v1h-3zM479.5 197h4v1h-4zM487.5 197h31v1h-31zM457.5 197h7v1h-7zM466.5 197h7v1h-7zM353.5 197h1v1h-1zM454.5 197h2v2h-2zM432.5 197h2v2h-2zM442.5 197h11v2h-11zM403.5 197h6v2h-6zM423.5 197h1v2h-1zM427.5 198h2v1h-2zM459.5 198h2v1h-2zM387.5 198h2v1h-2zM469.5 198h4v1h-4zM497.5 198h23v1h-23zM524.5 198h4v1h-4zM477.5 198h6v1h-6zM462.5 198h2v1h-2zM342.5 198h5v1h-5zM410.5 198h4v1h-4zM466.5 198h1v1h-1zM475.5 198h1v1h-1zM365.5 196h2v4h-2zM418.5 197h1v3h-1zM378.5 198h3v2h-3zM441.5 199h8v1h-8zM452.5 199h11v1h-11zM479.5 199h4v1h-4zM403.5 199h1v1h-1zM407.5 199h6v1h-6zM405.5 199h1v1h-1zM523.5 199h5v1h-5zM512.5 199h7v1h-7zM520.5 199h1v1h-1zM423.5 199h2v1h-2zM468.5 199h4v1h-4zM429.5 199h5v1h-5zM342.5 199h4v2h-4zM497.5 199h14v2h-14zM530.5 199h3v2h-3zM450.5 200h5v1h-5zM366.5 200h1v1h-1zM429.5 200h6v1h-6zM400.5 200h2v1h-2zM527.5 200h1v1h-1zM403.5 200h9v1h-9zM423.5 200h1v1h-1zM477.5 200h6v1h-6zM518.5 200h3v1h-3zM461.5 200h1v1h-1zM525.5 200h1v1h-1zM512.5 200h1v1h-1zM441.5 200h6v1h-6zM376.5 200h1v2h-1zM467.5 200h6v2h-6zM456.5 200h2v2h-2zM396.5 201h3v1h-3zM452.5 201h3v1h-3zM406.5 201h6v1h-6zM526.5 201h3v1h-3zM416.5 201h9v1h-9zM460.5 201h2v1h-2zM499.5 201h9v1h-9zM400.5 201h1v1h-1zM513.5 201h3v1h-3zM519.5 201h3v1h-3zM352.5 201h2v1h-2zM386.5 201h3v1h-3zM478.5 201h9v1h-9zM435.5 201h2v1h-2zM428.5 201h6v1h-6zM357.5 200h2v3h-2zM441.5 201h3v2h-3zM410.5 202h3v1h-3zM406.5 202h3v1h-3zM500.5 202h1v1h-1zM351.5 202h3v1h-3zM367.5 202h1v1h-1zM472.5 202h1v1h-1zM433.5 202h2v1h-2zM404.5 202h1v1h-1zM394.5 202h6v1h-6zM492.5 202h4v1h-4zM375.5 202h2v1h-2zM478.5 202h12v1h-12zM428.5 202h3v1h-3zM418.5 202h6v1h-6zM414.5 202h3v1h-3zM462.5 202h4v1h-4zM525.5 202h2v2h-2zM502.5 202h5v2h-5zM515.5 202h1v2h-1zM468.5 202h3v2h-3zM386.5 202h6v2h-6zM328.5 202h1v2h-1zM448.5 202h4v2h-4zM494.5 203h4v1h-4zM419.5 203h5v1h-5zM472.5 203h21v1h-21zM396.5 203h4v1h-4zM404.5 203h12v1h-12zM428.5 203h7v1h-7zM375.5 203h1v1h-1zM352.5 203h2v1h-2zM530.5 201h2v4h-2zM410.5 204h7v1h-7zM428.5 204h2v1h-2zM447.5 204h5v1h-5zM543.5 204h1v1h-1zM494.5 204h16v1h-16zM396.5 204h3v1h-3zM525.5 204h3v1h-3zM387.5 204h6v1h-6zM468.5 204h11v1h-11zM419.5 204h3v1h-3zM407.5 204h2v1h-2zM404.5 204h1v1h-1zM461.5 204h1v2h-1zM332.5 204h2v2h-2zM330.5 204h1v2h-1zM494.5 205h13v1h-13zM424.5 205h6v1h-6zM405.5 205h14v1h-14zM393.5 205h6v1h-6zM508.5 205h3v1h-3zM386.5 205h6v1h-6zM452.5 205h4v1h-4zM521.5 205h4v1h-4zM466.5 205h10v1h-10zM446.5 205h3v1h-3zM355.5 204h4v3h-4zM481.5 204h11v3h-11zM381.5 205h1v2h-1zM527.5 205h1v2h-1zM515.5 205h1v2h-1zM363.5 205h1v2h-1zM351.5 205h2v2h-2zM494.5 206h16v1h-16zM408.5 206h20v1h-20zM405.5 206h2v1h-2zM393.5 206h3v1h-3zM455.5 206h4v1h-4zM466.5 206h8v1h-8zM384.5 206h2v1h-2zM429.5 206h1v1h-1zM440.5 206h2v1h-2zM521.5 206h3v2h-3zM378.5 207h1v1h-1zM405.5 207h25v1h-25zM515.5 207h2v1h-2zM482.5 207h28v1h-28zM465.5 207h9v1h-9zM478.5 207h2v1h-2zM462.5 207h2v1h-2zM526.5 207h4v1h-4zM448.5 206h3v3h-3zM476.5 208h4v1h-4zM461.5 208h6v1h-6zM482.5 208h14v1h-14zM521.5 208h9v1h-9zM501.5 208h5v1h-5zM427.5 208h1v1h-1zM470.5 208h5v1h-5zM394.5 208h3v1h-3zM355.5 208h1v1h-1zM534.5 208h1v1h-1zM515.5 208h3v1h-3zM326.5 206h1v4h-1zM336.5 207h2v3h-2zM439.5 208h1v2h-1zM536.5 208h1v2h-1zM406.5 208h20v2h-20zM398.5 209h1v1h-1zM500.5 209h7v1h-7zM516.5 209h2v1h-2zM446.5 209h5v1h-5zM348.5 209h1v1h-1zM470.5 209h25v1h-25zM524.5 209h6v1h-6zM381.5 208h1v3h-1zM428.5 209h1v2h-1zM461.5 209h3v2h-3zM470.5 210h5v1h-5zM499.5 210h8v1h-8zM513.5 210h6v1h-6zM405.5 210h21v1h-21zM477.5 210h18v1h-18zM386.5 208h4v4h-4zM431.5 210h2v2h-2zM468.5 210h1v2h-1zM474.5 211h5v1h-5zM428.5 211h2v1h-2zM458.5 211h6v1h-6zM515.5 211h1v1h-1zM404.5 211h21v1h-21zM466.5 211h1v1h-1zM382.5 211h1v1h-1zM480.5 211h15v1h-15zM401.5 211h2v2h-2zM508.5 211h1v2h-1zM399.5 211h1v2h-1zM436.5 211h3v2h-3zM416.5 212h7v1h-7zM496.5 212h2v1h-2zM391.5 212h1v1h-1zM456.5 212h2v1h-2zM480.5 212h14v1h-14zM427.5 212h6v1h-6zM404.5 212h9v1h-9zM461.5 212h4v1h-4zM469.5 212h9v1h-9zM356.5 212h1v1h-1zM524.5 212h3v1h-3zM446.5 210h2v4h-2zM518.5 211h2v3h-2zM501.5 211h6v3h-6zM542.5 212h2v2h-2zM534.5 213h5v1h-5zM371.5 213h1v1h-1zM380.5 213h1v1h-1zM469.5 213h6v1h-6zM521.5 213h4v1h-4zM482.5 213h1v1h-1zM484.5 213h11v1h-11zM402.5 213h1v1h-1zM406.5 213h6v1h-6zM496.5 213h3v1h-3zM435.5 213h4v2h-4zM458.5 213h6v2h-6zM406.5 214h5v1h-5zM471.5 214h4v1h-4zM510.5 214h2v1h-2zM516.5 214h1v1h-1zM535.5 214h3v1h-3zM540.5 214h2v1h-2zM482.5 214h17v1h-17zM513.5 214h2v1h-2zM522.5 214h2v1h-2zM443.5 214h1v1h-1zM417.5 213h16v3h-16zM401.5 214h2v2h-2zM449.5 214h2v2h-2zM481.5 215h4v1h-4zM513.5 215h4v1h-4zM531.5 215h1v1h-1zM339.5 215h1v1h-1zM436.5 215h7v1h-7zM505.5 215h1v1h-1zM511.5 215h1v1h-1zM410.5 215h1v1h-1zM473.5 215h6v1h-6zM487.5 215h9v1h-9zM397.5 214h3v3h-3zM384.5 214h3v3h-3zM527.5 215h2v2h-2zM406.5 215h3v2h-3zM498.5 215h1v2h-1zM511.5 216h5v1h-5zM486.5 216h10v1h-10zM415.5 216h14v1h-14zM446.5 216h4v1h-4zM473.5 216h12v1h-12zM412.5 216h2v1h-2zM438.5 216h4v1h-4zM401.5 216h1v1h-1zM531.5 216h2v1h-2zM522.5 215h3v3h-3zM520.5 216h1v2h-1zM504.5 216h2v2h-2zM511.5 217h6v1h-6zM393.5 217h4v1h-4zM412.5 217h10v1h-10zM530.5 217h3v1h-3zM339.5 217h1v1h-1zM359.5 217h2v1h-2zM470.5 217h14v1h-14zM426.5 217h6v1h-6zM367.5 217h3v1h-3zM407.5 217h2v1h-2zM438.5 217h1v1h-1zM458.5 215h3v4h-3zM535.5 216h3v3h-3zM398.5 217h1v2h-1zM371.5 217h1v2h-1zM441.5 217h1v2h-1zM465.5 217h4v2h-4zM446.5 217h3v2h-3zM470.5 218h3v1h-3zM417.5 218h7v1h-7zM406.5 218h2v1h-2zM426.5 218h3v1h-3zM394.5 218h3v1h-3zM368.5 218h1v1h-1zM499.5 218h5v1h-5zM413.5 218h3v1h-3zM339.5 218h2v1h-2zM485.5 217h13v3h-13zM513.5 218h12v2h-12zM474.5 218h10v2h-10zM507.5 218h1v2h-1zM449.5 219h1v1h-1zM446.5 219h2v1h-2zM397.5 219h3v1h-3zM463.5 219h10v1h-10zM415.5 219h8v1h-8zM499.5 219h2v1h-2zM402.5 219h1v1h-1zM426.5 219h2v1h-2zM436.5 219h1v2h-1zM361.5 219h2v2h-2zM335.5 219h3v2h-3zM463.5 220h5v1h-5zM474.5 220h24v1h-24zM342.5 220h1v1h-1zM417.5 220h4v1h-4zM499.5 220h3v1h-3zM392.5 220h2v1h-2zM422.5 220h6v1h-6zM513.5 220h14v1h-14zM397.5 220h1v1h-1zM459.5 219h2v3h-2zM346.5 219h2v3h-2zM503.5 219h1v3h-1zM534.5 220h2v2h-2zM446.5 220h3v2h-3zM361.5 221h1v1h-1zM391.5 221h3v1h-3zM337.5 221h1v1h-1zM485.5 221h17v1h-17zM463.5 221h6v1h-6zM514.5 221h13v1h-13zM439.5 219h3v4h-3zM404.5 220h2v3h-2zM418.5 221h11v2h-11zM373.5 221h2v2h-2zM480.5 221h2v2h-2zM476.5 221h3v2h-3zM390.5 222h2v1h-2zM444.5 222h1v1h-1zM505.5 222h2v1h-2zM457.5 222h12v1h-12zM509.5 222h1v1h-1zM514.5 222h7v1h-7zM358.5 222h3v1h-3zM486.5 222h9v1h-9zM499.5 222h5v1h-5zM343.5 222h5v1h-5zM522.5 222h4v2h-4zM527.5 222h4v2h-4zM353.5 222h3v2h-3zM532.5 222h3v2h-3zM344.5 223h2v1h-2zM330.5 223h5v1h-5zM434.5 223h1v1h-1zM444.5 223h4v1h-4zM457.5 223h6v1h-6zM473.5 223h1v1h-1zM491.5 223h4v1h-4zM464.5 223h4v1h-4zM451.5 223h1v1h-1zM404.5 223h3v1h-3zM487.5 223h3v1h-3zM513.5 223h8v1h-8zM436.5 222h2v3h-2zM476.5 223h6v2h-6zM417.5 223h12v2h-12zM513.5 224h7v1h-7zM456.5 224h5v1h-5zM450.5 224h2v1h-2zM472.5 224h3v1h-3zM488.5 224h6v1h-6zM508.5 224h1v1h-1zM463.5 224h3v1h-3zM335.5 224h2v1h-2zM467.5 224h3v1h-3zM524.5 224h3v1h-3zM444.5 224h1v2h-1zM347.5 224h3v2h-3zM472.5 225h2v1h-2zM434.5 225h4v1h-4zM487.5 225h2v1h-2zM376.5 225h1v1h-1zM446.5 225h1v1h-1zM465.5 225h4v1h-4zM451.5 225h10v1h-10zM421.5 225h8v1h-8zM417.5 225h2v1h-2zM513.5 225h8v1h-8zM351.5 224h1v3h-1zM537.5 225h1v2h-1zM478.5 225h4v2h-4zM406.5 225h1v2h-1zM434.5 226h1v1h-1zM347.5 226h1v1h-1zM399.5 226h1v1h-1zM473.5 226h1v1h-1zM421.5 226h6v1h-6zM415.5 226h2v1h-2zM509.5 226h12v1h-12zM444.5 226h2v1h-2zM466.5 226h1v1h-1zM330.5 224h3v4h-3zM475.5 227h3v1h-3zM351.5 227h3v1h-3zM408.5 227h1v1h-1zM432.5 227h1v1h-1zM418.5 227h1v1h-1zM393.5 227h8v1h-8zM412.5 227h2v1h-2zM421.5 227h8v1h-8zM508.5 227h14v1h-14zM495.5 224h3v5h-3zM524.5 225h2v4h-2zM463.5 225h1v4h-1zM326.5 226h2v3h-2zM451.5 226h8v3h-8zM445.5 227h1v2h-1zM534.5 227h2v2h-2zM398.5 228h4v1h-4zM425.5 228h1v1h-1zM427.5 228h2v1h-2zM330.5 228h2v1h-2zM499.5 228h1v1h-1zM481.5 228h1v1h-1zM513.5 228h10v1h-10zM475.5 228h2v1h-2zM487.5 226h1v4h-1zM350.5 228h6v2h-6zM508.5 228h4v2h-4zM431.5 228h3v2h-3zM535.5 229h1v1h-1zM453.5 229h4v1h-4zM327.5 229h5v1h-5zM513.5 229h13v1h-13zM446.5 229h2v1h-2zM390.5 229h1v1h-1zM527.5 229h1v1h-1zM470.5 229h2v1h-2zM426.5 229h3v1h-3zM458.5 229h6v1h-6zM481.5 229h3v1h-3zM414.5 229h1v1h-1zM479.5 229h1v1h-1zM417.5 229h2v1h-2zM422.5 229h2v1h-2zM394.5 228h1v3h-1zM520.5 230h6v1h-6zM514.5 230h5v1h-5zM427.5 230h5v1h-5zM444.5 230h7v1h-7zM326.5 230h5v1h-5zM470.5 230h3v1h-3zM353.5 230h4v1h-4zM454.5 230h1v1h-1zM410.5 230h5v1h-5zM464.5 230h1v1h-1zM441.5 230h1v1h-1zM345.5 230h1v1h-1zM433.5 230h1v1h-1zM369.5 230h1v1h-1zM387.5 230h1v1h-1zM508.5 230h5v1h-5zM438.5 227h2v5h-2zM421.5 230h1v2h-1zM459.5 230h2v2h-2zM383.5 230h3v2h-3zM456.5 230h1v2h-1zM326.5 231h4v1h-4zM444.5 231h11v1h-11zM368.5 231h2v1h-2zM513.5 231h2v1h-2zM520.5 231h4v1h-4zM354.5 231h3v1h-3zM482.5 230h2v3h-2zM406.5 231h2v2h-2zM447.5 232h8v1h-8zM345.5 232h1v1h-1zM419.5 232h1v1h-1zM468.5 232h2v1h-2zM514.5 232h1v1h-1zM497.5 232h1v1h-1zM516.5 231h3v3h-3zM378.5 232h1v2h-1zM524.5 232h1v2h-1zM386.5 232h2v2h-2zM527.5 232h3v2h-3zM331.5 232h1v2h-1zM355.5 232h2v2h-2zM442.5 232h4v2h-4zM374.5 233h1v1h-1zM405.5 233h4v1h-4zM333.5 233h1v1h-1zM471.5 232h2v3h-2zM417.5 233h3v2h-3zM434.5 233h4v2h-4zM482.5 233h1v2h-1zM489.5 233h3v2h-3zM523.5 234h4v1h-4zM477.5 234h1v1h-1zM444.5 234h2v1h-2zM441.5 234h1v1h-1zM331.5 234h3v1h-3zM516.5 234h6v1h-6zM377.5 234h1v1h-1zM426.5 234h2v1h-2zM457.5 232h9v4h-9zM447.5 233h9v3h-9zM405.5 234h5v2h-5zM412.5 234h3v2h-3zM426.5 235h4v1h-4zM471.5 235h6v1h-6zM439.5 235h4v1h-4zM347.5 235h3v1h-3zM355.5 235h2v1h-2zM418.5 235h2v1h-2zM491.5 235h1v2h-1zM515.5 235h7v2h-7zM524.5 235h3v2h-3zM451.5 236h1v1h-1zM478.5 236h4v1h-4zM461.5 236h5v1h-5zM472.5 236h1v1h-1zM453.5 236h7v1h-7zM361.5 236h2v1h-2zM369.5 236h1v1h-1zM422.5 236h1v2h-1zM453.5 237h6v1h-6zM431.5 237h1v1h-1zM537.5 237h1v1h-1zM478.5 237h5v1h-5zM426.5 237h1v1h-1zM461.5 237h2v1h-2zM413.5 236h4v3h-4zM373.5 236h3v3h-3zM527.5 237h1v2h-1zM437.5 237h1v2h-1zM397.5 237h2v2h-2zM505.5 237h3v2h-3zM446.5 237h1v2h-1zM461.5 238h1v1h-1zM430.5 238h2v1h-2zM480.5 238h3v1h-3zM392.5 238h1v1h-1zM451.5 238h8v1h-8zM466.5 238h3v1h-3zM521.5 237h2v3h-2zM498.5 237h1v3h-1zM514.5 237h4v3h-4zM542.5 238h2v2h-2zM353.5 238h1v2h-1zM494.5 239h1v1h-1zM466.5 239h5v1h-5zM426.5 239h1v1h-1zM478.5 239h5v1h-5zM371.5 239h2v1h-2zM362.5 239h2v1h-2zM505.5 239h6v1h-6zM451.5 239h11v1h-11zM374.5 239h2v2h-2zM421.5 239h2v2h-2zM424.5 239h1v2h-1zM431.5 240h2v1h-2zM514.5 240h2v1h-2zM362.5 240h1v1h-1zM426.5 240h4v1h-4zM466.5 240h6v1h-6zM460.5 240h2v1h-2zM508.5 240h3v1h-3zM372.5 240h1v1h-1zM453.5 240h3v1h-3zM517.5 240h2v1h-2zM522.5 240h2v1h-2zM530.5 240h1v1h-1zM411.5 239h2v3h-2zM473.5 240h2v2h-2zM476.5 240h7v2h-7zM367.5 240h1v2h-1zM326.5 240h1v2h-1zM378.5 241h1v1h-1zM467.5 241h5v1h-5zM453.5 241h4v1h-4zM421.5 241h4v1h-4zM446.5 241h1v1h-1zM509.5 241h6v1h-6zM488.5 241h1v1h-1zM390.5 239h4v4h-4zM407.5 240h3v3h-3zM512.5 242h3v1h-3zM447.5 242h4v1h-4zM453.5 242h8v1h-8zM469.5 242h2v1h-2zM385.5 242h1v1h-1zM473.5 242h3v1h-3zM414.5 242h3v1h-3zM434.5 242h2v1h-2zM340.5 242h1v1h-1zM376.5 242h3v1h-3zM362.5 242h1v1h-1zM462.5 241h4v3h-4zM531.5 243h1v1h-1zM377.5 243h2v1h-2zM338.5 243h4v1h-4zM480.5 243h3v1h-3zM404.5 243h2v1h-2zM468.5 243h2v1h-2zM332.5 243h1v1h-1zM448.5 243h13v1h-13zM413.5 243h1v1h-1zM425.5 242h1v3h-1zM501.5 242h1v3h-1zM480.5 244h4v1h-4zM374.5 244h1v1h-1zM490.5 244h1v1h-1zM347.5 244h1v1h-1zM419.5 244h1v1h-1zM452.5 244h9v1h-9zM332.5 244h11v1h-11zM449.5 244h2v1h-2zM465.5 244h5v1h-5zM431.5 243h5v3h-5zM379.5 244h2v2h-2zM451.5 245h10v1h-10zM466.5 245h5v1h-5zM346.5 245h3v1h-3zM423.5 245h3v1h-3zM491.5 245h2v1h-2zM483.5 245h1v1h-1zM413.5 245h1v1h-1zM355.5 244h2v3h-2zM335.5 245h9v2h-9zM346.5 246h4v1h-4zM497.5 246h2v1h-2zM454.5 246h7v1h-7zM476.5 246h1v1h-1zM451.5 246h2v1h-2zM466.5 246h4v1h-4zM379.5 246h1v1h-1zM515.5 245h2v3h-2zM431.5 246h4v2h-4zM436.5 246h2v2h-2zM362.5 246h1v2h-1zM345.5 247h5v1h-5zM497.5 247h3v1h-3zM377.5 247h2v1h-2zM335.5 247h3v1h-3zM475.5 247h1v1h-1zM340.5 247h4v1h-4zM447.5 246h1v3h-1zM533.5 246h3v3h-3zM423.5 246h2v3h-2zM494.5 246h2v3h-2zM442.5 246h1v3h-1zM451.5 247h10v2h-10zM403.5 247h1v2h-1zM431.5 248h3v1h-3zM342.5 248h2v1h-2zM339.5 248h2v1h-2zM464.5 247h2v3h-2zM326.5 249h4v1h-4zM530.5 249h2v1h-2zM421.5 249h2v1h-2zM442.5 249h6v1h-6zM502.5 249h4v1h-4zM451.5 249h9v1h-9zM346.5 249h2v1h-2zM343.5 249h1v1h-1zM389.5 249h2v1h-2zM509.5 249h1v2h-1zM428.5 250h2v1h-2zM461.5 250h4v1h-4zM333.5 250h6v1h-6zM343.5 250h5v1h-5zM441.5 250h19v1h-19zM479.5 250h2v1h-2zM536.5 249h1v3h-1zM489.5 249h5v3h-5zM505.5 250h1v2h-1zM437.5 250h1v2h-1zM440.5 251h29v1h-29zM389.5 251h5v1h-5zM343.5 251h3v1h-3zM511.5 251h2v1h-2zM333.5 251h2v1h-2zM428.5 251h4v1h-4zM520.5 251h1v1h-1zM522.5 251h4v1h-4zM487.5 251h1v1h-1zM418.5 249h1v4h-1zM361.5 249h2v4h-2zM422.5 250h1v3h-1zM428.5 252h2v1h-2zM339.5 252h7v1h-7zM389.5 252h3v1h-3zM510.5 252h1v1h-1zM446.5 252h19v1h-19zM438.5 252h5v1h-5zM516.5 251h1v3h-1zM469.5 252h1v2h-1zM490.5 252h1v2h-1zM494.5 252h1v2h-1zM396.5 253h1v1h-1zM420.5 253h3v1h-3zM512.5 253h2v1h-2zM350.5 253h2v1h-2zM339.5 253h6v1h-6zM413.5 253h5v1h-5zM447.5 253h19v1h-19zM521.5 252h3v3h-3zM436.5 253h4v2h-4zM447.5 254h18v1h-18zM338.5 254h1v1h-1zM469.5 254h2v1h-2zM395.5 254h1v1h-1zM420.5 254h1v1h-1zM332.5 254h3v1h-3zM535.5 252h2v4h-2zM360.5 253h3v3h-3zM491.5 254h2v2h-2zM499.5 254h3v2h-3zM351.5 254h1v2h-1zM392.5 255h2v1h-2zM447.5 255h20v1h-20zM436.5 255h6v1h-6zM469.5 255h1v1h-1zM381.5 253h5v4h-5zM479.5 254h2v3h-2zM521.5 255h2v2h-2zM419.5 255h2v2h-2zM405.5 255h2v2h-2zM506.5 255h1v2h-1zM518.5 256h2v1h-2zM352.5 256h1v1h-1zM357.5 256h5v1h-5zM501.5 256h1v1h-1zM334.5 256h1v1h-1zM446.5 256h1v1h-1zM449.5 256h14v1h-14zM426.5 255h2v3h-2zM440.5 256h2v2h-2zM368.5 256h1v2h-1zM436.5 256h2v2h-2zM459.5 257h3v1h-3zM356.5 257h6v1h-6zM443.5 257h2v1h-2zM518.5 257h3v1h-3zM446.5 257h7v1h-7zM365.5 257h2v1h-2zM499.5 257h2v2h-2zM476.5 257h1v2h-1zM385.5 257h1v2h-1zM528.5 257h3v2h-3zM491.5 258h2v1h-2zM356.5 258h5v1h-5zM425.5 258h6v1h-6zM466.5 258h4v1h-4zM496.5 257h2v3h-2zM538.5 257h2v3h-2zM502.5 258h1v2h-1zM437.5 258h4v2h-4zM442.5 258h11v2h-11zM458.5 258h4v2h-4zM356.5 259h6v1h-6zM466.5 259h5v1h-5zM511.5 259h2v1h-2zM491.5 259h1v1h-1zM426.5 259h5v1h-5zM529.5 259h1v1h-1zM404.5 259h1v1h-1zM352.5 259h1v2h-1zM426.5 260h4v1h-4zM361.5 260h1v1h-1zM404.5 260h2v1h-2zM459.5 260h2v1h-2zM341.5 260h1v1h-1zM437.5 260h16v1h-16zM466.5 260h3v1h-3zM447.5 261h2v1h-2zM464.5 261h1v1h-1zM439.5 261h5v1h-5zM429.5 261h3v1h-3zM540.5 261h1v1h-1zM450.5 261h4v1h-4zM458.5 261h4v1h-4zM507.5 260h2v3h-2zM398.5 261h3v2h-3zM439.5 262h9v1h-9zM458.5 262h2v1h-2zM428.5 262h7v1h-7zM464.5 262h5v1h-5zM461.5 262h2v1h-2zM341.5 261h2v3h-2zM346.5 261h3v3h-3zM420.5 261h4v3h-4zM519.5 263h2v1h-2zM516.5 263h1v1h-1zM441.5 263h7v1h-7zM449.5 263h1v1h-1zM458.5 263h11v1h-11zM367.5 262h2v3h-2zM373.5 262h1v3h-1zM398.5 263h1v2h-1zM429.5 263h6v2h-6zM535.5 264h1v1h-1zM443.5 264h2v1h-2zM519.5 264h1v1h-1zM458.5 264h12v1h-12zM446.5 264h4v1h-4zM427.5 264h1v1h-1zM503.5 263h1v3h-1zM335.5 265h1v1h-1zM352.5 265h1v1h-1zM367.5 265h1v1h-1zM429.5 265h7v1h-7zM344.5 265h1v1h-1zM534.5 265h3v1h-3zM426.5 265h2v1h-2zM443.5 265h7v1h-7zM458.5 265h8v1h-8zM414.5 263h2v4h-2zM412.5 265h1v2h-1zM343.5 266h3v1h-3zM427.5 266h1v1h-1zM404.5 266h3v1h-3zM446.5 266h2v1h-2zM458.5 266h6v1h-6zM430.5 266h5v1h-5zM509.5 266h2v1h-2zM465.5 266h1v1h-1zM368.5 266h1v1h-1zM504.5 266h1v1h-1zM467.5 265h3v3h-3zM333.5 265h1v3h-1zM399.5 266h2v2h-2zM480.5 266h1v2h-1zM384.5 266h3v2h-3zM430.5 267h2v1h-2zM405.5 267h2v1h-2zM459.5 267h2v1h-2zM433.5 267h2v1h-2zM503.5 267h1v1h-1zM450.5 267h3v2h-3zM342.5 267h4v2h-4zM419.5 267h2v2h-2zM445.5 267h1v2h-1zM355.5 267h1v2h-1zM531.5 268h1v1h-1zM384.5 268h4v1h-4zM460.5 268h3v1h-3zM501.5 268h4v1h-4zM413.5 267h1v3h-1zM397.5 267h1v3h-1zM431.5 268h4v2h-4zM457.5 269h6v1h-6zM470.5 269h4v1h-4zM445.5 269h3v1h-3zM502.5 269h3v1h-3zM384.5 269h5v1h-5zM517.5 266h2v5h-2zM451.5 269h3v2h-3zM344.5 269h1v2h-1zM462.5 270h1v1h-1zM434.5 270h1v1h-1zM397.5 270h2v1h-2zM501.5 270h4v1h-4zM457.5 270h1v1h-1zM387.5 270h2v1h-2zM466.5 270h1v1h-1zM469.5 270h5v1h-5zM338.5 270h3v1h-3zM429.5 270h2v1h-2zM342.5 270h1v1h-1zM437.5 268h4v4h-4zM447.5 270h2v2h-2zM411.5 270h2v2h-2zM417.5 270h1v2h-1zM519.5 271h2v1h-2zM501.5 271h2v1h-2zM338.5 271h1v1h-1zM481.5 271h5v1h-5zM451.5 271h2v1h-2zM488.5 271h1v1h-1zM384.5 271h3v2h-3zM430.5 271h1v2h-1zM356.5 271h1v2h-1zM329.5 272h1v1h-1zM519.5 272h1v1h-1zM360.5 272h1v1h-1zM483.5 272h1v1h-1zM485.5 272h1v1h-1zM449.5 272h2v1h-2zM416.5 272h2v1h-2zM463.5 272h3v1h-3zM481.5 272h1v1h-1zM338.5 272h2v1h-2zM476.5 271h3v3h-3zM532.5 272h1v2h-1zM427.5 272h1v2h-1zM430.5 273h3v1h-3zM398.5 273h6v1h-6zM536.5 273h1v1h-1zM355.5 273h2v1h-2zM483.5 273h2v1h-2zM437.5 273h1v2h-1zM463.5 273h7v2h-7zM390.5 273h6v2h-6zM541.5 274h2v1h-2zM399.5 274h5v1h-5zM427.5 274h6v1h-6zM482.5 274h3v1h-3zM351.5 274h1v1h-1zM406.5 273h3v3h-3zM356.5 274h3v2h-3zM360.5 274h1v2h-1zM503.5 275h2v1h-2zM428.5 275h3v1h-3zM436.5 275h2v1h-2zM467.5 275h3v1h-3zM401.5 275h3v1h-3zM362.5 275h1v1h-1zM416.5 275h1v2h-1zM541.5 275h1v2h-1zM360.5 276h2v1h-2zM436.5 276h1v1h-1zM358.5 276h1v1h-1zM485.5 276h1v1h-1zM418.5 276h3v1h-3zM402.5 276h4v1h-4zM449.5 276h1v1h-1zM388.5 275h2v3h-2zM425.5 276h2v2h-2zM496.5 276h3v2h-3zM438.5 276h3v2h-3zM430.5 276h1v2h-1zM356.5 276h1v2h-1zM468.5 277h3v1h-3zM361.5 277h1v1h-1zM484.5 277h2v1h-2zM404.5 277h2v1h-2zM434.5 277h3v1h-3zM386.5 277h1v1h-1zM418.5 277h2v1h-2zM401.5 277h2v2h-2zM446.5 277h5v2h-5zM336.5 278h1v1h-1zM416.5 278h1v1h-1zM496.5 278h4v1h-4zM509.5 278h1v1h-1zM385.5 278h5v1h-5zM431.5 278h4v1h-4zM350.5 278h1v1h-1zM468.5 278h4v1h-4zM370.5 278h2v2h-2zM473.5 279h5v1h-5zM332.5 279h2v1h-2zM511.5 279h1v1h-1zM465.5 279h1v1h-1zM427.5 279h1v1h-1zM424.5 279h1v1h-1zM351.5 279h1v1h-1zM430.5 279h5v2h-5zM414.5 279h3v2h-3zM380.5 280h1v1h-1zM369.5 280h3v1h-3zM510.5 280h2v1h-2zM356.5 280h1v1h-1zM331.5 280h4v1h-4zM343.5 278h1v4h-1zM347.5 280h1v2h-1zM404.5 280h2v2h-2zM388.5 280h1v2h-1zM423.5 280h5v2h-5zM449.5 281h3v1h-3zM472.5 281h1v1h-1zM458.5 281h2v1h-2zM513.5 281h5v1h-5zM429.5 281h6v1h-6zM496.5 281h1v1h-1zM413.5 281h3v2h-3zM445.5 281h1v2h-1zM507.5 281h3v2h-3zM332.5 281h3v2h-3zM405.5 282h6v1h-6zM370.5 282h2v1h-2zM423.5 282h3v1h-3zM471.5 282h2v1h-2zM429.5 282h5v1h-5zM436.5 279h3v5h-3zM392.5 280h4v4h-4zM398.5 282h3v2h-3zM514.5 282h4v2h-4zM382.5 282h1v2h-1zM427.5 282h1v2h-1zM446.5 283h2v1h-2zM333.5 283h3v1h-3zM347.5 283h1v1h-1zM403.5 283h1v1h-1zM507.5 283h2v1h-2zM501.5 280h1v5h-1zM405.5 283h9v2h-9zM421.5 283h2v2h-2zM424.5 283h2v2h-2zM472.5 283h1v2h-1zM382.5 284h2v1h-2zM429.5 284h1v1h-1zM515.5 284h1v1h-1zM387.5 284h2v1h-2zM395.5 284h1v1h-1zM401.5 284h3v1h-3zM510.5 284h3v1h-3zM415.5 283h1v3h-1zM373.5 283h1v3h-1zM380.5 284h1v2h-1zM407.5 285h4v1h-4zM472.5 285h5v1h-5zM383.5 285h1v1h-1zM514.5 285h2v1h-2zM517.5 285h1v1h-1zM398.5 285h6v1h-6zM499.5 285h3v1h-3zM429.5 285h2v1h-2zM336.5 285h2v1h-2zM453.5 284h2v3h-2zM389.5 285h4v2h-4zM423.5 285h3v2h-3zM486.5 286h5v1h-5zM499.5 286h2v1h-2zM447.5 286h1v1h-1zM378.5 286h3v1h-3zM483.5 286h1v1h-1zM412.5 286h1v1h-1zM407.5 286h2v1h-2zM435.5 286h1v1h-1zM434.5 287h1v1h-1zM486.5 287h6v1h-6zM399.5 286h5v3h-5zM326.5 286h2v3h-2zM389.5 287h3v2h-3zM380.5 287h2v2h-2zM486.5 288h5v1h-5zM373.5 288h2v1h-2zM410.5 288h2v1h-2zM347.5 286h2v4h-2zM418.5 287h3v3h-3zM427.5 287h4v3h-4zM432.5 288h3v2h-3zM381.5 289h1v1h-1zM374.5 289h1v1h-1zM486.5 289h3v1h-3zM395.5 289h3v2h-3zM407.5 289h3v2h-3zM476.5 289h3v2h-3zM436.5 290h1v1h-1zM434.5 290h1v1h-1zM418.5 290h1v1h-1zM375.5 290h2v1h-2zM371.5 290h3v1h-3zM506.5 290h1v1h-1zM401.5 290h3v1h-3zM416.5 291h1v1h-1zM518.5 291h1v1h-1zM476.5 291h1v1h-1zM398.5 291h6v1h-6zM540.5 291h2v1h-2zM522.5 291h1v1h-1zM478.5 291h1v1h-1zM438.5 290h3v3h-3zM335.5 292h1v1h-1zM390.5 292h2v1h-2zM541.5 292h1v1h-1zM395.5 292h9v1h-9zM522.5 292h2v1h-2zM406.5 293h1v1h-1zM378.5 293h1v2h-1zM395.5 293h6v2h-6zM471.5 293h5v2h-5zM416.5 294h2v1h-2zM407.5 294h2v1h-2zM486.5 294h2v1h-2zM399.5 295h2v1h-2zM471.5 295h3v1h-3zM453.5 295h1v1h-1zM475.5 295h1v2h-1zM410.5 295h2v2h-2zM392.5 295h6v2h-6zM450.5 296h3v1h-3zM471.5 296h1v1h-1zM541.5 296h1v1h-1zM509.5 296h1v1h-1zM374.5 296h1v1h-1zM369.5 296h2v1h-2zM488.5 296h1v1h-1zM431.5 294h4v4h-4zM389.5 295h1v3h-1zM419.5 296h2v2h-2zM371.5 297h4v1h-4zM477.5 297h7v1h-7zM368.5 297h2v1h-2zM451.5 297h2v1h-2zM487.5 297h2v1h-2zM412.5 297h3v1h-3zM401.5 297h3v1h-3zM467.5 297h3v1h-3zM393.5 297h2v1h-2zM389.5 298h4v1h-4zM427.5 298h5v1h-5zM478.5 298h6v1h-6zM405.5 298h1v1h-1zM386.5 298h1v1h-1zM410.5 298h5v1h-5zM532.5 298h2v1h-2zM407.5 298h2v1h-2zM378.5 298h1v2h-1zM372.5 298h3v2h-3zM402.5 298h1v2h-1zM331.5 298h1v2h-1zM439.5 298h1v2h-1zM358.5 299h2v1h-2zM428.5 299h3v1h-3zM476.5 299h7v1h-7zM422.5 299h1v2h-1zM390.5 299h3v2h-3zM412.5 299h3v2h-3zM346.5 299h1v2h-1zM438.5 300h2v1h-2zM429.5 300h2v1h-2zM476.5 300h6v1h-6zM328.5 298h1v4h-1zM488.5 298h1v4h-1zM373.5 300h2v2h-2zM402.5 300h2v2h-2zM386.5 301h5v1h-5zM350.5 301h1v1h-1zM430.5 301h1v1h-1zM413.5 301h4v1h-4zM528.5 301h3v1h-3zM355.5 299h2v4h-2zM474.5 301h1v2h-1zM393.5 302h1v1h-1zM374.5 302h1v1h-1zM414.5 302h2v1h-2zM386.5 302h4v1h-4zM485.5 302h2v2h-2zM420.5 302h2v2h-2zM403.5 302h1v2h-1zM528.5 302h4v2h-4zM511.5 302h1v2h-1zM380.5 302h5v2h-5zM389.5 303h1v1h-1zM434.5 303h1v1h-1zM473.5 303h2v1h-2zM407.5 303h3v1h-3zM424.5 303h2v1h-2zM503.5 303h1v1h-1zM437.5 303h3v1h-3zM478.5 301h6v4h-6zM533.5 303h5v2h-5zM379.5 304h6v1h-6zM403.5 304h7v1h-7zM485.5 304h4v1h-4zM433.5 304h2v1h-2zM438.5 304h3v1h-3zM415.5 304h3v1h-3zM397.5 304h1v1h-1zM446.5 303h1v3h-1zM368.5 304h3v2h-3zM522.5 304h2v2h-2zM386.5 304h1v2h-1zM424.5 304h4v2h-4zM408.5 305h2v1h-2zM527.5 305h2v1h-2zM396.5 305h4v1h-4zM518.5 305h1v1h-1zM338.5 305h1v1h-1zM472.5 305h1v1h-1zM380.5 305h5v1h-5zM476.5 305h6v1h-6zM422.5 305h1v2h-1zM438.5 305h4v2h-4zM328.5 305h1v2h-1zM400.5 306h1v1h-1zM527.5 306h1v1h-1zM357.5 306h5v1h-5zM411.5 306h2v1h-2zM424.5 306h2v1h-2zM337.5 306h1v1h-1zM380.5 306h6v1h-6zM364.5 306h1v2h-1zM475.5 306h8v2h-8zM369.5 306h2v2h-2zM375.5 306h1v2h-1zM464.5 307h1v1h-1zM384.5 307h1v1h-1zM471.5 307h3v1h-3zM519.5 307h3v1h-3zM411.5 307h4v1h-4zM357.5 307h6v1h-6zM423.5 307h1v1h-1zM432.5 305h2v4h-2zM326.5 307h2v2h-2zM491.5 307h1v2h-1zM400.5 307h2v2h-2zM471.5 308h7v1h-7zM527.5 308h1v1h-1zM337.5 308h1v1h-1zM411.5 308h1v1h-1zM331.5 308h1v1h-1zM480.5 308h5v1h-5zM355.5 308h1v1h-1zM438.5 307h1v3h-1zM513.5 308h2v2h-2zM408.5 309h2v1h-2zM374.5 309h1v1h-1zM345.5 309h1v1h-1zM459.5 309h2v1h-2zM466.5 309h1v1h-1zM424.5 309h1v1h-1zM472.5 309h6v1h-6zM418.5 305h2v6h-2zM430.5 309h2v2h-2zM441.5 309h2v2h-2zM370.5 310h2v1h-2zM373.5 310h2v1h-2zM458.5 310h3v1h-3zM463.5 310h4v1h-4zM408.5 310h4v1h-4zM475.5 310h3v1h-3zM427.5 309h1v3h-1zM532.5 310h4v2h-4zM334.5 310h2v2h-2zM390.5 310h3v2h-3zM443.5 311h3v1h-3zM384.5 311h1v1h-1zM538.5 311h1v1h-1zM369.5 311h6v1h-6zM459.5 311h2v1h-2zM540.5 311h2v1h-2zM513.5 311h2v1h-2zM475.5 311h1v1h-1zM409.5 311h3v1h-3zM465.5 311h1v1h-1zM494.5 312h4v1h-4zM431.5 312h2v1h-2zM515.5 312h2v1h-2zM510.5 312h2v1h-2zM415.5 312h2v1h-2zM326.5 312h1v1h-1zM409.5 312h1v1h-1zM374.5 312h1v1h-1zM447.5 312h1v1h-1zM332.5 312h3v1h-3zM380.5 309h3v5h-3zM399.5 312h5v2h-5zM362.5 312h1v2h-1zM473.5 312h3v2h-3zM384.5 312h2v2h-2zM543.5 312h1v2h-1zM481.5 312h2v2h-2zM466.5 312h1v2h-1zM457.5 312h7v2h-7zM374.5 313h3v1h-3zM348.5 313h3v1h-3zM493.5 313h5v1h-5zM478.5 313h1v1h-1zM515.5 313h1v1h-1zM510.5 313h1v1h-1zM369.5 313h1v1h-1zM521.5 313h1v1h-1zM336.5 312h6v3h-6zM409.5 313h2v2h-2zM349.5 314h4v1h-4zM514.5 314h3v1h-3zM457.5 314h6v1h-6zM369.5 314h7v1h-7zM479.5 314h1v1h-1zM421.5 314h1v1h-1zM520.5 314h2v1h-2zM380.5 314h6v1h-6zM393.5 312h1v4h-1zM485.5 312h3v4h-3zM333.5 313h2v3h-2zM492.5 314h2v2h-2zM400.5 314h4v2h-4zM377.5 314h1v2h-1zM535.5 314h4v2h-4zM434.5 315h1v1h-1zM368.5 315h8v1h-8zM386.5 315h1v1h-1zM427.5 315h1v1h-1zM479.5 315h2v1h-2zM336.5 315h4v1h-4zM515.5 315h7v1h-7zM507.5 315h1v1h-1zM383.5 315h1v1h-1zM457.5 315h7v1h-7zM475.5 315h1v2h-1zM483.5 316h3v1h-3zM535.5 316h3v1h-3zM400.5 316h3v1h-3zM372.5 316h5v1h-5zM328.5 316h1v1h-1zM515.5 316h4v1h-4zM528.5 316h1v1h-1zM466.5 316h1v1h-1zM457.5 316h4v1h-4zM368.5 316h1v1h-1zM332.5 316h3v1h-3zM420.5 315h2v3h-2zM350.5 315h4v3h-4zM378.5 316h2v2h-2zM535.5 317h1v1h-1zM458.5 317h3v1h-3zM465.5 317h2v1h-2zM374.5 317h3v1h-3zM516.5 317h2v1h-2zM476.5 317h3v1h-3zM483.5 317h6v1h-6zM383.5 316h4v3h-4zM335.5 317h1v2h-1zM369.5 317h3v2h-3zM400.5 317h4v2h-4zM526.5 317h3v2h-3zM417.5 317h1v2h-1zM524.5 318h1v1h-1zM538.5 317h1v3h-1zM531.5 318h1v2h-1zM516.5 318h1v2h-1zM354.5 318h1v2h-1zM481.5 318h8v2h-8zM465.5 318h1v2h-1zM523.5 319h6v1h-6zM369.5 319h2v1h-2zM379.5 319h1v1h-1zM383.5 319h3v1h-3zM478.5 319h1v1h-1zM423.5 318h3v3h-3zM459.5 318h2v3h-2zM375.5 318h2v3h-2zM493.5 319h1v2h-1zM399.5 319h1v2h-1zM475.5 319h1v2h-1zM487.5 320h2v1h-2zM391.5 320h1v1h-1zM371.5 320h1v1h-1zM518.5 320h1v1h-1zM523.5 320h3v1h-3zM378.5 320h2v1h-2zM368.5 320h1v1h-1zM481.5 320h4v1h-4z"/><path fill="#3e26a8" opacity="0.2" d=""/><g fill="#fff"><ellipse cx="462.5" cy="22.9" rx="6.9" ry="2.7"/><ellipse cx="469.3" cy="26.3" rx="4.1" ry="2.3"/><ellipse cx="504.8" cy="22.9" rx="2.2" ry="2.1"/><ellipse cx="533.5" cy="23.5" rx="5.1" ry="2.7"/><ellipse cx="488.5" cy="31.7" rx="3.7" ry="3.7"/><ellipse cx="479.1" cy="40.0" rx="4.3" ry="4.3"/><ellipse cx="476.4" cy="48.4" rx="4.3" ry="4.3"/><ellipse cx="490.7" cy="49.5" rx="4.8" ry="4.8"/><ellipse cx="500.0" cy="57.5" rx="4.3" ry="4.3"/><ellipse cx="496.1" cy="60.6" rx="5.3" ry="4.4"/><ellipse cx="486.4" cy="50.4" rx="1.4" ry="6.9"/><ellipse cx="516.1" cy="32.0" rx="4.1" ry="4.5"/><ellipse cx="519.5" cy="38.1" rx="3.1" ry="3.0"/><ellipse cx="498.7" cy="35.1" rx="2.2" ry="2.1"/><ellipse cx="338.4" cy="46.9" rx="4.3" ry="2.2"/><ellipse cx="451.3" cy="47.8" rx="2.2" ry="2.1"/><ellipse cx="510.7" cy="46.7" rx="2.2" ry="2.1"/><ellipse cx="524.1" cy="53.2" rx="2.2" ry="2.1"/><ellipse cx="348.0" cy="59.3" rx="2.2" ry="2.1"/><ellipse cx="474.3" cy="65.2" rx="6.9" ry="2.7"/><ellipse cx="468.1" cy="70.4" rx="2.2" ry="2.1"/><ellipse cx="534.6" cy="68.2" rx="2.2" ry="4.2"/><ellipse cx="494.4" cy="74.4" rx="3.7" ry="3.7"/><ellipse cx="477.2" cy="83.2" rx="4.3" ry="2.2"/><ellipse cx="456.9" cy="91.8" rx="2.2" ry="4.2"/><ellipse cx="499.7" cy="91.7" rx="2.2" ry="4.2"/><ellipse cx="480.8" cy="98.5" rx="2.2" ry="4.2"/><ellipse cx="462.9" cy="100.8" rx="2.2" ry="2.1"/><ellipse cx="474.4" cy="106.9" rx="2.2" ry="2.1"/><ellipse cx="487.1" cy="107.8" rx="2.2" ry="2.1"/><ellipse cx="456.2" cy="113.3" rx="2.2" ry="2.1"/><ellipse cx="535.0" cy="113.8" rx="2.2" ry="2.1"/><ellipse cx="508.0" cy="123.3" rx="4.5" ry="4.1"/><ellipse cx="518.7" cy="129.0" rx="4.5" ry="5.1"/><ellipse cx="513.9" cy="138.1" rx="5.2" ry="4.5"/><ellipse cx="512.8" cy="135.1" rx="2.8" ry="5.0"/><ellipse cx="508.7" cy="165.6" rx="4.5" ry="4.1"/><ellipse cx="522.4" cy="167.7" rx="7.9" ry="2.9"/><ellipse cx="531.1" cy="170.4" rx="3.3" ry="5.7"/><ellipse cx="528.3" cy="179.5" rx="7.4" ry="2.5"/><ellipse cx="514.4" cy="180.7" rx="5.2" ry="4.5"/><ellipse cx="523.6" cy="178.9" rx="1.4" ry="10.0"/><ellipse cx="523.7" cy="173.5" rx="2.2" ry="2.1"/><ellipse cx="457.3" cy="167.5" rx="2.2" ry="2.1"/><ellipse cx="497.7" cy="175.0" rx="3.7" ry="3.7"/><ellipse cx="494.0" cy="187.0" rx="4.3" ry="4.3"/><ellipse cx="492.2" cy="179.5" rx="3.1" ry="3.0"/><ellipse cx="444.0" cy="186.1" rx="2.2" ry="2.1"/><ellipse cx="434.4" cy="193.0" rx="4.3" ry="4.3"/><ellipse cx="456.1" cy="195.1" rx="2.2" ry="4.2"/><ellipse cx="475.7" cy="191.6" rx="2.2" ry="2.1"/><ellipse cx="510.9" cy="191.4" rx="2.2" ry="2.1"/><ellipse cx="495.0" cy="204.6" rx="4.3" ry="4.3"/><ellipse cx="524.8" cy="207.2" rx="3.7" ry="3.7"/><ellipse cx="461.3" cy="212.0" rx="3.7" ry="3.7"/><ellipse cx="458.6" cy="222.4" rx="7.9" ry="2.9"/><ellipse cx="453.2" cy="230.9" rx="4.8" ry="4.8"/><ellipse cx="467.5" cy="234.3" rx="7.4" ry="2.5"/><ellipse cx="487.5" cy="233.0" rx="9.0" ry="3.1"/><ellipse cx="495.3" cy="226.1" rx="4.3" ry="4.3"/><ellipse cx="482.0" cy="221.3" rx="7.4" ry="2.5"/><ellipse cx="488.9" cy="234.6" rx="3.4" ry="6.9"/><ellipse cx="482.3" cy="236.1" rx="2.5" ry="7.3"/><ellipse cx="474.8" cy="230.9" rx="4.0" ry="4.7"/><ellipse cx="461.5" cy="227.4" rx="4.6" ry="5.1"/><ellipse cx="460.9" cy="223.5" rx="2.8" ry="5.0"/><ellipse cx="523.1" cy="221.4" rx="2.2" ry="2.1"/><ellipse cx="537.4" cy="235.6" rx="3.7" ry="3.7"/><ellipse cx="402.9" cy="245.3" rx="2.2" ry="2.1"/><ellipse cx="529.9" cy="246.2" rx="2.2" ry="2.1"/><ellipse cx="535.9" cy="252.5" rx="2.2" ry="2.1"/><ellipse cx="522.8" cy="270.6" rx="2.2" ry="2.1"/><ellipse cx="535.2" cy="276.6" rx="2.2" ry="2.1"/><ellipse cx="484.6" cy="285.5" rx="3.7" ry="3.7"/><ellipse cx="527.3" cy="286.0" rx="3.7" ry="3.7"/><ellipse cx="474.2" cy="296.5" rx="2.2" ry="4.2"/><ellipse cx="539.7" cy="296.2" rx="3.7" ry="3.7"/><ellipse cx="540.4" cy="309.7" rx="4.5" ry="5.1"/><ellipse cx="538.8" cy="318.6" rx="6.0" ry="3.1"/><ellipse cx="498.7" cy="300.0" rx="2.2" ry="2.1"/><ellipse cx="517.2" cy="306.6" rx="6.4" ry="2.2"/><ellipse cx="509.0" cy="316.5" rx="3.7" ry="3.7"/><ellipse cx="469.5" cy="312.2" rx="2.2" ry="2.1"/><ellipse cx="487.6" cy="312.4" rx="2.2" ry="2.1"/><ellipse cx="445.0" cy="317.4" rx="2.2" ry="2.1"/><ellipse cx="474.2" cy="317.6" rx="2.2" ry="2.1"/></g><g fill="none" stroke="#3e26a8" stroke-width="0.8" opacity="0.4"><polyline points="332.8,62.0 353.8,47.3 379.0,34.7 395.8,26.3 410.5,20.0"/><polyline points="339.1,74.6 360.1,59.9 381.1,47.3 406.3,32.6 426.5,22.0"/><polyline points="330.7,89.3 347.5,76.7 368.5,66.2 387.5,57.0"/><polyline points="343.3,43.1 368.5,30.5 389.5,22.1"/><polyline points="379.0,315.5 405.5,286.3 445.3,273.0 471.9,254.5 492.5,241.2"/><polyline points="387.0,321.0 413.5,294.3 458.5,275.7 485.1,259.8"/><polyline points="365.8,321.0 392.3,297.0 418.8,283.7"/><polyline points="380.5,318.0 407.5,289.0 447.5,275.5 474.5,257.0"/></g><polygon points="497.5,86.0 514.5,86.0 514.5,119.0 544.5,119.0 544.5,124.0 533.5,124.0 533.5,186.0 518.5,193.0 505.5,206.0 498.5,216.0 493.5,222.0 488.5,221.0 484.5,213.0 481.5,200.0 479.5,185.0 478.5,165.0 479.5,150.0 483.5,137.0 489.5,124.0 495.5,110.0 496.5,98.0" fill="#3e26a8"/><rect x="515.0" y="86" width="17.0" height="33.5" fill="#f9fb15"/><rect x="533.5" y="124" width="11" height="62" fill="#f9fb15"/><polygon points="480.5,181.0 488.5,178.0 491.5,189.0 489.5,200.0 484.5,199.0 481.5,190.0" fill="#f9fb15" opacity="0.8"/><polyline points="495.5,115.0 493.5,130.0 494.5,140.0 499.5,154.0 502.5,166.0 510.5,173.0 512.5,186.0" fill="none" stroke="#f9fb15" stroke-width="1" opacity="0.6"/><polyline points="491.5,120.0 483.0,137.0 479.0,157.0 480.0,178.0 485.5,195.0 488.5,207.0 491.5,215.0" fill="none" stroke="#f9fb15" stroke-width="1" opacity="0.6"/><polygon points="447.5,228.0 450.5,222.0 458.5,219.0 464.5,216.5 474.5,216.0 482.5,219.0 490.5,221.5 498.5,222.5 503.0,228.0 501.5,234.0 495.5,239.0 487.5,238.0 480.5,235.5 472.5,236.5 464.5,235.0 458.5,238.0 450.5,236.0" fill="#fff"/><polygon points="508.2,125.2 515.5,124.5 522.9,124.1 524.0,130.4 521.9,136.7 520.8,143.0 512.4,143.0 507.2,138.8 508.2,132.5" fill="#fff"/><ellipse cx="447.0" cy="227.0" rx="2.5" ry="1.3" fill="#fff"/><ellipse cx="449.1" cy="224.6" rx="1.6" ry="1.8" fill="#fff"/><ellipse cx="449.1" cy="221.8" rx="1.6" ry="1.3" fill="#fff"/><ellipse cx="454.3" cy="221.5" rx="1.7" ry="1.5" fill="#fff"/><ellipse cx="458.9" cy="220.3" rx="2.4" ry="1.7" fill="#fff"/><ellipse cx="462.9" cy="216.4" rx="2.8" ry="1.5" fill="#fff"/><ellipse cx="463.4" cy="215.4" rx="2.0" ry="2.2" fill="#fff"/><ellipse cx="468.5" cy="216.5" rx="2.5" ry="1.6" fill="#fff"/><ellipse cx="474.6" cy="214.7" rx="1.6" ry="1.4" fill="#fff"/><ellipse cx="479.0" cy="217.3" rx="2.0" ry="1.9" fill="#fff"/><ellipse cx="482.4" cy="218.4" rx="2.7" ry="2.0" fill="#fff"/><ellipse cx="485.7" cy="220.5" rx="2.3" ry="2.3" fill="#fff"/><ellipse cx="491.2" cy="220.9" rx="3.0" ry="1.3" fill="#fff"/><ellipse cx="494.3" cy="222.8" rx="1.7" ry="1.8" fill="#fff"/><ellipse cx="497.1" cy="223.0" rx="2.6" ry="1.9" fill="#fff"/><ellipse cx="501.9" cy="224.7" rx="2.5" ry="1.9" fill="#fff"/><ellipse cx="503.2" cy="227.9" rx="2.8" ry="2.3" fill="#fff"/><ellipse cx="502.2" cy="231.5" rx="1.6" ry="2.0" fill="#fff"/><ellipse cx="501.9" cy="235.5" rx="2.7" ry="1.5" fill="#fff"/><ellipse cx="498.2" cy="237.0" rx="1.5" ry="1.8" fill="#fff"/><ellipse cx="494.5" cy="237.9" rx="1.6" ry="2.1" fill="#fff"/><ellipse cx="490.4" cy="237.7" rx="2.1" ry="2.2" fill="#fff"/><ellipse cx="486.2" cy="237.8" rx="2.3" ry="2.3" fill="#fff"/><ellipse cx="485.0" cy="237.8" rx="1.9" ry="1.7" fill="#fff"/><ellipse cx="480.1" cy="236.7" rx="2.9" ry="1.4" fill="#fff"/><ellipse cx="475.5" cy="235.2" rx="1.9" ry="1.8" fill="#fff"/><ellipse cx="472.8" cy="235.8" rx="1.5" ry="1.7" fill="#fff"/><ellipse cx="468.1" cy="235.9" rx="2.9" ry="2.0" fill="#fff"/><ellipse cx="464.5" cy="235.4" rx="2.5" ry="1.3" fill="#fff"/><ellipse cx="462.7" cy="237.3" rx="2.8" ry="2.2" fill="#fff"/><ellipse cx="458.2" cy="237.7" rx="1.7" ry="2.0" fill="#fff"/><ellipse cx="453.2" cy="235.7" rx="1.8" ry="1.4" fill="#fff"/><ellipse cx="450.0" cy="234.7" rx="1.5" ry="1.4" fill="#fff"/><ellipse cx="447.8" cy="231.6" rx="1.5" ry="2.2" fill="#fff"/><rect x="482.1" y="222.9" width="1.4" height="1.3" fill="#f9fb15" opacity="0.8"/><rect x="472.1" y="222.6" width="2.3" height="2.0" fill="#f9fb15" opacity="0.8"/><rect x="476.1" y="227.3" width="1.1" height="1.1" fill="#f9fb15" opacity="0.8"/><rect x="471.2" y="224.4" width="2.2" height="1.2" fill="#f9fb15" opacity="0.8"/><rect x="458.4" y="233.4" width="1.8" height="1.1" fill="#f9fb15" opacity="0.8"/><ellipse cx="493.5" cy="182.5" rx="5.8" ry="9" fill="#fff"/><ellipse cx="505.5" cy="162.6" rx="3.4" ry="3.8" fill="#fff"/><ellipse cx="519.5" cy="170" rx="9" ry="3" fill="#fff"/><ellipse cx="520.5" cy="182.5" rx="8.5" ry="3" fill="#fff"/><ellipse cx="532.5" cy="177" rx="2.8" ry="4" fill="#fff"/><ellipse cx="494.5" cy="203.5" rx="5" ry="5" fill="#fff"/><ellipse cx="505.0" cy="191" rx="5" ry="3" fill="#fff"/><ellipse cx="519.5" cy="159.8" rx="3" ry="1.8" fill="#fff"/><ellipse cx="506.1" cy="124.6" rx="2" ry="1.6" fill="#fff"/><ellipse cx="510.8" cy="104.2" rx="1.6" ry="2.1" fill="#fff"/><ellipse cx="502.7" cy="118.8" rx="1.3" ry="1.5" fill="#fff"/><ellipse cx="537.1" cy="116.8" rx="4.7" ry="3.1" fill="#fff"/><ellipse cx="519.2" cy="153.5" rx="3.7" ry="2.1" fill="#fff"/><polygon points="545.0,285.5 545.0,321.5 534.5,321.5" fill="#fff"/></g></g><rect x="34" y="20" width="218" height="301" fill="none" stroke="#262626" stroke-width="0.7" opacity="0.8"/><g stroke="#262626" stroke-width="0.7" opacity="0.8"><line x1="68.85" y1="321" x2="68.85" y2="324.2"/><line x1="68.85" y1="20" x2="68.85" y2="16.8"/><line x1="103.73" y1="321" x2="103.73" y2="324.2"/><line x1="103.73" y1="20" x2="103.73" y2="16.8"/><line x1="138.61" y1="321" x2="138.61" y2="324.2"/><line x1="138.61" y1="20" x2="138.61" y2="16.8"/><line x1="173.49" y1="321" x2="173.49" y2="324.2"/><line x1="173.49" y1="20" x2="173.49" y2="16.8"/><line x1="208.37" y1="321" x2="208.37" y2="324.2"/><line x1="208.37" y1="20" x2="208.37" y2="16.8"/><line x1="243.25" y1="321" x2="243.25" y2="324.2"/><line x1="243.25" y1="20" x2="243.25" y2="16.8"/><line x1="34" y1="54.80" x2="30.8" y2="54.80"/><line x1="252" y1="54.80" x2="255.2" y2="54.80"/><line x1="34" y1="89.64" x2="30.8" y2="89.64"/><line x1="252" y1="89.64" x2="255.2" y2="89.64"/><line x1="34" y1="124.48" x2="30.8" y2="124.48"/><line x1="252" y1="124.48" x2="255.2" y2="124.48"/><line x1="34" y1="159.32" x2="30.8" y2="159.32"/><line x1="252" y1="159.32" x2="255.2" y2="159.32"/><line x1="34" y1="194.15" x2="30.8" y2="194.15"/><line x1="252" y1="194.15" x2="255.2" y2="194.15"/><line x1="34" y1="228.99" x2="30.8" y2="228.99"/><line x1="252" y1="228.99" x2="255.2" y2="228.99"/><line x1="34" y1="263.83" x2="30.8" y2="263.83"/><line x1="252" y1="263.83" x2="255.2" y2="263.83"/><line x1="34" y1="298.67" x2="30.8" y2="298.67"/><line x1="252" y1="298.67" x2="255.2" y2="298.67"/></g><g font-size="10" fill="#262626"><text x="68.85" y="339.6" text-anchor="middle">500</text><text x="103.73" y="339.6" text-anchor="middle">1000</text><text x="138.61" y="339.6" text-anchor="middle">1500</text><text x="173.49" y="339.6" text-anchor="middle">2000</text><text x="208.37" y="339.6" text-anchor="middle">2500</text><text x="243.25" y="339.6" text-anchor="middle">3000</text><text x="26.30" y="58.80" text-anchor="end">500</text><text x="26.30" y="93.64" text-anchor="end">1000</text><text x="26.30" y="128.48" text-anchor="end">1500</text><text x="26.30" y="163.32" text-anchor="end">2000</text><text x="26.30" y="198.15" text-anchor="end">2500</text><text x="26.30" y="232.99" text-anchor="end">3000</text><text x="26.30" y="267.83" text-anchor="end">3500</text><text x="26.30" y="302.67" text-anchor="end">4000</text></g><text x="143.00" y="11.9" text-anchor="middle" font-weight="bold" font-size="11" fill="#000">NDVI - 10m</text><rect x="34" y="349.2" width="109.0" height="12.5" fill="#3e26a8"/><rect x="143.0" y="349.2" width="109.0" height="12.5" fill="#f9fb15"/><rect x="34" y="349.2" width="218" height="12.5" fill="none" stroke="#262626" stroke-width="0.7" opacity="0.6"/><g font-size="10" fill="#262626"><text x="88.50" y="375.5" text-anchor="middle">Non-crop</text><text x="197.50" y="375.5" text-anchor="middle">Crop</text></g><rect x="326.5" y="20" width="218" height="301" fill="none" stroke="#262626" stroke-width="0.7" opacity="0.8"/><g stroke="#262626" stroke-width="0.7" opacity="0.8"><line x1="360.98" y1="321" x2="360.98" y2="324.2"/><line x1="360.98" y1="20" x2="360.98" y2="16.8"/><line x1="395.80" y1="321" x2="395.80" y2="324.2"/><line x1="395.80" y1="20" x2="395.80" y2="16.8"/><line x1="430.62" y1="321" x2="430.62" y2="324.2"/><line x1="430.62" y1="20" x2="430.62" y2="16.8"/><line x1="465.45" y1="321" x2="465.45" y2="324.2"/><line x1="465.45" y1="20" x2="465.45" y2="16.8"/><line x1="500.27" y1="321" x2="500.27" y2="324.2"/><line x1="500.27" y1="20" x2="500.27" y2="16.8"/><line x1="535.10" y1="321" x2="535.10" y2="324.2"/><line x1="535.10" y1="20" x2="535.10" y2="16.8"/><line x1="326.5" y1="54.49" x2="323.3" y2="54.49"/><line x1="544.5" y1="54.49" x2="547.7" y2="54.49"/><line x1="326.5" y1="89.33" x2="323.3" y2="89.33"/><line x1="544.5" y1="89.33" x2="547.7" y2="89.33"/><line x1="326.5" y1="124.17" x2="323.3" y2="124.17"/><line x1="544.5" y1="124.17" x2="547.7" y2="124.17"/><line x1="326.5" y1="159.00" x2="323.3" y2="159.00"/><line x1="544.5" y1="159.00" x2="547.7" y2="159.00"/><line x1="326.5" y1="193.84" x2="323.3" y2="193.84"/><line x1="544.5" y1="193.84" x2="547.7" y2="193.84"/><line x1="326.5" y1="228.68" x2="323.3" y2="228.68"/><line x1="544.5" y1="228.68" x2="547.7" y2="228.68"/><line x1="326.5" y1="263.52" x2="323.3" y2="263.52"/><line x1="544.5" y1="263.52" x2="547.7" y2="263.52"/><line x1="326.5" y1="298.36" x2="323.3" y2="298.36"/><line x1="544.5" y1="298.36" x2="547.7" y2="298.36"/></g><g font-size="10" fill="#262626"><text x="360.98" y="339.6" text-anchor="middle">50</text><text x="395.80" y="339.6" text-anchor="middle">100</text><text x="430.62" y="339.6" text-anchor="middle">150</text><text x="465.45" y="339.6" text-anchor="middle">200</text><text x="500.27" y="339.6" text-anchor="middle">250</text><text x="535.10" y="339.6" text-anchor="middle">300</text><text x="318.80" y="58.49" text-anchor="end">50</text><text x="318.80" y="93.33" text-anchor="end">100</text><text x="318.80" y="128.17" text-anchor="end">150</text><text x="318.80" y="163.00" text-anchor="end">200</text><text x="318.80" y="197.84" text-anchor="end">250</text><text x="318.80" y="232.68" text-anchor="end">300</text><text x="318.80" y="267.52" text-anchor="end">350</text><text x="318.80" y="302.36" text-anchor="end">400</text></g><text x="435.50" y="11.9" text-anchor="middle" font-weight="bold" font-size="11" fill="#000">NDVI - 100m</text><rect x="326.5" y="349.2" width="109.0" height="12.5" fill="#3e26a8"/><rect x="435.5" y="349.2" width="109.0" height="12.5" fill="#f9fb15"/><rect x="326.5" y="349.2" width="218" height="12.5" fill="none" stroke="#262626" stroke-width="0.7" opacity="0.6"/><g font-size="10" fill="#262626"><text x="381.00" y="375.5" text-anchor="middle">Non-crop</text><text x="490.00" y="375.5" text-anchor="middle">Crop</text></g>
</svg></body></html>
